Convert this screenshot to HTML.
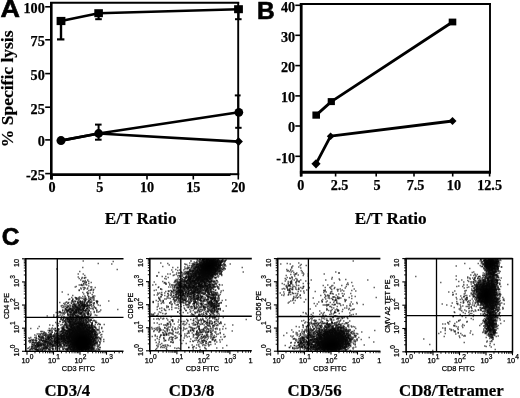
<!DOCTYPE html>
<html><head><meta charset="utf-8"><style>
html,body{margin:0;padding:0;background:#fff;}
body{width:520px;height:398px;overflow:hidden;}
svg{display:block;will-change:transform;}
</style></head><body>
<svg width="520" height="398" viewBox="0 0 520 398">
<defs><filter id="bb" x="-50%" y="-50%" width="200%" height="200%"><feGaussianBlur stdDeviation="2.5"/></filter></defs>
<rect width="520" height="398" fill="#fff"/>
<line x1="51.3" y1="2" x2="51.3" y2="179.5" stroke="#000" stroke-width="2.6"/>
<line x1="50.1" y1="2.8" x2="239.2" y2="2.8" stroke="#000" stroke-width="1.9"/>
<line x1="238.2" y1="2" x2="238.2" y2="174.6" stroke="#000" stroke-width="1.9"/>
<line x1="50" y1="174.6" x2="230.5" y2="174.6" stroke="#000" stroke-width="2.8"/>
<line x1="230" y1="174.2" x2="239.2" y2="174.2" stroke="#000" stroke-width="2.0"/>
<line x1="45.2" y1="6.8" x2="51.3" y2="6.8" stroke="#000" stroke-width="1.6"/>
<text x="44.8" y="13.2" font-size="14.2" text-anchor="end" style="font-family:'Liberation Serif',serif;font-weight:bold;stroke:#000;stroke-width:0.25" >100</text>
<line x1="45.2" y1="39.8" x2="51.3" y2="39.8" stroke="#000" stroke-width="1.6"/>
<text x="44.8" y="46.199999999999996" font-size="14.2" text-anchor="end" style="font-family:'Liberation Serif',serif;font-weight:bold;stroke:#000;stroke-width:0.25" >75</text>
<line x1="45.2" y1="73.6" x2="51.3" y2="73.6" stroke="#000" stroke-width="1.6"/>
<text x="44.8" y="80.0" font-size="14.2" text-anchor="end" style="font-family:'Liberation Serif',serif;font-weight:bold;stroke:#000;stroke-width:0.25" >50</text>
<line x1="45.2" y1="107.2" x2="51.3" y2="107.2" stroke="#000" stroke-width="1.6"/>
<text x="44.8" y="113.60000000000001" font-size="14.2" text-anchor="end" style="font-family:'Liberation Serif',serif;font-weight:bold;stroke:#000;stroke-width:0.25" >25</text>
<line x1="45.2" y1="139.9" x2="51.3" y2="139.9" stroke="#000" stroke-width="1.6"/>
<text x="44.8" y="146.3" font-size="14.2" text-anchor="end" style="font-family:'Liberation Serif',serif;font-weight:bold;stroke:#000;stroke-width:0.25" >0</text>
<line x1="45.2" y1="173.6" x2="51.3" y2="173.6" stroke="#000" stroke-width="1.6"/>
<text x="44.8" y="180.0" font-size="14.2" text-anchor="end" style="font-family:'Liberation Serif',serif;font-weight:bold;stroke:#000;stroke-width:0.25" >-25</text>
<line x1="52" y1="174.6" x2="52" y2="179.5" stroke="#000" stroke-width="1.6"/>
<text x="52.0" y="191.7" font-size="14.2" text-anchor="middle" style="font-family:'Liberation Serif',serif;font-weight:bold;stroke:#000;stroke-width:0.25" >0</text>
<line x1="99.7" y1="174.6" x2="99.7" y2="179.5" stroke="#000" stroke-width="1.6"/>
<text x="99.7" y="191.7" font-size="14.2" text-anchor="middle" style="font-family:'Liberation Serif',serif;font-weight:bold;stroke:#000;stroke-width:0.25" >5</text>
<line x1="147" y1="174.6" x2="147" y2="179.5" stroke="#000" stroke-width="1.6"/>
<text x="147.0" y="191.7" font-size="14.2" text-anchor="middle" style="font-family:'Liberation Serif',serif;font-weight:bold;stroke:#000;stroke-width:0.25" >10</text>
<line x1="193.3" y1="174.6" x2="193.3" y2="179.5" stroke="#000" stroke-width="1.6"/>
<text x="193.3" y="191.7" font-size="14.2" text-anchor="middle" style="font-family:'Liberation Serif',serif;font-weight:bold;stroke:#000;stroke-width:0.25" >15</text>
<line x1="238.3" y1="174.6" x2="238.3" y2="179.5" stroke="#000" stroke-width="1.6"/>
<text x="238.3" y="191.7" font-size="14.2" text-anchor="middle" style="font-family:'Liberation Serif',serif;font-weight:bold;stroke:#000;stroke-width:0.25" >20</text>
<text x="140.6" y="224.3" font-size="17.2" text-anchor="middle" style="font-family:'Liberation Serif',serif;font-weight:bold;stroke:#000;stroke-width:0.2" >E/T Ratio</text>
<text x="0" y="0" font-size="17.5" text-anchor="middle" style="font-family:'Liberation Serif',serif;font-weight:bold;stroke:#000;stroke-width:0.2" transform="translate(13.3,88.8) rotate(-90)">% Specific lysis</text>
<text x="0" y="0" font-size="24.5" transform="translate(0.6,17.4) scale(1.1,1)" style="font-family:'Liberation Sans',sans-serif;font-weight:bold;stroke:#000;stroke-width:0.6">A</text>
<path d="M61,21 L98.6,13.2 L238.5,9.2" fill="none" stroke="#000" stroke-width="2.6" stroke-linejoin="round"/>
<path d="M61,140.6 L98.6,133.5 L238.8,112.3" fill="none" stroke="#000" stroke-width="2.6" stroke-linejoin="round"/>
<path d="M61,140.6 L98.6,133.5 L238.6,141.6" fill="none" stroke="#000" stroke-width="2.6" stroke-linejoin="round"/>
<line x1="61" y1="21" x2="61" y2="39.4" stroke="#000" stroke-width="2.4"/>
<line x1="57" y1="39.4" x2="64.4" y2="39.4" stroke="#000" stroke-width="2.2"/>
<line x1="98.6" y1="13" x2="98.6" y2="19.2" stroke="#000" stroke-width="2.2"/>
<line x1="95.2" y1="19.2" x2="101.8" y2="19.2" stroke="#000" stroke-width="2.0"/>
<line x1="238.5" y1="9" x2="238.5" y2="19.2" stroke="#000" stroke-width="2.2"/>
<line x1="235" y1="19.2" x2="241.6" y2="19.2" stroke="#000" stroke-width="2.0"/>
<line x1="98.6" y1="124.6" x2="98.6" y2="139.7" stroke="#000" stroke-width="2.0"/>
<line x1="95" y1="124.6" x2="101.6" y2="124.6" stroke="#000" stroke-width="2.0"/>
<line x1="95" y1="139.7" x2="101.6" y2="139.7" stroke="#000" stroke-width="2.0"/>
<line x1="238.3" y1="95.4" x2="238.3" y2="127.8" stroke="#000" stroke-width="2.0"/>
<line x1="234.8" y1="95.4" x2="240.6" y2="95.4" stroke="#000" stroke-width="2.0"/>
<line x1="235.2" y1="127.8" x2="241.6" y2="127.8" stroke="#000" stroke-width="2.0"/>
<rect x="56.6" y="16.9" width="8.8" height="8.2" fill="#000"/>
<rect x="94.3" y="9.2" width="8.6" height="8.0" fill="#000"/>
<rect x="234.1" y="5.199999999999999" width="8.8" height="8.0" fill="#000"/>
<circle cx="61" cy="140.6" r="4.5" fill="#000"/>
<circle cx="98.6" cy="133.5" r="4.4" fill="#000"/>
<circle cx="238.8" cy="112.3" r="4.4" fill="#000"/>
<path d="M234.29999999999998,141.6 L238.6,137.29999999999998 L242.9,141.6 L238.6,145.9 Z" fill="#000"/>
<line x1="301.2" y1="3" x2="301.2" y2="176.5" stroke="#000" stroke-width="2.8"/>
<line x1="299.9" y1="4" x2="491" y2="4" stroke="#000" stroke-width="1.9"/>
<line x1="490" y1="3" x2="490" y2="172.2" stroke="#000" stroke-width="1.9"/>
<line x1="299.9" y1="172.2" x2="491" y2="172.2" stroke="#000" stroke-width="3.0"/>
<line x1="295.3" y1="5.3" x2="301.2" y2="5.3" stroke="#000" stroke-width="1.6"/>
<text x="295.2" y="11.5" font-size="14.2" text-anchor="end" style="font-family:'Liberation Serif',serif;font-weight:bold;stroke:#000;stroke-width:0.25" >40</text>
<line x1="295.3" y1="35.3" x2="301.2" y2="35.3" stroke="#000" stroke-width="1.6"/>
<text x="295.2" y="41.5" font-size="14.2" text-anchor="end" style="font-family:'Liberation Serif',serif;font-weight:bold;stroke:#000;stroke-width:0.25" >30</text>
<line x1="295.3" y1="65.6" x2="301.2" y2="65.6" stroke="#000" stroke-width="1.6"/>
<text x="295.2" y="71.8" font-size="14.2" text-anchor="end" style="font-family:'Liberation Serif',serif;font-weight:bold;stroke:#000;stroke-width:0.25" >20</text>
<line x1="295.3" y1="95.9" x2="301.2" y2="95.9" stroke="#000" stroke-width="1.6"/>
<text x="295.2" y="102.10000000000001" font-size="14.2" text-anchor="end" style="font-family:'Liberation Serif',serif;font-weight:bold;stroke:#000;stroke-width:0.25" >10</text>
<line x1="295.3" y1="126" x2="301.2" y2="126" stroke="#000" stroke-width="1.6"/>
<text x="295.2" y="132.2" font-size="14.2" text-anchor="end" style="font-family:'Liberation Serif',serif;font-weight:bold;stroke:#000;stroke-width:0.25" >0</text>
<line x1="295.3" y1="156.3" x2="301.2" y2="156.3" stroke="#000" stroke-width="1.6"/>
<text x="295.2" y="162.5" font-size="14.2" text-anchor="end" style="font-family:'Liberation Serif',serif;font-weight:bold;stroke:#000;stroke-width:0.25" >-10</text>
<line x1="300.8" y1="172.2" x2="300.8" y2="176.5" stroke="#000" stroke-width="1.6"/>
<text x="300.8" y="190.3" font-size="14.2" text-anchor="middle" style="font-family:'Liberation Serif',serif;font-weight:bold;stroke:#000;stroke-width:0.25" >0</text>
<line x1="335.6" y1="172.2" x2="335.6" y2="176.5" stroke="#000" stroke-width="1.6"/>
<text x="339.6" y="190.3" font-size="14.2" text-anchor="middle" style="font-family:'Liberation Serif',serif;font-weight:bold;stroke:#000;stroke-width:0.25" >2.5</text>
<line x1="376.2" y1="172.2" x2="376.2" y2="176.5" stroke="#000" stroke-width="1.6"/>
<text x="377.0" y="190.3" font-size="14.2" text-anchor="middle" style="font-family:'Liberation Serif',serif;font-weight:bold;stroke:#000;stroke-width:0.25" >5</text>
<line x1="414" y1="172.2" x2="414" y2="176.5" stroke="#000" stroke-width="1.6"/>
<text x="415.5" y="190.3" font-size="14.2" text-anchor="middle" style="font-family:'Liberation Serif',serif;font-weight:bold;stroke:#000;stroke-width:0.25" >7.5</text>
<line x1="452.7" y1="172.2" x2="452.7" y2="176.5" stroke="#000" stroke-width="1.6"/>
<text x="453.9" y="190.3" font-size="14.2" text-anchor="middle" style="font-family:'Liberation Serif',serif;font-weight:bold;stroke:#000;stroke-width:0.25" >10</text>
<line x1="489.6" y1="172.2" x2="489.6" y2="176.5" stroke="#000" stroke-width="1.6"/>
<text x="489.6" y="190.3" font-size="14.2" text-anchor="middle" style="font-family:'Liberation Serif',serif;font-weight:bold;stroke:#000;stroke-width:0.25" >12.5</text>
<text x="390.7" y="224.2" font-size="17.2" text-anchor="middle" style="font-family:'Liberation Serif',serif;font-weight:bold;stroke:#000;stroke-width:0.2" >E/T Ratio</text>
<text x="257.0" y="18.6" font-size="24.5" text-anchor="start" style="font-family:'Liberation Sans',sans-serif;font-weight:bold;stroke:#000;stroke-width:0.6" >B</text>
<path d="M316.2,115.1 L331.3,101.6 L452.5,22.0" fill="none" stroke="#000" stroke-width="2.8" stroke-linejoin="round"/>
<path d="M316.0,163.8 L330.6,136.2 L452.5,121.0" fill="none" stroke="#000" stroke-width="2.8" stroke-linejoin="round"/>
<rect x="312.4" y="111.5" width="7.6" height="7.2" fill="#000"/>
<rect x="327.7" y="98.1" width="7.2" height="7.0" fill="#000"/>
<rect x="448.7" y="18.6" width="7.6" height="6.8" fill="#000"/>
<path d="M311.4,163.8 L316.0,159.20000000000002 L320.6,163.8 L316.0,168.4 Z" fill="#000"/>
<path d="M326.8,136.2 L330.6,132.39999999999998 L334.40000000000003,136.2 L330.6,140.0 Z" fill="#000"/>
<path d="M448.5,121.0 L452.5,117.0 L456.5,121.0 L452.5,125.0 Z" fill="#000"/>
<text x="1.8" y="245.4" font-size="24.5" text-anchor="start" style="font-family:'Liberation Sans',sans-serif;font-weight:bold;stroke:#000;stroke-width:0.6" >C</text>
<line x1="25.8" y1="258.2" x2="25.8" y2="352" stroke="#000" stroke-width="1.6"/>
<line x1="25.1" y1="258.8" x2="123.5" y2="258.8" stroke="#000" stroke-width="1.6"/>
<line x1="25.1" y1="351.3" x2="123.5" y2="351.3" stroke="#000" stroke-width="1.6"/>
<line x1="57.3" y1="258.8" x2="57.3" y2="351.3" stroke="#000" stroke-width="1.3"/>
<line x1="25.8" y1="317.4" x2="123.5" y2="317.4" stroke="#000" stroke-width="1.4"/>
<line x1="22" y1="351.3" x2="25.8" y2="351.3" stroke="#000" stroke-width="1.1"/>
<line x1="23.8" y1="344.34" x2="25.8" y2="344.34" stroke="#000" stroke-width="0.9"/>
<line x1="23.8" y1="340.27" x2="25.8" y2="340.27" stroke="#000" stroke-width="0.9"/>
<line x1="23.8" y1="337.38" x2="25.8" y2="337.38" stroke="#000" stroke-width="0.9"/>
<line x1="23.8" y1="335.14" x2="25.8" y2="335.14" stroke="#000" stroke-width="0.9"/>
<line x1="23.8" y1="333.31" x2="25.8" y2="333.31" stroke="#000" stroke-width="0.9"/>
<line x1="23.8" y1="331.76" x2="25.8" y2="331.76" stroke="#000" stroke-width="0.9"/>
<line x1="23.8" y1="330.42" x2="25.8" y2="330.42" stroke="#000" stroke-width="0.9"/>
<line x1="23.8" y1="329.23" x2="25.8" y2="329.23" stroke="#000" stroke-width="0.9"/>
<line x1="22" y1="328.18" x2="25.8" y2="328.18" stroke="#000" stroke-width="1.1"/>
<line x1="23.8" y1="321.21" x2="25.8" y2="321.21" stroke="#000" stroke-width="0.9"/>
<line x1="23.8" y1="317.14" x2="25.8" y2="317.14" stroke="#000" stroke-width="0.9"/>
<line x1="23.8" y1="314.25" x2="25.8" y2="314.25" stroke="#000" stroke-width="0.9"/>
<line x1="23.8" y1="312.01" x2="25.8" y2="312.01" stroke="#000" stroke-width="0.9"/>
<line x1="23.8" y1="310.18" x2="25.8" y2="310.18" stroke="#000" stroke-width="0.9"/>
<line x1="23.8" y1="308.63" x2="25.8" y2="308.63" stroke="#000" stroke-width="0.9"/>
<line x1="23.8" y1="307.29" x2="25.8" y2="307.29" stroke="#000" stroke-width="0.9"/>
<line x1="23.8" y1="306.11" x2="25.8" y2="306.11" stroke="#000" stroke-width="0.9"/>
<line x1="22" y1="305.05" x2="25.8" y2="305.05" stroke="#000" stroke-width="1.1"/>
<line x1="23.8" y1="298.09" x2="25.8" y2="298.09" stroke="#000" stroke-width="0.9"/>
<line x1="23.8" y1="294.02" x2="25.8" y2="294.02" stroke="#000" stroke-width="0.9"/>
<line x1="23.8" y1="291.13" x2="25.8" y2="291.13" stroke="#000" stroke-width="0.9"/>
<line x1="23.8" y1="288.89" x2="25.8" y2="288.89" stroke="#000" stroke-width="0.9"/>
<line x1="23.8" y1="287.06" x2="25.8" y2="287.06" stroke="#000" stroke-width="0.9"/>
<line x1="23.8" y1="285.51" x2="25.8" y2="285.51" stroke="#000" stroke-width="0.9"/>
<line x1="23.8" y1="284.17" x2="25.8" y2="284.17" stroke="#000" stroke-width="0.9"/>
<line x1="23.8" y1="282.98" x2="25.8" y2="282.98" stroke="#000" stroke-width="0.9"/>
<line x1="22" y1="281.93" x2="25.8" y2="281.93" stroke="#000" stroke-width="1.1"/>
<line x1="23.8" y1="274.96" x2="25.8" y2="274.96" stroke="#000" stroke-width="0.9"/>
<line x1="23.8" y1="270.89" x2="25.8" y2="270.89" stroke="#000" stroke-width="0.9"/>
<line x1="23.8" y1="268" x2="25.8" y2="268" stroke="#000" stroke-width="0.9"/>
<line x1="23.8" y1="265.76" x2="25.8" y2="265.76" stroke="#000" stroke-width="0.9"/>
<line x1="23.8" y1="263.93" x2="25.8" y2="263.93" stroke="#000" stroke-width="0.9"/>
<line x1="23.8" y1="262.38" x2="25.8" y2="262.38" stroke="#000" stroke-width="0.9"/>
<line x1="23.8" y1="261.04" x2="25.8" y2="261.04" stroke="#000" stroke-width="0.9"/>
<line x1="23.8" y1="259.86" x2="25.8" y2="259.86" stroke="#000" stroke-width="0.9"/>
<line x1="22" y1="258.8" x2="25.8" y2="258.8" stroke="#000" stroke-width="1.1"/>
<line x1="27" y1="351.3" x2="27" y2="354.7" stroke="#000" stroke-width="1.1"/>
<line x1="34.98" y1="351.3" x2="34.98" y2="353.3" stroke="#000" stroke-width="0.9"/>
<line x1="39.64" y1="351.3" x2="39.64" y2="353.3" stroke="#000" stroke-width="0.9"/>
<line x1="42.95" y1="351.3" x2="42.95" y2="353.3" stroke="#000" stroke-width="0.9"/>
<line x1="45.52" y1="351.3" x2="45.52" y2="353.3" stroke="#000" stroke-width="0.9"/>
<line x1="47.62" y1="351.3" x2="47.62" y2="353.3" stroke="#000" stroke-width="0.9"/>
<line x1="49.4" y1="351.3" x2="49.4" y2="353.3" stroke="#000" stroke-width="0.9"/>
<line x1="50.93" y1="351.3" x2="50.93" y2="353.3" stroke="#000" stroke-width="0.9"/>
<line x1="52.29" y1="351.3" x2="52.29" y2="353.3" stroke="#000" stroke-width="0.9"/>
<line x1="53.5" y1="351.3" x2="53.5" y2="354.7" stroke="#000" stroke-width="1.1"/>
<line x1="61.48" y1="351.3" x2="61.48" y2="353.3" stroke="#000" stroke-width="0.9"/>
<line x1="66.14" y1="351.3" x2="66.14" y2="353.3" stroke="#000" stroke-width="0.9"/>
<line x1="69.45" y1="351.3" x2="69.45" y2="353.3" stroke="#000" stroke-width="0.9"/>
<line x1="72.02" y1="351.3" x2="72.02" y2="353.3" stroke="#000" stroke-width="0.9"/>
<line x1="74.12" y1="351.3" x2="74.12" y2="353.3" stroke="#000" stroke-width="0.9"/>
<line x1="75.9" y1="351.3" x2="75.9" y2="353.3" stroke="#000" stroke-width="0.9"/>
<line x1="77.43" y1="351.3" x2="77.43" y2="353.3" stroke="#000" stroke-width="0.9"/>
<line x1="78.79" y1="351.3" x2="78.79" y2="353.3" stroke="#000" stroke-width="0.9"/>
<line x1="80" y1="351.3" x2="80" y2="354.7" stroke="#000" stroke-width="1.1"/>
<line x1="87.98" y1="351.3" x2="87.98" y2="353.3" stroke="#000" stroke-width="0.9"/>
<line x1="92.64" y1="351.3" x2="92.64" y2="353.3" stroke="#000" stroke-width="0.9"/>
<line x1="95.95" y1="351.3" x2="95.95" y2="353.3" stroke="#000" stroke-width="0.9"/>
<line x1="98.52" y1="351.3" x2="98.52" y2="353.3" stroke="#000" stroke-width="0.9"/>
<line x1="100.62" y1="351.3" x2="100.62" y2="353.3" stroke="#000" stroke-width="0.9"/>
<line x1="102.4" y1="351.3" x2="102.4" y2="353.3" stroke="#000" stroke-width="0.9"/>
<line x1="103.93" y1="351.3" x2="103.93" y2="353.3" stroke="#000" stroke-width="0.9"/>
<line x1="105.29" y1="351.3" x2="105.29" y2="353.3" stroke="#000" stroke-width="0.9"/>
<line x1="106.5" y1="351.3" x2="106.5" y2="354.7" stroke="#000" stroke-width="1.1"/>
<line x1="114.48" y1="351.3" x2="114.48" y2="353.3" stroke="#000" stroke-width="0.9"/>
<line x1="119.14" y1="351.3" x2="119.14" y2="353.3" stroke="#000" stroke-width="0.9"/>
<line x1="122.45" y1="351.3" x2="122.45" y2="353.3" stroke="#000" stroke-width="0.9"/>
<text x="21.4" y="363.3" font-size="7.4" style="font-family:'Liberation Sans',sans-serif;stroke:#000;stroke-width:0.25">10<tspan dy="-4.3" font-size="6.6">0</tspan></text>
<text x="47.9" y="363.3" font-size="7.4" style="font-family:'Liberation Sans',sans-serif;stroke:#000;stroke-width:0.25">10<tspan dy="-4.3" font-size="6.6">1</tspan></text>
<text x="74.4" y="363.3" font-size="7.4" style="font-family:'Liberation Sans',sans-serif;stroke:#000;stroke-width:0.25">10<tspan dy="-4.3" font-size="6.6">2</tspan></text>
<text x="100.9" y="363.3" font-size="7.4" style="font-family:'Liberation Sans',sans-serif;stroke:#000;stroke-width:0.25">10<tspan dy="-4.3" font-size="6.6">3</tspan></text>
<text x="0" y="0" font-size="7.4" text-anchor="middle" style="font-family:'Liberation Sans',sans-serif;stroke:#000;stroke-width:0.25" transform="translate(18.8,350.5) rotate(-90)">10<tspan dy="-4.3" font-size="6.6">0</tspan></text>
<text x="0" y="0" font-size="7.4" text-anchor="middle" style="font-family:'Liberation Sans',sans-serif;stroke:#000;stroke-width:0.25" transform="translate(18.8,327.375) rotate(-90)">10<tspan dy="-4.3" font-size="6.6">1</tspan></text>
<text x="0" y="0" font-size="7.4" text-anchor="middle" style="font-family:'Liberation Sans',sans-serif;stroke:#000;stroke-width:0.25" transform="translate(18.8,304.25) rotate(-90)">10<tspan dy="-4.3" font-size="6.6">2</tspan></text>
<text x="0" y="0" font-size="7.4" text-anchor="middle" style="font-family:'Liberation Sans',sans-serif;stroke:#000;stroke-width:0.25" transform="translate(18.8,281.125) rotate(-90)">10<tspan dy="-4.3" font-size="6.6">3</tspan></text>
<text x="0" y="0" font-size="7.4" text-anchor="middle" style="font-family:'Liberation Sans',sans-serif;stroke:#000;stroke-width:0.25" transform="translate(18.8,263.0) rotate(-90)">10</text>
<text x="78.5" y="370.9" font-size="7.4" text-anchor="middle" style="font-family:'Liberation Sans',sans-serif;stroke:#000;stroke-width:0.25">CD3 FITC</text>
<text x="0" y="0" font-size="7.2" text-anchor="middle" style="font-family:'Liberation Sans',sans-serif;stroke:#000;stroke-width:0.25" transform="translate(9.2,306.05) rotate(-90)">CD4 PE</text>
<text x="67.3" y="396.0" font-size="16.8" text-anchor="middle" style="font-family:'Liberation Serif',serif;font-weight:bold;stroke:#000;stroke-width:0.2" >CD3/4</text>
<line x1="149.8" y1="258" x2="149.8" y2="351.5" stroke="#000" stroke-width="1.6"/>
<line x1="149.1" y1="258.6" x2="251.8" y2="258.6" stroke="#000" stroke-width="1.6"/>
<line x1="149.1" y1="350.8" x2="251.8" y2="350.8" stroke="#000" stroke-width="1.6"/>
<line x1="180.8" y1="258.6" x2="180.8" y2="350.8" stroke="#000" stroke-width="1.3"/>
<line x1="149.8" y1="316.2" x2="251.8" y2="316.2" stroke="#000" stroke-width="1.4"/>
<line x1="146" y1="350.8" x2="149.8" y2="350.8" stroke="#000" stroke-width="1.1"/>
<line x1="147.8" y1="343.86" x2="149.8" y2="343.86" stroke="#000" stroke-width="0.9"/>
<line x1="147.8" y1="339.8" x2="149.8" y2="339.8" stroke="#000" stroke-width="0.9"/>
<line x1="147.8" y1="336.92" x2="149.8" y2="336.92" stroke="#000" stroke-width="0.9"/>
<line x1="147.8" y1="334.69" x2="149.8" y2="334.69" stroke="#000" stroke-width="0.9"/>
<line x1="147.8" y1="332.86" x2="149.8" y2="332.86" stroke="#000" stroke-width="0.9"/>
<line x1="147.8" y1="331.32" x2="149.8" y2="331.32" stroke="#000" stroke-width="0.9"/>
<line x1="147.8" y1="329.98" x2="149.8" y2="329.98" stroke="#000" stroke-width="0.9"/>
<line x1="147.8" y1="328.8" x2="149.8" y2="328.8" stroke="#000" stroke-width="0.9"/>
<line x1="146" y1="327.75" x2="149.8" y2="327.75" stroke="#000" stroke-width="1.1"/>
<line x1="147.8" y1="320.81" x2="149.8" y2="320.81" stroke="#000" stroke-width="0.9"/>
<line x1="147.8" y1="316.75" x2="149.8" y2="316.75" stroke="#000" stroke-width="0.9"/>
<line x1="147.8" y1="313.87" x2="149.8" y2="313.87" stroke="#000" stroke-width="0.9"/>
<line x1="147.8" y1="311.64" x2="149.8" y2="311.64" stroke="#000" stroke-width="0.9"/>
<line x1="147.8" y1="309.81" x2="149.8" y2="309.81" stroke="#000" stroke-width="0.9"/>
<line x1="147.8" y1="308.27" x2="149.8" y2="308.27" stroke="#000" stroke-width="0.9"/>
<line x1="147.8" y1="306.93" x2="149.8" y2="306.93" stroke="#000" stroke-width="0.9"/>
<line x1="147.8" y1="305.75" x2="149.8" y2="305.75" stroke="#000" stroke-width="0.9"/>
<line x1="146" y1="304.7" x2="149.8" y2="304.7" stroke="#000" stroke-width="1.1"/>
<line x1="147.8" y1="297.76" x2="149.8" y2="297.76" stroke="#000" stroke-width="0.9"/>
<line x1="147.8" y1="293.7" x2="149.8" y2="293.7" stroke="#000" stroke-width="0.9"/>
<line x1="147.8" y1="290.82" x2="149.8" y2="290.82" stroke="#000" stroke-width="0.9"/>
<line x1="147.8" y1="288.59" x2="149.8" y2="288.59" stroke="#000" stroke-width="0.9"/>
<line x1="147.8" y1="286.76" x2="149.8" y2="286.76" stroke="#000" stroke-width="0.9"/>
<line x1="147.8" y1="285.22" x2="149.8" y2="285.22" stroke="#000" stroke-width="0.9"/>
<line x1="147.8" y1="283.88" x2="149.8" y2="283.88" stroke="#000" stroke-width="0.9"/>
<line x1="147.8" y1="282.7" x2="149.8" y2="282.7" stroke="#000" stroke-width="0.9"/>
<line x1="146" y1="281.65" x2="149.8" y2="281.65" stroke="#000" stroke-width="1.1"/>
<line x1="147.8" y1="274.71" x2="149.8" y2="274.71" stroke="#000" stroke-width="0.9"/>
<line x1="147.8" y1="270.65" x2="149.8" y2="270.65" stroke="#000" stroke-width="0.9"/>
<line x1="147.8" y1="267.77" x2="149.8" y2="267.77" stroke="#000" stroke-width="0.9"/>
<line x1="147.8" y1="265.54" x2="149.8" y2="265.54" stroke="#000" stroke-width="0.9"/>
<line x1="147.8" y1="263.71" x2="149.8" y2="263.71" stroke="#000" stroke-width="0.9"/>
<line x1="147.8" y1="262.17" x2="149.8" y2="262.17" stroke="#000" stroke-width="0.9"/>
<line x1="147.8" y1="260.83" x2="149.8" y2="260.83" stroke="#000" stroke-width="0.9"/>
<line x1="147.8" y1="259.65" x2="149.8" y2="259.65" stroke="#000" stroke-width="0.9"/>
<line x1="146" y1="258.6" x2="149.8" y2="258.6" stroke="#000" stroke-width="1.1"/>
<line x1="150.4" y1="350.8" x2="150.4" y2="354.2" stroke="#000" stroke-width="1.1"/>
<line x1="158.38" y1="350.8" x2="158.38" y2="352.8" stroke="#000" stroke-width="0.9"/>
<line x1="163.04" y1="350.8" x2="163.04" y2="352.8" stroke="#000" stroke-width="0.9"/>
<line x1="166.35" y1="350.8" x2="166.35" y2="352.8" stroke="#000" stroke-width="0.9"/>
<line x1="168.92" y1="350.8" x2="168.92" y2="352.8" stroke="#000" stroke-width="0.9"/>
<line x1="171.02" y1="350.8" x2="171.02" y2="352.8" stroke="#000" stroke-width="0.9"/>
<line x1="172.8" y1="350.8" x2="172.8" y2="352.8" stroke="#000" stroke-width="0.9"/>
<line x1="174.33" y1="350.8" x2="174.33" y2="352.8" stroke="#000" stroke-width="0.9"/>
<line x1="175.69" y1="350.8" x2="175.69" y2="352.8" stroke="#000" stroke-width="0.9"/>
<line x1="176.9" y1="350.8" x2="176.9" y2="354.2" stroke="#000" stroke-width="1.1"/>
<line x1="184.88" y1="350.8" x2="184.88" y2="352.8" stroke="#000" stroke-width="0.9"/>
<line x1="189.54" y1="350.8" x2="189.54" y2="352.8" stroke="#000" stroke-width="0.9"/>
<line x1="192.85" y1="350.8" x2="192.85" y2="352.8" stroke="#000" stroke-width="0.9"/>
<line x1="195.42" y1="350.8" x2="195.42" y2="352.8" stroke="#000" stroke-width="0.9"/>
<line x1="197.52" y1="350.8" x2="197.52" y2="352.8" stroke="#000" stroke-width="0.9"/>
<line x1="199.3" y1="350.8" x2="199.3" y2="352.8" stroke="#000" stroke-width="0.9"/>
<line x1="200.83" y1="350.8" x2="200.83" y2="352.8" stroke="#000" stroke-width="0.9"/>
<line x1="202.19" y1="350.8" x2="202.19" y2="352.8" stroke="#000" stroke-width="0.9"/>
<line x1="203.4" y1="350.8" x2="203.4" y2="354.2" stroke="#000" stroke-width="1.1"/>
<line x1="211.38" y1="350.8" x2="211.38" y2="352.8" stroke="#000" stroke-width="0.9"/>
<line x1="216.04" y1="350.8" x2="216.04" y2="352.8" stroke="#000" stroke-width="0.9"/>
<line x1="219.35" y1="350.8" x2="219.35" y2="352.8" stroke="#000" stroke-width="0.9"/>
<line x1="221.92" y1="350.8" x2="221.92" y2="352.8" stroke="#000" stroke-width="0.9"/>
<line x1="224.02" y1="350.8" x2="224.02" y2="352.8" stroke="#000" stroke-width="0.9"/>
<line x1="225.8" y1="350.8" x2="225.8" y2="352.8" stroke="#000" stroke-width="0.9"/>
<line x1="227.33" y1="350.8" x2="227.33" y2="352.8" stroke="#000" stroke-width="0.9"/>
<line x1="228.69" y1="350.8" x2="228.69" y2="352.8" stroke="#000" stroke-width="0.9"/>
<line x1="229.9" y1="350.8" x2="229.9" y2="354.2" stroke="#000" stroke-width="1.1"/>
<line x1="237.88" y1="350.8" x2="237.88" y2="352.8" stroke="#000" stroke-width="0.9"/>
<line x1="242.54" y1="350.8" x2="242.54" y2="352.8" stroke="#000" stroke-width="0.9"/>
<line x1="245.85" y1="350.8" x2="245.85" y2="352.8" stroke="#000" stroke-width="0.9"/>
<line x1="248.42" y1="350.8" x2="248.42" y2="352.8" stroke="#000" stroke-width="0.9"/>
<line x1="250.52" y1="350.8" x2="250.52" y2="352.8" stroke="#000" stroke-width="0.9"/>
<text x="144.8" y="363.3" font-size="7.4" style="font-family:'Liberation Sans',sans-serif;stroke:#000;stroke-width:0.25">10<tspan dy="-4.3" font-size="6.6">0</tspan></text>
<text x="171.3" y="363.3" font-size="7.4" style="font-family:'Liberation Sans',sans-serif;stroke:#000;stroke-width:0.25">10<tspan dy="-4.3" font-size="6.6">1</tspan></text>
<text x="197.8" y="363.3" font-size="7.4" style="font-family:'Liberation Sans',sans-serif;stroke:#000;stroke-width:0.25">10<tspan dy="-4.3" font-size="6.6">2</tspan></text>
<text x="224.3" y="363.3" font-size="7.4" style="font-family:'Liberation Sans',sans-serif;stroke:#000;stroke-width:0.25">10<tspan dy="-4.3" font-size="6.6">3</tspan></text>
<text x="248.60000000000002" y="363.3" font-size="7.4" style="font-family:'Liberation Sans',sans-serif;stroke:#000;stroke-width:0.25">1</text>
<text x="0" y="0" font-size="7.4" text-anchor="middle" style="font-family:'Liberation Sans',sans-serif;stroke:#000;stroke-width:0.25" transform="translate(142.8,350.0) rotate(-90)">10<tspan dy="-4.3" font-size="6.6">0</tspan></text>
<text x="0" y="0" font-size="7.4" text-anchor="middle" style="font-family:'Liberation Sans',sans-serif;stroke:#000;stroke-width:0.25" transform="translate(142.8,326.95) rotate(-90)">10<tspan dy="-4.3" font-size="6.6">1</tspan></text>
<text x="0" y="0" font-size="7.4" text-anchor="middle" style="font-family:'Liberation Sans',sans-serif;stroke:#000;stroke-width:0.25" transform="translate(142.8,303.90000000000003) rotate(-90)">10<tspan dy="-4.3" font-size="6.6">2</tspan></text>
<text x="0" y="0" font-size="7.4" text-anchor="middle" style="font-family:'Liberation Sans',sans-serif;stroke:#000;stroke-width:0.25" transform="translate(142.8,280.85) rotate(-90)">10<tspan dy="-4.3" font-size="6.6">3</tspan></text>
<text x="0" y="0" font-size="7.4" text-anchor="middle" style="font-family:'Liberation Sans',sans-serif;stroke:#000;stroke-width:0.25" transform="translate(142.8,262.8) rotate(-90)">10</text>
<text x="202.4" y="370.9" font-size="7.4" text-anchor="middle" style="font-family:'Liberation Sans',sans-serif;stroke:#000;stroke-width:0.25">CD3 FITC</text>
<text x="0" y="0" font-size="7.2" text-anchor="middle" style="font-family:'Liberation Sans',sans-serif;stroke:#000;stroke-width:0.25" transform="translate(133.20000000000002,305.70000000000005) rotate(-90)">CD8 PE</text>
<text x="191.6" y="396.0" font-size="16.8" text-anchor="middle" style="font-family:'Liberation Serif',serif;font-weight:bold;stroke:#000;stroke-width:0.2" >CD3/8</text>
<line x1="277.7" y1="258" x2="277.7" y2="351.9" stroke="#000" stroke-width="1.6"/>
<line x1="277" y1="258.6" x2="380.4" y2="258.6" stroke="#000" stroke-width="1.6"/>
<line x1="277" y1="351.2" x2="380.4" y2="351.2" stroke="#000" stroke-width="1.6"/>
<line x1="308.4" y1="258.6" x2="308.4" y2="351.2" stroke="#000" stroke-width="1.3"/>
<line x1="277.7" y1="316.5" x2="380.4" y2="316.5" stroke="#000" stroke-width="1.4"/>
<line x1="273.9" y1="351.2" x2="277.7" y2="351.2" stroke="#000" stroke-width="1.1"/>
<line x1="275.7" y1="344.23" x2="277.7" y2="344.23" stroke="#000" stroke-width="0.9"/>
<line x1="275.7" y1="340.15" x2="277.7" y2="340.15" stroke="#000" stroke-width="0.9"/>
<line x1="275.7" y1="337.26" x2="277.7" y2="337.26" stroke="#000" stroke-width="0.9"/>
<line x1="275.7" y1="335.02" x2="277.7" y2="335.02" stroke="#000" stroke-width="0.9"/>
<line x1="275.7" y1="333.19" x2="277.7" y2="333.19" stroke="#000" stroke-width="0.9"/>
<line x1="275.7" y1="331.64" x2="277.7" y2="331.64" stroke="#000" stroke-width="0.9"/>
<line x1="275.7" y1="330.29" x2="277.7" y2="330.29" stroke="#000" stroke-width="0.9"/>
<line x1="275.7" y1="329.11" x2="277.7" y2="329.11" stroke="#000" stroke-width="0.9"/>
<line x1="273.9" y1="328.05" x2="277.7" y2="328.05" stroke="#000" stroke-width="1.1"/>
<line x1="275.7" y1="321.08" x2="277.7" y2="321.08" stroke="#000" stroke-width="0.9"/>
<line x1="275.7" y1="317" x2="277.7" y2="317" stroke="#000" stroke-width="0.9"/>
<line x1="275.7" y1="314.11" x2="277.7" y2="314.11" stroke="#000" stroke-width="0.9"/>
<line x1="275.7" y1="311.87" x2="277.7" y2="311.87" stroke="#000" stroke-width="0.9"/>
<line x1="275.7" y1="310.04" x2="277.7" y2="310.04" stroke="#000" stroke-width="0.9"/>
<line x1="275.7" y1="308.49" x2="277.7" y2="308.49" stroke="#000" stroke-width="0.9"/>
<line x1="275.7" y1="307.14" x2="277.7" y2="307.14" stroke="#000" stroke-width="0.9"/>
<line x1="275.7" y1="305.96" x2="277.7" y2="305.96" stroke="#000" stroke-width="0.9"/>
<line x1="273.9" y1="304.9" x2="277.7" y2="304.9" stroke="#000" stroke-width="1.1"/>
<line x1="275.7" y1="297.93" x2="277.7" y2="297.93" stroke="#000" stroke-width="0.9"/>
<line x1="275.7" y1="293.85" x2="277.7" y2="293.85" stroke="#000" stroke-width="0.9"/>
<line x1="275.7" y1="290.96" x2="277.7" y2="290.96" stroke="#000" stroke-width="0.9"/>
<line x1="275.7" y1="288.72" x2="277.7" y2="288.72" stroke="#000" stroke-width="0.9"/>
<line x1="275.7" y1="286.89" x2="277.7" y2="286.89" stroke="#000" stroke-width="0.9"/>
<line x1="275.7" y1="285.34" x2="277.7" y2="285.34" stroke="#000" stroke-width="0.9"/>
<line x1="275.7" y1="283.99" x2="277.7" y2="283.99" stroke="#000" stroke-width="0.9"/>
<line x1="275.7" y1="282.81" x2="277.7" y2="282.81" stroke="#000" stroke-width="0.9"/>
<line x1="273.9" y1="281.75" x2="277.7" y2="281.75" stroke="#000" stroke-width="1.1"/>
<line x1="275.7" y1="274.78" x2="277.7" y2="274.78" stroke="#000" stroke-width="0.9"/>
<line x1="275.7" y1="270.7" x2="277.7" y2="270.7" stroke="#000" stroke-width="0.9"/>
<line x1="275.7" y1="267.81" x2="277.7" y2="267.81" stroke="#000" stroke-width="0.9"/>
<line x1="275.7" y1="265.57" x2="277.7" y2="265.57" stroke="#000" stroke-width="0.9"/>
<line x1="275.7" y1="263.74" x2="277.7" y2="263.74" stroke="#000" stroke-width="0.9"/>
<line x1="275.7" y1="262.19" x2="277.7" y2="262.19" stroke="#000" stroke-width="0.9"/>
<line x1="275.7" y1="260.84" x2="277.7" y2="260.84" stroke="#000" stroke-width="0.9"/>
<line x1="275.7" y1="259.66" x2="277.7" y2="259.66" stroke="#000" stroke-width="0.9"/>
<line x1="273.9" y1="258.6" x2="277.7" y2="258.6" stroke="#000" stroke-width="1.1"/>
<line x1="278" y1="351.2" x2="278" y2="354.6" stroke="#000" stroke-width="1.1"/>
<line x1="285.98" y1="351.2" x2="285.98" y2="353.2" stroke="#000" stroke-width="0.9"/>
<line x1="290.64" y1="351.2" x2="290.64" y2="353.2" stroke="#000" stroke-width="0.9"/>
<line x1="293.95" y1="351.2" x2="293.95" y2="353.2" stroke="#000" stroke-width="0.9"/>
<line x1="296.52" y1="351.2" x2="296.52" y2="353.2" stroke="#000" stroke-width="0.9"/>
<line x1="298.62" y1="351.2" x2="298.62" y2="353.2" stroke="#000" stroke-width="0.9"/>
<line x1="300.4" y1="351.2" x2="300.4" y2="353.2" stroke="#000" stroke-width="0.9"/>
<line x1="301.93" y1="351.2" x2="301.93" y2="353.2" stroke="#000" stroke-width="0.9"/>
<line x1="303.29" y1="351.2" x2="303.29" y2="353.2" stroke="#000" stroke-width="0.9"/>
<line x1="304.5" y1="351.2" x2="304.5" y2="354.6" stroke="#000" stroke-width="1.1"/>
<line x1="312.48" y1="351.2" x2="312.48" y2="353.2" stroke="#000" stroke-width="0.9"/>
<line x1="317.14" y1="351.2" x2="317.14" y2="353.2" stroke="#000" stroke-width="0.9"/>
<line x1="320.45" y1="351.2" x2="320.45" y2="353.2" stroke="#000" stroke-width="0.9"/>
<line x1="323.02" y1="351.2" x2="323.02" y2="353.2" stroke="#000" stroke-width="0.9"/>
<line x1="325.12" y1="351.2" x2="325.12" y2="353.2" stroke="#000" stroke-width="0.9"/>
<line x1="326.9" y1="351.2" x2="326.9" y2="353.2" stroke="#000" stroke-width="0.9"/>
<line x1="328.43" y1="351.2" x2="328.43" y2="353.2" stroke="#000" stroke-width="0.9"/>
<line x1="329.79" y1="351.2" x2="329.79" y2="353.2" stroke="#000" stroke-width="0.9"/>
<line x1="331" y1="351.2" x2="331" y2="354.6" stroke="#000" stroke-width="1.1"/>
<line x1="338.98" y1="351.2" x2="338.98" y2="353.2" stroke="#000" stroke-width="0.9"/>
<line x1="343.64" y1="351.2" x2="343.64" y2="353.2" stroke="#000" stroke-width="0.9"/>
<line x1="346.95" y1="351.2" x2="346.95" y2="353.2" stroke="#000" stroke-width="0.9"/>
<line x1="349.52" y1="351.2" x2="349.52" y2="353.2" stroke="#000" stroke-width="0.9"/>
<line x1="351.62" y1="351.2" x2="351.62" y2="353.2" stroke="#000" stroke-width="0.9"/>
<line x1="353.4" y1="351.2" x2="353.4" y2="353.2" stroke="#000" stroke-width="0.9"/>
<line x1="354.93" y1="351.2" x2="354.93" y2="353.2" stroke="#000" stroke-width="0.9"/>
<line x1="356.29" y1="351.2" x2="356.29" y2="353.2" stroke="#000" stroke-width="0.9"/>
<line x1="357.5" y1="351.2" x2="357.5" y2="354.6" stroke="#000" stroke-width="1.1"/>
<line x1="365.48" y1="351.2" x2="365.48" y2="353.2" stroke="#000" stroke-width="0.9"/>
<line x1="370.14" y1="351.2" x2="370.14" y2="353.2" stroke="#000" stroke-width="0.9"/>
<line x1="373.45" y1="351.2" x2="373.45" y2="353.2" stroke="#000" stroke-width="0.9"/>
<line x1="376.02" y1="351.2" x2="376.02" y2="353.2" stroke="#000" stroke-width="0.9"/>
<line x1="378.12" y1="351.2" x2="378.12" y2="353.2" stroke="#000" stroke-width="0.9"/>
<line x1="379.9" y1="351.2" x2="379.9" y2="353.2" stroke="#000" stroke-width="0.9"/>
<text x="272.4" y="363.3" font-size="7.4" style="font-family:'Liberation Sans',sans-serif;stroke:#000;stroke-width:0.25">10<tspan dy="-4.3" font-size="6.6">0</tspan></text>
<text x="298.9" y="363.3" font-size="7.4" style="font-family:'Liberation Sans',sans-serif;stroke:#000;stroke-width:0.25">10<tspan dy="-4.3" font-size="6.6">1</tspan></text>
<text x="325.4" y="363.3" font-size="7.4" style="font-family:'Liberation Sans',sans-serif;stroke:#000;stroke-width:0.25">10<tspan dy="-4.3" font-size="6.6">2</tspan></text>
<text x="351.9" y="363.3" font-size="7.4" style="font-family:'Liberation Sans',sans-serif;stroke:#000;stroke-width:0.25">10<tspan dy="-4.3" font-size="6.6">3</tspan></text>
<text x="377.2" y="363.3" font-size="7.4" style="font-family:'Liberation Sans',sans-serif;stroke:#000;stroke-width:0.25">1</text>
<text x="0" y="0" font-size="7.4" text-anchor="middle" style="font-family:'Liberation Sans',sans-serif;stroke:#000;stroke-width:0.25" transform="translate(270.7,350.4) rotate(-90)">10<tspan dy="-4.3" font-size="6.6">0</tspan></text>
<text x="0" y="0" font-size="7.4" text-anchor="middle" style="font-family:'Liberation Sans',sans-serif;stroke:#000;stroke-width:0.25" transform="translate(270.7,327.25) rotate(-90)">10<tspan dy="-4.3" font-size="6.6">1</tspan></text>
<text x="0" y="0" font-size="7.4" text-anchor="middle" style="font-family:'Liberation Sans',sans-serif;stroke:#000;stroke-width:0.25" transform="translate(270.7,304.09999999999997) rotate(-90)">10<tspan dy="-4.3" font-size="6.6">2</tspan></text>
<text x="0" y="0" font-size="7.4" text-anchor="middle" style="font-family:'Liberation Sans',sans-serif;stroke:#000;stroke-width:0.25" transform="translate(270.7,280.95) rotate(-90)">10<tspan dy="-4.3" font-size="6.6">3</tspan></text>
<text x="0" y="0" font-size="7.4" text-anchor="middle" style="font-family:'Liberation Sans',sans-serif;stroke:#000;stroke-width:0.25" transform="translate(270.7,262.8) rotate(-90)">10</text>
<text x="330.0" y="370.9" font-size="7.4" text-anchor="middle" style="font-family:'Liberation Sans',sans-serif;stroke:#000;stroke-width:0.25">CD3 FITC</text>
<text x="0" y="0" font-size="7.2" text-anchor="middle" style="font-family:'Liberation Sans',sans-serif;stroke:#000;stroke-width:0.25" transform="translate(261.09999999999997,305.9) rotate(-90)">CD56 PE</text>
<text x="314.6" y="396.0" font-size="16.8" text-anchor="middle" style="font-family:'Liberation Serif',serif;font-weight:bold;stroke:#000;stroke-width:0.2" >CD3/56</text>
<line x1="406.1" y1="258" x2="406.1" y2="352.5" stroke="#000" stroke-width="1.6"/>
<line x1="405.4" y1="258.6" x2="512.5" y2="258.6" stroke="#000" stroke-width="1.6"/>
<line x1="405.4" y1="351.8" x2="512.5" y2="351.8" stroke="#000" stroke-width="1.6"/>
<line x1="512.5" y1="258" x2="512.5" y2="352.5" stroke="#000" stroke-width="1.5"/>
<line x1="436.5" y1="258.6" x2="436.5" y2="351.8" stroke="#000" stroke-width="1.3"/>
<line x1="406.1" y1="315.6" x2="512.5" y2="315.6" stroke="#000" stroke-width="1.4"/>
<line x1="402.3" y1="351.8" x2="406.1" y2="351.8" stroke="#000" stroke-width="1.1"/>
<line x1="404.1" y1="344.79" x2="406.1" y2="344.79" stroke="#000" stroke-width="0.9"/>
<line x1="404.1" y1="340.68" x2="406.1" y2="340.68" stroke="#000" stroke-width="0.9"/>
<line x1="404.1" y1="337.77" x2="406.1" y2="337.77" stroke="#000" stroke-width="0.9"/>
<line x1="404.1" y1="335.51" x2="406.1" y2="335.51" stroke="#000" stroke-width="0.9"/>
<line x1="404.1" y1="333.67" x2="406.1" y2="333.67" stroke="#000" stroke-width="0.9"/>
<line x1="404.1" y1="332.11" x2="406.1" y2="332.11" stroke="#000" stroke-width="0.9"/>
<line x1="404.1" y1="330.76" x2="406.1" y2="330.76" stroke="#000" stroke-width="0.9"/>
<line x1="404.1" y1="329.57" x2="406.1" y2="329.57" stroke="#000" stroke-width="0.9"/>
<line x1="402.3" y1="328.5" x2="406.1" y2="328.5" stroke="#000" stroke-width="1.1"/>
<line x1="404.1" y1="321.49" x2="406.1" y2="321.49" stroke="#000" stroke-width="0.9"/>
<line x1="404.1" y1="317.38" x2="406.1" y2="317.38" stroke="#000" stroke-width="0.9"/>
<line x1="404.1" y1="314.47" x2="406.1" y2="314.47" stroke="#000" stroke-width="0.9"/>
<line x1="404.1" y1="312.21" x2="406.1" y2="312.21" stroke="#000" stroke-width="0.9"/>
<line x1="404.1" y1="310.37" x2="406.1" y2="310.37" stroke="#000" stroke-width="0.9"/>
<line x1="404.1" y1="308.81" x2="406.1" y2="308.81" stroke="#000" stroke-width="0.9"/>
<line x1="404.1" y1="307.46" x2="406.1" y2="307.46" stroke="#000" stroke-width="0.9"/>
<line x1="404.1" y1="306.27" x2="406.1" y2="306.27" stroke="#000" stroke-width="0.9"/>
<line x1="402.3" y1="305.2" x2="406.1" y2="305.2" stroke="#000" stroke-width="1.1"/>
<line x1="404.1" y1="298.19" x2="406.1" y2="298.19" stroke="#000" stroke-width="0.9"/>
<line x1="404.1" y1="294.08" x2="406.1" y2="294.08" stroke="#000" stroke-width="0.9"/>
<line x1="404.1" y1="291.17" x2="406.1" y2="291.17" stroke="#000" stroke-width="0.9"/>
<line x1="404.1" y1="288.91" x2="406.1" y2="288.91" stroke="#000" stroke-width="0.9"/>
<line x1="404.1" y1="287.07" x2="406.1" y2="287.07" stroke="#000" stroke-width="0.9"/>
<line x1="404.1" y1="285.51" x2="406.1" y2="285.51" stroke="#000" stroke-width="0.9"/>
<line x1="404.1" y1="284.16" x2="406.1" y2="284.16" stroke="#000" stroke-width="0.9"/>
<line x1="404.1" y1="282.97" x2="406.1" y2="282.97" stroke="#000" stroke-width="0.9"/>
<line x1="402.3" y1="281.9" x2="406.1" y2="281.9" stroke="#000" stroke-width="1.1"/>
<line x1="404.1" y1="274.89" x2="406.1" y2="274.89" stroke="#000" stroke-width="0.9"/>
<line x1="404.1" y1="270.78" x2="406.1" y2="270.78" stroke="#000" stroke-width="0.9"/>
<line x1="404.1" y1="267.87" x2="406.1" y2="267.87" stroke="#000" stroke-width="0.9"/>
<line x1="404.1" y1="265.61" x2="406.1" y2="265.61" stroke="#000" stroke-width="0.9"/>
<line x1="404.1" y1="263.77" x2="406.1" y2="263.77" stroke="#000" stroke-width="0.9"/>
<line x1="404.1" y1="262.21" x2="406.1" y2="262.21" stroke="#000" stroke-width="0.9"/>
<line x1="404.1" y1="260.86" x2="406.1" y2="260.86" stroke="#000" stroke-width="0.9"/>
<line x1="404.1" y1="259.67" x2="406.1" y2="259.67" stroke="#000" stroke-width="0.9"/>
<line x1="402.3" y1="258.6" x2="406.1" y2="258.6" stroke="#000" stroke-width="1.1"/>
<line x1="406.5" y1="351.8" x2="406.5" y2="355.2" stroke="#000" stroke-width="1.1"/>
<line x1="414.48" y1="351.8" x2="414.48" y2="353.8" stroke="#000" stroke-width="0.9"/>
<line x1="419.14" y1="351.8" x2="419.14" y2="353.8" stroke="#000" stroke-width="0.9"/>
<line x1="422.45" y1="351.8" x2="422.45" y2="353.8" stroke="#000" stroke-width="0.9"/>
<line x1="425.02" y1="351.8" x2="425.02" y2="353.8" stroke="#000" stroke-width="0.9"/>
<line x1="427.12" y1="351.8" x2="427.12" y2="353.8" stroke="#000" stroke-width="0.9"/>
<line x1="428.9" y1="351.8" x2="428.9" y2="353.8" stroke="#000" stroke-width="0.9"/>
<line x1="430.43" y1="351.8" x2="430.43" y2="353.8" stroke="#000" stroke-width="0.9"/>
<line x1="431.79" y1="351.8" x2="431.79" y2="353.8" stroke="#000" stroke-width="0.9"/>
<line x1="433" y1="351.8" x2="433" y2="355.2" stroke="#000" stroke-width="1.1"/>
<line x1="440.98" y1="351.8" x2="440.98" y2="353.8" stroke="#000" stroke-width="0.9"/>
<line x1="445.64" y1="351.8" x2="445.64" y2="353.8" stroke="#000" stroke-width="0.9"/>
<line x1="448.95" y1="351.8" x2="448.95" y2="353.8" stroke="#000" stroke-width="0.9"/>
<line x1="451.52" y1="351.8" x2="451.52" y2="353.8" stroke="#000" stroke-width="0.9"/>
<line x1="453.62" y1="351.8" x2="453.62" y2="353.8" stroke="#000" stroke-width="0.9"/>
<line x1="455.4" y1="351.8" x2="455.4" y2="353.8" stroke="#000" stroke-width="0.9"/>
<line x1="456.93" y1="351.8" x2="456.93" y2="353.8" stroke="#000" stroke-width="0.9"/>
<line x1="458.29" y1="351.8" x2="458.29" y2="353.8" stroke="#000" stroke-width="0.9"/>
<line x1="459.5" y1="351.8" x2="459.5" y2="355.2" stroke="#000" stroke-width="1.1"/>
<line x1="467.48" y1="351.8" x2="467.48" y2="353.8" stroke="#000" stroke-width="0.9"/>
<line x1="472.14" y1="351.8" x2="472.14" y2="353.8" stroke="#000" stroke-width="0.9"/>
<line x1="475.45" y1="351.8" x2="475.45" y2="353.8" stroke="#000" stroke-width="0.9"/>
<line x1="478.02" y1="351.8" x2="478.02" y2="353.8" stroke="#000" stroke-width="0.9"/>
<line x1="480.12" y1="351.8" x2="480.12" y2="353.8" stroke="#000" stroke-width="0.9"/>
<line x1="481.9" y1="351.8" x2="481.9" y2="353.8" stroke="#000" stroke-width="0.9"/>
<line x1="483.43" y1="351.8" x2="483.43" y2="353.8" stroke="#000" stroke-width="0.9"/>
<line x1="484.79" y1="351.8" x2="484.79" y2="353.8" stroke="#000" stroke-width="0.9"/>
<line x1="486" y1="351.8" x2="486" y2="355.2" stroke="#000" stroke-width="1.1"/>
<line x1="493.98" y1="351.8" x2="493.98" y2="353.8" stroke="#000" stroke-width="0.9"/>
<line x1="498.64" y1="351.8" x2="498.64" y2="353.8" stroke="#000" stroke-width="0.9"/>
<line x1="501.95" y1="351.8" x2="501.95" y2="353.8" stroke="#000" stroke-width="0.9"/>
<line x1="504.52" y1="351.8" x2="504.52" y2="353.8" stroke="#000" stroke-width="0.9"/>
<line x1="506.62" y1="351.8" x2="506.62" y2="353.8" stroke="#000" stroke-width="0.9"/>
<line x1="508.4" y1="351.8" x2="508.4" y2="353.8" stroke="#000" stroke-width="0.9"/>
<line x1="509.93" y1="351.8" x2="509.93" y2="353.8" stroke="#000" stroke-width="0.9"/>
<line x1="511.29" y1="351.8" x2="511.29" y2="353.8" stroke="#000" stroke-width="0.9"/>
<line x1="512.5" y1="351.8" x2="512.5" y2="355.2" stroke="#000" stroke-width="1.1"/>
<text x="400.9" y="363.3" font-size="7.4" style="font-family:'Liberation Sans',sans-serif;stroke:#000;stroke-width:0.25">10<tspan dy="-4.3" font-size="6.6">0</tspan></text>
<text x="427.4" y="363.3" font-size="7.4" style="font-family:'Liberation Sans',sans-serif;stroke:#000;stroke-width:0.25">10<tspan dy="-4.3" font-size="6.6">1</tspan></text>
<text x="453.9" y="363.3" font-size="7.4" style="font-family:'Liberation Sans',sans-serif;stroke:#000;stroke-width:0.25">10<tspan dy="-4.3" font-size="6.6">2</tspan></text>
<text x="480.4" y="363.3" font-size="7.4" style="font-family:'Liberation Sans',sans-serif;stroke:#000;stroke-width:0.25">10<tspan dy="-4.3" font-size="6.6">3</tspan></text>
<text x="506.9" y="363.3" font-size="7.4" style="font-family:'Liberation Sans',sans-serif;stroke:#000;stroke-width:0.25">10<tspan dy="-4.3" font-size="6.6">4</tspan></text>
<text x="0" y="0" font-size="7.4" text-anchor="middle" style="font-family:'Liberation Sans',sans-serif;stroke:#000;stroke-width:0.25" transform="translate(399.1,351.0) rotate(-90)">10<tspan dy="-4.3" font-size="6.6">0</tspan></text>
<text x="0" y="0" font-size="7.4" text-anchor="middle" style="font-family:'Liberation Sans',sans-serif;stroke:#000;stroke-width:0.25" transform="translate(399.1,327.7) rotate(-90)">10<tspan dy="-4.3" font-size="6.6">1</tspan></text>
<text x="0" y="0" font-size="7.4" text-anchor="middle" style="font-family:'Liberation Sans',sans-serif;stroke:#000;stroke-width:0.25" transform="translate(399.1,304.40000000000003) rotate(-90)">10<tspan dy="-4.3" font-size="6.6">2</tspan></text>
<text x="0" y="0" font-size="7.4" text-anchor="middle" style="font-family:'Liberation Sans',sans-serif;stroke:#000;stroke-width:0.25" transform="translate(399.1,281.1) rotate(-90)">10<tspan dy="-4.3" font-size="6.6">3</tspan></text>
<text x="0" y="0" font-size="7.4" text-anchor="middle" style="font-family:'Liberation Sans',sans-serif;stroke:#000;stroke-width:0.25" transform="translate(399.1,262.8) rotate(-90)">10</text>
<text x="458.3" y="370.9" font-size="7.4" text-anchor="middle" style="font-family:'Liberation Sans',sans-serif;stroke:#000;stroke-width:0.25">CD8 FITC</text>
<text x="0" y="0" font-size="7.2" text-anchor="middle" style="font-family:'Liberation Sans',sans-serif;stroke:#000;stroke-width:0.25" transform="translate(389.5,306.20000000000005) rotate(-90)">CMV A2 TET PE</text>
<text x="451.4" y="396.0" font-size="16.8" text-anchor="middle" style="font-family:'Liberation Serif',serif;font-weight:bold;stroke:#000;stroke-width:0.2" >CD8/Tetramer</text>
<clipPath id="cp0"><rect x="26.6" y="259.6" width="96.4" height="90.9"/></clipPath>
<g clip-path="url(#cp0)">
<ellipse cx="82" cy="343" rx="8.5" ry="9" transform="rotate(0 82 343)" fill="#000" opacity="1.0" filter="url(#bb)"/>
</g>
<path transform="scale(0.5)" d="M162 660h3M156 689h3M155 695h3M163 650h3M143 688h3M136 673h3M164 671h3M161 668h3M148 661h3M162 647h3M164 692h3M181 650h3M153 693h3M163 681h3M161 656h3M165 683h3M154 701h3M143 685h3M156 699h3M157 679h3M156 670h3M159 685h3M178 659h3M157 658h3M144 669h3M158 692h3M150 676h3M160 684h3M148 655h3M166 671h3M163 675h3M146 682h3M138 681h3M164 683h3M161 661h3M177 684h3M153 653h3M176 654h3M154 676h3M143 677h3M147 683h3M159 684h3M162 661h3M154 664h3M181 683h3M156 687h3M160 667h3M167 690h3M176 657h3M174 686h3M145 678h3M188 671h3M173 655h3M139 684h3M159 657h3M160 650h3M161 695h3M148 685h3M156 661h3M158 682h3M152 696h3M181 663h3M178 641h3M163 671h3M144 677h3M186 678h3M167 687h3M163 665h3M179 680h3M154 683h3M176 670h3M165 676h3M183 679h3M153 693h3M157 647h3M157 675h3M140 639h3M151 683h3M154 671h3M168 694h3M147 693h3M180 667h3M166 694h3M154 643h3M175 664h3M166 690h3M158 678h3M169 691h3M138 699h3M157 667h3M165 664h3M160 681h3M178 672h3M169 661h3M144 669h3M165 646h3M164 658h3M165 643h3M168 698h3M181 684h3M198 689h3M164 651h3M144 650h3M155 690h3M150 669h3M161 678h3M153 654h3M183 692h3M151 694h3M161 672h3M175 696h3M171 660h3M177 683h3M146 668h3M170 685h3M145 668h3M189 701h3M143 681h3M143 672h3M169 672h3M158 681h3M173 655h3M156 691h3M146 643h3M188 694h3M153 687h3M170 657h3M152 659h3M165 674h3M143 693h3M163 671h3M157 696h3M163 676h3M160 650h3M168 686h3M153 673h3M165 662h3M176 681h3M160 685h3M144 678h3M166 671h3M159 687h3M168 689h3M161 674h3M139 698h3M138 663h3M154 682h3M178 657h3M154 685h3M160 670h3M162 659h3M159 678h3M149 672h3M177 666h3M176 698h3M150 698h3M166 677h3M175 689h3M193 671h3M183 661h3M168 680h3M171 699h3M171 693h3M157 668h3M152 674h3M140 673h3M175 626h3M159 681h3M171 678h3M159 671h3M138 674h3M154 683h3M166 678h3M137 674h3M163 678h3M166 666h3M154 695h3M188 660h3M153 667h3M159 659h3M159 675h3M184 674h3M183 678h3M171 699h3M173 688h3M149 688h3M153 665h3M159 666h3M145 651h3M172 697h3M171 669h3M167 685h3M158 651h3M163 674h3M161 683h3M198 675h3M173 692h3M148 690h3M142 685h3M137 674h3M161 688h3M146 670h3M178 689h3M160 669h3M161 692h3M138 665h3M180 681h3M174 667h3M168 664h3M158 671h3M171 655h3M178 682h3M172 682h3M144 689h3M165 654h3M163 663h3M175 680h3M177 641h3M179 663h3M147 688h3M157 662h3M168 659h3M162 662h3M162 656h3M165 666h3M194 675h3M188 676h3M171 679h3M168 669h3M130 699h3M159 695h3M149 669h3M176 696h3M161 672h3M159 672h3M176 680h3M167 686h3M167 674h3M157 685h3M167 693h3M133 679h3M171 673h3M161 688h3M164 647h3M158 646h3M158 666h3M178 662h3M176 660h3M174 664h3M152 672h3M169 668h3M174 681h3M160 695h3M166 681h3M162 700h3M149 671h3M159 660h3M172 663h3M161 699h3M167 658h3M160 650h3M181 662h3M153 655h3M151 670h3M161 657h3M151 686h3M177 685h3M167 677h3M163 673h3M195 693h3M168 664h3M139 666h3M154 678h3M185 672h3M157 693h3M154 652h3M181 695h3M143 688h3M138 671h3M168 657h3M162 696h3M145 671h3M171 670h3M157 687h3M179 655h3M141 683h3M175 693h3M171 672h3M167 690h3M148 668h3M146 691h3M165 669h3M155 671h3M153 686h3M152 680h3M172 676h3M154 662h3M164 678h3M186 688h3M163 693h3M185 700h3M165 685h3M140 674h3M165 673h3M184 658h3M182 698h3M180 667h3M145 687h3M168 686h3M163 648h3M155 682h3M165 691h3M152 685h3M167 698h3M169 683h3M170 677h3M154 659h3M175 678h3M146 671h3M202 669h3M183 682h3M145 672h3M163 673h3M189 643h3M151 649h3M158 671h3M151 677h3M145 671h3M152 696h3M166 685h3M156 678h3M160 682h3M142 651h3M141 665h3M199 678h3M159 665h3M144 662h3M161 686h3M155 671h3M149 667h3M199 649h3M150 669h3M156 679h3M145 675h3M173 672h3M200 682h3M168 661h3M168 679h3M160 689h3M190 684h3M173 692h3M167 685h3M164 666h3M164 671h3M175 695h3M125 697h3M184 683h3M164 673h3M161 680h3M163 676h3M171 670h3M167 671h3M193 669h3M168 674h3M134 666h3M146 678h3M181 684h3M156 670h3M130 666h3M150 657h3M164 658h3M185 661h3M149 660h3M159 683h3M147 679h3M156 674h3M171 676h3M182 691h3M160 650h3M174 673h3M166 667h3M183 675h3M141 626h3M157 679h3M169 648h3M146 691h3M170 677h3M149 694h3M155 647h3M167 678h3M179 679h3M163 680h3M144 686h3M131 678h3M163 657h3M174 679h3M173 681h3M150 683h3M178 677h3M150 695h3M176 683h3M153 686h3M145 667h3M151 675h3M157 695h3M178 662h3M149 673h3M176 655h3M143 700h3M130 663h3M171 659h3M150 689h3M156 674h3M164 700h3M172 696h3M154 700h3M148 687h3M156 653h3M170 681h3M145 677h3M177 685h3M147 694h3M162 681h3M169 671h3M176 672h3M176 696h3M158 681h3M192 676h3M167 685h3M170 673h3M156 661h3M176 695h3M159 655h3M178 655h3M167 676h3M154 674h3M181 674h3M167 646h3M182 693h3M161 664h3M157 682h3M157 684h3M169 649h3M156 671h3M166 675h3M147 679h3M140 683h3M175 666h3M173 659h3M186 682h3M172 655h3M154 663h3M164 683h3M153 686h3M157 683h3M173 672h3M151 683h3M172 675h3M180 671h3M147 686h3M179 682h3M168 681h3M146 679h3M129 667h3M192 664h3M147 672h3M156 652h3M188 687h3M157 669h3M162 672h3M163 668h3M143 667h3M146 665h3M158 648h3M154 670h3M152 636h3M189 655h3M184 687h3M158 682h3M179 688h3M161 648h3M172 676h3M165 686h3M156 690h3M163 690h3M155 698h3M171 647h3M149 668h3M178 677h3M170 690h3M174 678h3M136 639h3M141 654h3M152 667h3M162 691h3M149 681h3M158 695h3M172 658h3M163 660h3M151 678h3M148 696h3M158 693h3M135 683h3M164 670h3M172 669h3M176 667h3M151 691h3M160 689h3M152 679h3M147 689h3M167 689h3M149 701h3M171 697h3M179 674h3M159 688h3M182 664h3M155 673h3M148 666h3M167 663h3M158 686h3M156 688h3M138 691h3M156 654h3M146 683h3M151 696h3M164 675h3M163 680h3M166 660h3M162 671h3M160 665h3M153 669h3M158 666h3M156 685h3M160 698h3M167 646h3M157 671h3M202 674h3M114 664h3M171 696h3M182 693h3M185 686h3M164 673h3M169 674h3M158 674h3M175 685h3M145 675h3M156 693h3M170 680h3M164 656h3M170 654h3M167 674h3M181 688h3M164 681h3M159 686h3M166 682h3M177 655h3M166 689h3M153 684h3M139 682h3M185 669h3M168 680h3M154 691h3M142 676h3M167 662h3M162 658h3M162 675h3M178 668h3M174 673h3M140 652h3M147 662h3M156 689h3M135 660h3M168 667h3M154 663h3M190 642h3M140 671h3M163 677h3M170 692h3M177 671h3M164 667h3M151 664h3M178 681h3M151 674h3M183 686h3M167 654h3M165 673h3M158 694h3M173 688h3M175 669h3M167 655h3M151 676h3M146 700h3M171 677h3M164 687h3M176 687h3M168 671h3M164 654h3M162 686h3M161 669h3M145 660h3M192 678h3M150 655h3M172 684h3M179 696h3M183 654h3M152 678h3M167 692h3M146 696h3M160 681h3M139 684h3M170 682h3M173 681h3M147 677h3M159 671h3M168 674h3M157 692h3M179 658h3M136 666h3M155 671h3M155 669h3M189 672h3M164 666h3M185 663h3M138 642h3M146 681h3M154 657h3M153 656h3M159 656h3M165 683h3M149 675h3M146 660h3M169 675h3M188 666h3M183 677h3M158 677h3M160 677h3M173 697h3M177 651h3M165 674h3M178 695h3M176 668h3M176 684h3M184 672h3M148 685h3M152 689h3M152 695h3M143 665h3M178 669h3M182 656h3M157 660h3M159 672h3M150 693h3M183 695h3M147 658h3M135 659h3M159 687h3M167 646h3M164 667h3M172 683h3M124 681h3M198 683h3M175 676h3M173 672h3M146 645h3M151 691h3M176 686h3M174 654h3M170 682h3M165 675h3M182 649h3M181 679h3M157 679h3M174 675h3M172 652h3M161 663h3M162 681h3M164 678h3M144 694h3M169 664h3M166 668h3M136 657h3M161 696h3M133 662h3M154 694h3M155 647h3M166 660h3M176 666h3M160 672h3M175 661h3M140 694h3M161 662h3M127 662h3M162 667h3M163 658h3M171 676h3M153 694h3M184 642h3M152 664h3M164 685h3M131 676h3M143 655h3M170 653h3M179 687h3M181 683h3M167 693h3M158 683h3M191 669h3M169 686h3M164 700h3M158 698h3M157 678h3M175 687h3M177 671h3M181 675h3M162 675h3M192 687h3M152 660h3M167 683h3M174 650h3M163 662h3M176 679h3M170 644h3M157 650h3M168 650h3M181 669h3M164 683h3M155 676h3M159 667h3M185 675h3M142 684h3M162 694h3M165 676h3M152 661h3M158 637h3M163 688h3M150 673h3M169 688h3M167 676h3M150 677h3M166 668h3M164 690h3M145 656h3M178 685h3M149 682h3M171 660h3M142 684h3M156 673h3M169 669h3M149 671h3M161 684h3M152 647h3M138 681h3M184 690h3M181 662h3M142 682h3M179 671h3M160 685h3M169 690h3M146 678h3M159 695h3M186 688h3M161 663h3M155 686h3M160 687h3M161 651h3M165 694h3M169 672h3M161 674h3M193 677h3M147 692h3M150 681h3M145 676h3M178 693h3M147 696h3M163 684h3M157 686h3M168 670h3M148 664h3M164 684h3M149 674h3M141 688h3M139 682h3M154 638h3M159 643h3M157 681h3M165 687h3M146 657h3M189 649h3M149 674h3M178 664h3M183 669h3M160 666h3M156 673h3M160 689h3M170 688h3M187 663h3M174 654h3M136 700h3M144 671h3M168 699h3M149 676h3M175 686h3M157 667h3M162 668h3M186 660h3M160 693h3M170 670h3M173 666h3M163 658h3M162 681h3M179 667h3M139 682h3M150 668h3M147 677h3M158 656h3M161 664h3M164 668h3M179 682h3M158 692h3M167 693h3M159 663h3M169 676h3M195 660h3M180 659h3M157 694h3M155 661h3M164 686h3M158 687h3M161 646h3M146 673h3M127 676h3M189 681h3M169 695h3M175 654h3M171 657h3M163 636h3M171 649h3M182 686h3M150 673h3M184 694h3M140 659h3M186 641h3M158 640h3M165 701h3M155 653h3M136 695h3M161 626h3M150 661h3M150 666h3M177 688h3M172 694h3M171 668h3M166 667h3M161 672h3M169 674h3M174 674h3M151 687h3M166 689h3M151 692h3M194 696h3M134 682h3M167 696h3M124 679h3M165 693h3M174 686h3M156 681h3M167 683h3M124 695h3M158 692h3M156 686h3M155 670h3M154 683h3M168 665h3M183 667h3M155 643h3M157 669h3M165 668h3M192 645h3M163 670h3M191 677h3M154 670h3M165 677h3M181 640h3M142 678h3M173 675h3M166 676h3M159 667h3M163 685h3M152 671h3M185 664h3M171 694h3M146 688h3M158 699h3M180 687h3M146 680h3M174 666h3M155 676h3M178 670h3M150 659h3M165 679h3M171 685h3M163 695h3M128 689h3M134 639h3M161 690h3M161 674h3M152 660h3M171 668h3M195 680h3M160 668h3M176 689h3M148 670h3M173 691h3M155 673h3M158 663h3M150 694h3M139 678h3M167 694h3M162 680h3M166 689h3M171 686h3M154 667h3M159 644h3M159 686h3M187 668h3M164 679h3M163 666h3M134 699h3M158 664h3M172 655h3M134 662h3M153 678h3M177 681h3M162 671h3M172 676h3M184 659h3M153 660h3M183 657h3M173 636h3M165 660h3M164 675h3M175 674h3M142 668h3M168 682h3M182 651h3M160 690h3M136 639h3M156 657h3M176 677h3M166 698h3M133 682h3M162 665h3M155 644h3M129 686h3M150 671h3M149 680h3M181 660h3M187 697h3M147 669h3M163 679h3M140 665h3M139 679h3M149 672h3M142 655h3M145 688h3M142 668h3M148 683h3M131 674h3M129 650h3M158 667h3M132 646h3M131 647h3M137 680h3M137 675h3M143 672h3M142 657h3M150 673h3M127 685h3M147 653h3M147 665h3M150 663h3M147 688h3M136 672h3M139 660h3M151 675h3M139 667h3M116 673h3M145 691h3M138 658h3M138 681h3M142 660h3M135 688h3M135 669h3M133 668h3M125 683h3M145 675h3M146 676h3M139 662h3M149 688h3M152 666h3M125 656h3M116 668h3M143 673h3M147 653h3M162 669h3M136 662h3M161 666h3M133 685h3M132 648h3M126 698h3M136 686h3M121 676h3M136 685h3M160 672h3M134 675h3M141 655h3M130 681h3M156 656h3M153 672h3M151 690h3M148 677h3M140 648h3M128 691h3M125 682h3M153 665h3M143 663h3M150 679h3M134 666h3M143 687h3M148 678h3M144 678h3M134 682h3M129 661h3M111 674h3M149 682h3M151 674h3M137 659h3M145 640h3M140 667h3M151 660h3M142 672h3M143 675h3M132 670h3M138 652h3M139 689h3M137 665h3M131 672h3M142 674h3M175 661h3M132 622h3M149 694h3M146 673h3M128 643h3M129 660h3M133 655h3M139 659h3M125 644h3M127 672h3M140 654h3M146 690h3M135 658h3M135 693h3M138 650h3M136 677h3M143 672h3M122 674h3M150 694h3M151 666h3M143 655h3M146 688h3M139 645h3M154 662h3M143 677h3M136 685h3M142 681h3M121 677h3M140 634h3M141 679h3M112 667h3M154 695h3M155 674h3M136 661h3M146 690h3M145 648h3M154 682h3M141 679h3M145 660h3M136 662h3M153 671h3M123 676h3M142 681h3M133 674h3M143 645h3M121 688h3M135 667h3M139 677h3M105 671h3M141 650h3M158 668h3M138 695h3M145 666h3M142 658h3M153 667h3M137 658h3M149 696h3M156 667h3M142 668h3M133 676h3M141 668h3M157 673h3M137 622h3M144 640h3M129 606h3M129 617h3M173 620h3M146 620h3M148 628h3M134 611h3M136 621h3M134 616h3M135 606h3M145 621h3M174 612h3M173 634h3M142 619h3M164 605h3M169 610h3M168 604h3M151 624h3M138 610h3M155 601h3M123 640h3M180 624h3M177 601h3M165 619h3M148 628h3M147 617h3M137 636h3M160 621h3M162 628h3M186 579h3M167 637h3M152 615h3M181 628h3M134 626h3M145 610h3M149 623h3M174 617h3M171 621h3M156 598h3M164 612h3M157 617h3M140 626h3M142 602h3M171 618h3M171 612h3M155 599h3M132 635h3M178 608h3M143 618h3M157 624h3M169 593h3M118 643h3M179 586h3M138 623h3M135 632h3M163 604h3M179 605h3M113 648h3M147 609h3M134 629h3M187 623h3M173 643h3M164 624h3M177 615h3M159 624h3M166 604h3M140 618h3M149 627h3M110 645h3M163 628h3M142 639h3M156 616h3M138 620h3M145 613h3M118 605h3M161 633h3M146 633h3M132 642h3M181 600h3M174 616h3M155 632h3M145 631h3M106 630h3M151 622h3M163 631h3M144 635h3M162 619h3M145 638h3M112 633h3M149 620h3M159 606h3M117 624h3M143 613h3M164 609h3M114 627h3M152 598h3M128 609h3M131 652h3M144 599h3M142 628h3M170 600h3M166 614h3M153 633h3M169 600h3M163 604h3M167 611h3M185 592h3M133 637h3M156 606h3M140 621h3M144 591h3M150 610h3M140 619h3M163 634h3M172 626h3M170 620h3M141 623h3M159 634h3M136 612h3M159 627h3M137 621h3M153 614h3M169 621h3M150 624h3M144 632h3M124 621h3M164 616h3M148 623h3M148 628h3M167 609h3M142 626h3M190 616h3M176 593h3M142 627h3M167 613h3M129 618h3M151 614h3M142 607h3M155 616h3M134 616h3M130 605h3M146 631h3M199 611h3M159 603h3M151 619h3M128 637h3M140 617h3M133 616h3M176 614h3M120 625h3M176 628h3M173 609h3M161 611h3M124 622h3M164 632h3M144 628h3M148 638h3M156 619h3M148 623h3M142 622h3M136 632h3M151 636h3M166 636h3M143 636h3M145 644h3M170 637h3M140 635h3M152 632h3M158 624h3M143 618h3M154 643h3M151 633h3M161 646h3M140 643h3M175 628h3M160 619h3M153 645h3M139 636h3M159 647h3M146 636h3M144 643h3M175 641h3M170 639h3M149 643h3M150 663h3M180 631h3M161 636h3M136 652h3M148 647h3M126 637h3M142 637h3M178 628h3M139 637h3M137 645h3M165 636h3M142 639h3M168 633h3M156 658h3M130 644h3M158 642h3M139 630h3M158 642h3M142 629h3M150 639h3M127 629h3M178 642h3M133 650h3M162 654h3M183 646h3M159 657h3M145 639h3M151 640h3M158 543h3M180 595h3M172 570h3M172 585h3M157 570h3M193 604h3M171 564h3M168 592h3M179 581h3M174 561h3M181 565h3M168 565h3M166 567h3M157 557h3M174 560h3M160 576h3M164 585h3M155 554h3M163 555h3M175 603h3M58 677h3M62 697h3M100 673h3M88 666h3M86 681h3M102 685h3M78 674h3M86 689h3M104 699h3M86 695h3M92 683h3M68 695h3M96 665h3M111 689h3M86 667h3M74 657h3M96 674h3M112 689h3M144 662h3M98 682h3M97 696h3M104 698h3M113 678h3M132 686h3M98 698h3M88 692h3M60 681h3M100 686h3M89 689h3M83 673h3M81 680h3M101 658h3M76 672h3M73 688h3M64 681h3M60 684h3M91 676h3M103 661h3M104 697h3M141 681h3M76 679h3M110 696h3M114 681h3M117 677h3M94 689h3M101 675h3M127 684h3M132 679h3M101 669h3M90 693h3M108 677h3M98 670h3M87 696h3M82 686h3M119 677h3M62 679h3M73 695h3M95 677h3M107 690h3M101 693h3M73 700h3M112 682h3M87 682h3M86 682h3M111 683h3M68 681h3M117 684h3M112 682h3M85 678h3M80 663h3M89 697h3M115 680h3M74 687h3M98 671h3M72 701h3M86 686h3M85 676h3M82 674h3M64 689h3M98 674h3M79 691h3M137 668h3M99 700h3M97 697h3M98 661h3M97 657h3M78 690h3M100 679h3M94 674h3M66 679h3M100 690h3M80 688h3M81 691h3M111 684h3M65 684h3M109 690h3M67 689h3M88 683h3M114 687h3M79 693h3M81 692h3M111 670h3M60 675h3M115 673h3M137 683h3M91 679h3M106 673h3M85 695h3M127 666h3M88 689h3M95 685h3M115 674h3M109 693h3M93 692h3M85 677h3M128 678h3M103 690h3M137 692h3M90 698h3M74 700h3M81 675h3M88 692h3M98 684h3M108 682h3M111 690h3M91 696h3M84 698h3M84 682h3M93 693h3M127 669h3M138 668h3M133 700h3M78 694h3M89 684h3M102 682h3M93 696h3M67 686h3M104 692h3M93 692h3M104 692h3M76 677h3M75 692h3M81 689h3M83 687h3M76 692h3M72 696h3M77 689h3M79 693h3M69 699h3M73 685h3M77 692h3M124 671h3M121 663h3M123 687h3M111 691h3M121 689h3M107 681h3M126 691h3M126 671h3M117 697h3M120 670h3M106 672h3M115 681h3M109 686h3M131 683h3M117 686h3M119 685h3M106 673h3M121 678h3M116 672h3M119 690h3M103 685h3M116 658h3M116 683h3M122 662h3M111 684h3M112 681h3M110 685h3M106 691h3M129 666h3M119 673h3M129 649h3M120 685h3M121 669h3M132 645h3M112 670h3M125 678h3M126 690h3M114 680h3M113 675h3M116 675h3M118 678h3M120 689h3M121 672h3M117 672h3M186 700h3M123 584h3M234 619h3M225 523h3" stroke="#000" stroke-width="3.2" stroke-opacity="0.6" fill="none"/>
<path transform="scale(0.5)" d="M166 672h3M148 687h3M153 681h3M149 642h3M156 677h3M159 685h3M164 670h3M151 625h3M174 692h3M163 686h3M140 658h3M190 655h3M170 672h3M171 669h3M159 667h3M151 687h3M161 692h3M157 690h3M158 647h3M146 660h3M171 689h3M177 679h3M167 687h3M149 681h3M153 672h3M159 696h3M161 676h3M150 674h3M167 661h3M173 668h3M158 650h3M154 667h3M144 653h3M162 698h3M162 667h3M151 694h3M167 676h3M153 681h3M163 662h3M160 651h3M155 696h3M155 669h3M154 692h3M160 679h3M175 663h3M174 686h3M183 686h3M148 686h3M132 689h3M163 653h3M148 663h3M168 691h3M150 684h3M161 668h3M172 682h3M134 672h3M163 669h3M164 695h3M173 660h3M169 690h3M160 657h3M182 675h3M125 653h3M147 681h3M167 677h3M157 661h3M175 687h3M170 653h3M184 665h3M146 671h3M159 693h3M170 680h3M165 674h3M190 667h3M166 679h3M149 669h3M170 682h3M143 672h3M149 693h3M159 651h3M161 680h3M167 687h3M172 678h3M152 665h3M146 656h3M160 649h3M142 690h3M176 700h3M167 692h3M145 697h3M135 674h3M157 673h3M160 693h3M139 673h3M177 701h3M156 660h3M158 658h3M174 677h3M148 655h3M151 666h3M170 671h3M147 683h3M147 695h3M141 657h3M167 668h3M151 688h3M136 683h3M162 700h3M172 698h3M147 695h3M141 654h3M156 666h3M162 673h3M161 644h3M160 674h3M152 664h3M161 692h3M149 668h3M162 641h3M153 657h3M164 668h3M148 691h3M145 654h3M156 694h3M165 685h3M158 673h3M141 672h3M127 665h3M153 694h3M144 696h3M164 690h3M172 695h3M170 691h3M157 669h3M157 672h3M162 684h3M170 666h3M161 671h3M183 665h3M173 666h3M167 673h3M169 664h3M159 679h3M149 618h3M153 668h3M150 669h3M151 688h3M157 671h3M148 698h3M157 685h3M147 685h3M160 663h3M157 694h3M172 684h3M168 676h3M167 693h3M157 682h3M178 662h3M149 678h3M134 679h3M160 696h3M153 675h3M190 679h3M182 687h3M163 668h3M157 677h3M169 701h3M175 638h3M135 665h3M170 694h3M158 673h3M133 662h3M167 671h3M141 686h3M168 680h3M160 689h3M163 674h3M168 673h3M165 665h3M145 674h3M152 650h3M152 671h3M148 677h3M146 697h3M149 695h3M156 669h3M156 682h3M150 699h3M151 662h3M155 661h3M197 677h3M167 684h3M158 668h3M187 669h3M172 662h3M164 675h3M174 639h3M147 689h3M194 659h3M177 658h3M153 701h3M169 680h3M172 642h3M156 662h3M143 683h3M175 688h3M172 658h3M154 654h3M154 669h3M174 692h3M186 698h3M173 666h3M171 644h3M171 683h3M150 694h3M140 658h3M160 655h3M170 670h3M160 659h3M156 698h3M167 690h3M187 677h3M168 665h3M137 684h3M152 683h3M142 675h3M148 693h3M143 663h3M170 692h3M148 681h3M161 649h3M174 689h3M146 672h3M150 687h3M157 671h3M131 678h3M188 686h3M178 681h3M140 697h3M158 659h3M159 689h3M152 674h3M153 678h3M197 666h3M154 692h3M156 685h3M149 655h3M169 659h3M158 669h3M164 684h3M130 688h3M177 695h3M187 690h3M196 699h3M171 672h3M149 674h3M150 651h3M177 664h3M149 659h3M157 653h3M158 680h3M131 669h3M151 674h3M136 684h3M165 648h3M175 677h3M160 685h3M165 646h3M150 671h3M161 658h3M159 666h3M141 686h3M180 688h3M180 663h3M166 671h3M179 696h3M160 685h3M157 653h3M165 692h3M128 649h3M165 683h3M190 675h3M168 688h3M167 652h3M181 662h3M175 672h3M154 694h3M168 662h3M141 682h3M150 648h3M164 656h3M138 687h3M174 673h3M177 662h3M126 677h3M166 676h3M187 691h3M170 653h3M159 678h3M167 692h3M152 665h3M136 676h3M168 653h3M175 659h3M157 680h3M166 667h3M170 698h3M137 678h3M132 662h3M131 655h3M179 691h3M171 679h3M172 643h3M184 684h3M160 674h3M148 688h3M180 674h3M157 685h3M144 689h3M165 672h3M182 693h3M172 686h3M166 679h3M138 674h3M149 659h3M151 682h3M174 684h3M183 679h3M184 689h3M163 670h3M165 681h3M152 665h3M181 695h3M147 678h3M173 679h3M166 670h3M174 680h3M149 640h3M172 676h3M185 663h3M183 698h3M145 661h3M173 665h3M150 689h3M164 694h3M179 691h3M204 663h3M160 681h3M183 686h3M156 671h3M162 701h3M146 676h3M184 657h3M180 684h3M160 651h3M146 647h3M143 689h3M180 656h3M172 678h3M150 671h3M160 683h3M157 686h3M171 642h3M152 697h3M158 672h3M150 672h3M150 680h3M168 676h3M167 674h3M166 648h3M150 699h3M155 683h3M165 671h3M166 664h3M161 671h3M157 678h3M168 686h3M164 676h3M161 679h3M138 684h3M155 649h3M142 668h3M143 661h3M170 654h3M168 680h3M151 696h3M177 684h3M161 670h3M149 674h3M171 683h3M161 687h3M129 693h3M136 663h3M149 680h3M152 652h3M186 685h3M178 678h3M160 686h3M173 652h3M167 674h3M176 669h3M151 694h3M172 674h3M168 684h3M175 666h3M152 668h3M146 661h3M173 681h3M161 681h3M165 679h3M176 697h3M157 657h3M193 685h3M145 685h3M153 687h3M170 654h3M159 686h3M167 697h3M176 676h3M176 672h3M179 697h3M168 672h3M155 663h3M161 693h3M144 681h3M165 685h3M171 694h3M166 659h3M129 682h3M143 686h3M182 663h3M161 700h3M164 663h3M149 691h3M160 698h3M168 666h3M161 683h3M162 665h3M148 678h3M175 681h3M142 681h3M152 692h3M183 665h3M169 687h3M159 660h3M160 660h3M151 697h3M145 664h3M162 679h3M152 669h3M157 667h3M171 680h3M169 630h3M161 658h3M200 670h3M164 685h3M167 683h3M154 663h3M171 686h3M157 670h3M177 669h3M176 668h3M153 661h3M141 691h3M143 650h3M173 652h3M164 649h3M151 689h3M185 656h3M169 650h3M149 695h3M169 680h3M157 670h3M138 651h3M184 698h3M177 695h3M177 666h3M170 691h3M131 687h3M157 692h3M161 671h3M163 695h3M143 678h3M166 655h3M140 695h3M178 672h3M142 691h3M163 651h3M180 679h3M166 674h3M152 662h3M144 672h3M169 698h3M170 652h3M158 683h3M157 665h3M182 649h3M151 684h3M160 666h3M164 663h3M139 671h3M151 689h3M182 683h3M174 650h3M142 674h3M175 685h3M159 665h3M167 693h3M174 660h3M134 696h3M154 678h3M152 659h3M151 677h3M152 699h3M182 663h3M172 682h3M157 694h3M148 656h3M189 663h3M161 681h3M163 685h3M158 696h3M164 691h3M172 675h3M156 660h3M155 692h3M152 669h3M157 682h3M163 664h3M157 701h3M154 675h3M175 650h3M168 693h3M151 653h3M183 685h3M195 674h3M142 673h3M159 685h3M142 682h3M174 638h3M154 684h3M170 680h3M147 673h3M180 682h3M159 673h3M156 655h3M160 691h3M166 688h3M149 656h3M172 669h3M166 682h3M163 687h3M167 691h3M197 700h3M126 688h3M158 680h3M154 689h3M173 646h3M179 670h3M160 689h3M165 669h3M134 700h3M172 661h3M188 679h3M168 653h3M150 686h3M147 655h3M154 681h3M162 670h3M168 693h3M176 641h3M164 674h3M181 700h3M150 681h3M170 664h3M131 672h3M132 680h3M178 683h3M159 664h3M172 666h3M157 677h3M143 636h3M178 655h3M147 692h3M168 679h3M151 675h3M158 698h3M156 657h3M158 657h3M174 674h3M145 700h3M120 688h3M176 667h3M152 668h3M143 677h3M168 660h3M187 654h3M171 667h3M173 670h3M164 665h3M160 660h3M156 669h3M168 659h3M141 695h3M171 677h3M141 655h3M170 683h3M148 664h3M169 684h3M184 660h3M177 668h3M169 683h3M174 661h3M169 660h3M158 673h3M148 684h3M163 693h3M171 672h3M159 676h3M151 657h3M175 673h3M150 681h3M154 672h3M145 675h3M167 675h3M170 664h3M143 679h3M155 653h3M181 672h3M140 685h3M167 651h3M148 696h3M153 691h3M161 692h3M153 670h3M150 670h3M180 679h3M169 670h3M158 672h3M155 693h3M176 662h3M153 671h3M146 673h3M160 680h3M200 679h3M156 677h3M174 698h3M146 670h3M153 678h3M165 658h3M153 673h3M157 693h3M186 661h3M176 691h3M153 697h3M172 672h3M166 654h3M174 683h3M156 674h3M138 668h3M152 673h3M126 656h3M159 691h3M146 686h3M157 676h3M167 662h3M153 655h3M152 641h3M154 673h3M175 682h3M159 690h3M175 698h3M166 692h3M158 675h3M145 673h3M161 701h3M141 658h3M191 666h3M177 655h3M145 699h3M142 672h3M130 687h3M159 677h3M158 667h3M160 668h3M190 670h3M170 683h3M151 679h3M172 673h3M163 696h3M173 665h3M155 690h3M174 684h3M172 676h3M159 677h3M156 685h3M160 656h3M160 681h3M169 671h3M154 665h3M163 677h3M192 631h3M163 665h3M168 698h3M173 669h3M153 670h3M168 633h3M161 679h3M155 676h3M189 680h3M172 686h3M172 686h3M172 673h3M162 680h3M172 652h3M162 695h3M165 688h3M172 680h3M158 671h3M197 662h3M159 662h3M167 658h3M167 673h3M175 678h3M142 695h3M184 684h3M176 656h3M148 658h3M190 668h3M152 679h3M171 699h3M161 669h3M185 686h3M165 681h3M169 666h3M152 678h3M166 687h3M177 677h3M162 686h3M179 666h3M187 681h3M157 681h3M133 664h3M149 671h3M147 694h3M165 676h3M160 683h3M160 686h3M153 688h3M179 679h3M156 693h3M142 692h3M156 658h3M179 689h3M154 687h3M143 689h3M161 668h3M146 700h3M152 678h3M156 663h3M167 681h3M184 694h3M152 695h3M137 665h3M159 678h3M160 657h3M176 681h3M148 667h3M152 656h3M137 685h3M177 681h3M147 667h3M161 683h3M161 687h3M168 668h3M176 650h3M160 679h3M150 678h3M168 660h3M163 690h3M171 687h3M177 653h3M171 676h3M175 681h3M185 682h3M137 669h3M175 678h3M167 659h3M153 678h3M149 699h3M153 681h3M140 701h3M131 692h3M161 679h3M182 665h3M157 665h3M161 700h3M167 694h3M180 674h3M168 681h3M181 675h3M169 692h3M167 669h3M177 676h3M151 666h3M137 667h3M171 655h3M163 673h3M157 667h3M156 693h3M152 648h3M141 663h3M169 669h3M177 692h3M177 670h3M146 671h3M164 674h3M132 671h3M156 662h3M164 689h3M148 689h3M165 678h3M143 685h3M172 657h3M164 673h3M164 700h3M176 681h3M157 680h3M160 674h3M206 679h3M167 677h3M142 673h3M141 671h3M142 699h3M157 658h3M175 695h3M177 683h3M144 668h3M153 670h3M178 687h3M124 693h3M158 695h3M182 653h3M150 674h3M176 663h3M158 690h3M169 686h3M172 695h3M150 667h3M162 666h3M170 661h3M182 675h3M175 672h3M153 685h3M146 664h3M165 699h3M173 692h3M183 677h3M165 685h3M147 676h3M142 643h3M140 664h3M163 698h3M168 658h3M148 692h3M140 700h3M138 693h3M178 693h3M165 659h3M145 689h3M146 691h3M155 690h3M153 682h3M158 699h3M154 660h3M139 649h3M167 678h3M160 669h3M182 701h3M163 656h3M169 655h3M155 656h3M136 678h3M145 672h3M173 669h3M170 672h3M165 666h3M138 676h3M179 678h3M160 652h3M148 673h3M143 657h3M178 673h3M167 687h3M160 665h3M180 691h3M158 680h3M148 666h3M179 675h3M160 676h3M166 684h3M198 695h3M170 689h3M148 668h3M152 679h3M159 669h3M142 694h3M137 687h3M153 669h3M193 674h3M151 696h3M167 678h3M182 659h3M172 681h3M146 695h3M165 672h3M154 679h3M142 657h3M174 691h3M169 689h3M145 685h3M151 671h3M182 695h3M164 676h3M177 677h3M148 673h3M166 684h3M162 678h3M156 680h3M140 694h3M174 686h3M148 696h3M165 665h3M165 693h3M148 683h3M156 684h3M166 687h3M175 684h3M175 659h3M175 671h3M179 691h3M150 686h3M155 655h3M166 685h3M159 680h3M190 675h3M146 695h3M198 649h3M143 652h3M172 673h3M173 681h3M184 684h3M150 693h3M187 683h3M171 683h3M141 672h3M162 684h3M163 685h3M168 687h3M156 688h3M174 680h3M136 670h3M161 684h3M144 691h3M160 681h3M162 694h3M173 665h3M157 699h3M172 681h3M175 674h3M183 690h3M169 701h3M138 667h3M134 675h3M153 633h3M133 672h3M146 648h3M131 693h3M126 659h3M146 665h3M146 676h3M137 671h3M132 679h3M137 670h3M124 657h3M145 672h3M127 650h3M147 649h3M133 655h3M141 640h3M147 679h3M137 663h3M142 659h3M142 666h3M134 667h3M140 662h3M134 683h3M138 666h3M142 672h3M136 664h3M139 657h3M116 660h3M143 676h3M136 644h3M136 667h3M130 669h3M123 660h3M136 678h3M140 689h3M129 661h3M144 650h3M119 643h3M138 651h3M124 665h3M144 680h3M130 671h3M148 661h3M159 653h3M119 672h3M139 681h3M139 674h3M146 675h3M137 682h3M145 690h3M126 659h3M135 678h3M132 686h3M137 681h3M125 682h3M139 659h3M143 682h3M166 686h3M139 672h3M127 680h3M143 677h3M136 695h3M138 647h3M146 692h3M146 675h3M139 682h3M140 691h3M146 674h3M140 672h3M156 685h3M135 675h3M146 674h3M149 649h3M133 638h3M128 679h3M123 665h3M125 674h3M153 697h3M146 691h3M151 668h3M136 665h3M148 666h3M152 676h3M154 684h3M135 664h3M133 654h3M143 642h3M142 670h3M137 669h3M145 692h3M137 665h3M145 676h3M132 673h3M150 679h3M139 674h3M136 664h3M125 693h3M145 692h3M132 684h3M133 660h3M139 648h3M139 668h3M153 679h3M133 664h3M134 670h3M135 673h3M139 671h3M141 666h3M139 653h3M140 662h3M152 666h3M145 661h3M130 665h3M132 676h3M142 665h3M144 652h3M138 693h3M137 664h3M131 685h3M148 660h3M139 638h3M136 675h3M152 673h3M134 696h3M153 668h3M130 680h3M147 680h3M147 677h3M138 674h3M130 667h3M138 672h3M152 653h3M138 695h3M123 667h3M124 664h3M144 678h3M140 656h3M128 660h3M127 684h3M151 700h3M135 675h3M126 672h3M155 670h3M135 658h3M137 692h3M138 670h3M137 677h3M140 667h3M139 636h3M156 609h3M124 630h3M128 624h3M159 605h3M188 592h3M129 620h3M175 634h3M141 606h3M151 616h3M187 606h3M185 611h3M140 611h3M153 618h3M152 619h3M139 613h3M171 609h3M153 625h3M168 600h3M179 631h3M172 611h3M150 596h3M118 625h3M161 607h3M184 594h3M159 602h3M144 646h3M143 635h3M181 605h3M141 605h3M129 645h3M126 607h3M168 613h3M124 626h3M145 635h3M169 621h3M160 606h3M159 614h3M192 620h3M155 611h3M148 612h3M173 611h3M149 635h3M176 619h3M167 607h3M134 621h3M195 610h3M161 620h3M126 612h3M185 597h3M118 623h3M172 612h3M159 617h3M194 603h3M157 621h3M152 614h3M146 635h3M144 665h3M138 633h3M162 625h3M170 596h3M158 611h3M175 626h3M127 626h3M178 611h3M167 610h3M163 606h3M125 638h3M150 614h3M148 626h3M151 612h3M151 637h3M121 638h3M216 602h3M150 603h3M175 587h3M144 601h3M156 622h3M140 633h3M161 596h3M157 620h3M188 615h3M172 606h3M166 629h3M154 619h3M159 609h3M163 610h3M117 624h3M157 625h3M137 639h3M138 598h3M166 613h3M181 610h3M168 604h3M163 604h3M114 652h3M159 614h3M121 635h3M150 619h3M158 636h3M154 625h3M158 594h3M145 625h3M170 613h3M144 610h3M140 618h3M156 618h3M157 600h3M159 621h3M173 617h3M163 625h3M164 612h3M160 627h3M175 610h3M167 610h3M147 623h3M136 621h3M120 630h3M147 614h3M148 602h3M131 610h3M157 624h3M147 609h3M166 636h3M136 619h3M143 621h3M163 597h3M165 610h3M137 643h3M158 619h3M156 626h3M147 626h3M150 630h3M151 596h3M146 632h3M165 613h3M126 615h3M162 634h3M154 610h3M149 643h3M172 634h3M180 617h3M134 614h3M130 620h3M169 626h3M154 604h3M145 603h3M173 604h3M155 620h3M164 597h3M119 630h3M148 607h3M153 612h3M161 614h3M119 630h3M179 603h3M167 617h3M150 610h3M140 643h3M147 628h3M162 611h3M174 629h3M166 621h3M180 640h3M150 647h3M184 636h3M154 632h3M165 650h3M154 654h3M166 641h3M154 641h3M147 627h3M124 645h3M153 634h3M170 634h3M134 628h3M152 623h3M189 630h3M159 639h3M149 635h3M175 637h3M157 646h3M161 648h3M166 630h3M147 644h3M175 631h3M136 630h3M150 647h3M162 647h3M145 644h3M156 641h3M163 636h3M141 646h3M137 640h3M181 636h3M159 656h3M154 631h3M139 643h3M139 649h3M154 650h3M140 646h3M172 654h3M162 638h3M170 642h3M149 643h3M156 648h3M162 637h3M169 638h3M174 634h3M154 639h3M145 639h3M176 643h3M141 639h3M178 605h3M169 561h3M182 596h3M170 569h3M166 579h3M187 596h3M167 578h3M170 568h3M168 556h3M162 557h3M176 563h3M176 572h3M174 588h3M170 596h3M168 563h3M181 580h3M165 562h3M183 589h3M151 573h3M167 563h3M134 670h3M99 675h3M77 689h3M101 689h3M95 676h3M67 693h3M86 671h3M113 672h3M85 691h3M96 677h3M79 668h3M71 672h3M88 671h3M105 670h3M85 676h3M122 692h3M98 694h3M101 673h3M100 696h3M109 675h3M116 685h3M89 682h3M82 676h3M110 683h3M66 693h3M59 699h3M106 690h3M91 686h3M104 684h3M108 673h3M97 681h3M96 687h3M84 663h3M72 681h3M96 676h3M75 692h3M92 671h3M98 699h3M93 676h3M78 674h3M70 691h3M122 677h3M82 698h3M113 688h3M97 689h3M65 696h3M111 681h3M78 680h3M76 684h3M90 696h3M98 661h3M91 668h3M107 679h3M99 686h3M89 678h3M82 667h3M81 691h3M96 690h3M113 681h3M89 684h3M96 683h3M127 655h3M118 700h3M105 682h3M103 678h3M92 697h3M116 679h3M98 676h3M98 695h3M128 691h3M77 673h3M76 673h3M71 676h3M96 672h3M96 699h3M103 678h3M114 676h3M58 685h3M113 667h3M117 672h3M76 686h3M69 692h3M90 673h3M76 697h3M89 695h3M121 674h3M97 676h3M95 687h3M109 679h3M96 669h3M81 681h3M108 670h3M83 672h3M59 681h3M104 692h3M79 690h3M74 686h3M91 698h3M101 674h3M96 693h3M94 679h3M110 677h3M95 672h3M110 698h3M107 681h3M68 698h3M103 697h3M142 677h3M93 688h3M100 672h3M82 663h3M104 691h3M95 661h3M95 679h3M132 697h3M119 690h3M54 697h3M57 683h3M90 693h3M116 677h3M64 699h3M70 686h3M98 677h3M81 697h3M82 675h3M120 686h3M70 693h3M56 682h3M82 690h3M104 673h3M94 691h3M85 699h3M98 691h3M95 682h3M104 692h3M84 688h3M108 687h3M91 684h3M68 675h3M86 698h3M95 683h3M104 699h3M85 690h3M127 694h3M122 683h3M108 666h3M119 693h3M91 692h3M77 696h3M133 677h3M69 698h3M93 695h3M74 700h3M71 695h3M83 700h3M72 690h3M62 694h3M59 699h3M76 690h3M71 698h3M73 692h3M118 685h3M130 691h3M112 677h3M130 664h3M101 662h3M115 692h3M107 683h3M113 672h3M130 679h3M114 682h3M123 678h3M122 679h3M127 681h3M128 676h3M118 674h3M114 684h3M120 669h3M113 671h3M136 659h3M126 673h3M125 678h3M126 676h3M142 644h3M124 673h3M116 677h3M120 686h3M118 689h3M132 664h3M110 662h3M117 686h3M126 681h3M122 672h3M125 671h3M110 691h3M122 692h3M131 638h3M112 685h3M106 670h3M114 658h3M115 671h3M109 657h3M129 684h3M117 688h3M113 679h3M149 574h3M112 538h3M160 621h3M111 625h3" stroke="#000" stroke-width="3.2" stroke-opacity="0.6" fill="none"/>
<path transform="scale(0.5)" d="M158 696h3M163 672h3M169 695h3M162 663h3M135 680h3M144 680h3M127 671h3M141 697h3M177 668h3M154 690h3M145 665h3M174 654h3M173 658h3M159 693h3M182 679h3M164 668h3M175 663h3M171 675h3M180 654h3M158 674h3M167 677h3M162 670h3M162 670h3M162 649h3M138 680h3M164 686h3M165 683h3M172 692h3M162 675h3M176 690h3M132 687h3M150 677h3M179 683h3M160 664h3M161 682h3M180 663h3M152 700h3M157 677h3M185 697h3M182 683h3M137 662h3M151 682h3M146 661h3M166 691h3M171 696h3M178 690h3M143 654h3M170 666h3M156 677h3M169 682h3M146 682h3M162 666h3M166 667h3M150 686h3M139 677h3M148 647h3M165 684h3M190 675h3M162 697h3M161 671h3M162 687h3M116 671h3M146 678h3M163 664h3M170 659h3M152 690h3M162 690h3M156 667h3M166 657h3M158 694h3M162 692h3M137 656h3M171 696h3M159 692h3M161 658h3M169 672h3M159 668h3M150 671h3M183 646h3M162 640h3M158 679h3M177 634h3M189 663h3M163 686h3M165 644h3M165 667h3M170 673h3M135 689h3M160 686h3M171 677h3M146 659h3M164 687h3M177 679h3M157 666h3M173 637h3M138 668h3M157 670h3M149 684h3M181 674h3M158 678h3M184 677h3M167 686h3M161 654h3M148 671h3M141 690h3M174 673h3M167 693h3M160 690h3M161 659h3M161 689h3M137 649h3M151 655h3M168 683h3M188 652h3M164 669h3M140 652h3M173 663h3M181 685h3M177 689h3M148 664h3M150 661h3M161 658h3M161 690h3M151 656h3M161 665h3M166 685h3M159 687h3M143 656h3M158 664h3M160 686h3M158 667h3M165 661h3M170 682h3M166 698h3M170 665h3M140 646h3M167 675h3M180 651h3M184 684h3M152 678h3M170 656h3M167 662h3M161 684h3M154 690h3M175 637h3M173 679h3M172 690h3M166 635h3M175 690h3M165 674h3M148 689h3M177 689h3M153 663h3M177 694h3M152 674h3M163 654h3M156 697h3M148 675h3M139 696h3M160 664h3M178 691h3M159 692h3M157 692h3M172 665h3M179 689h3M189 668h3M134 643h3M172 696h3M152 685h3M130 672h3M190 657h3M145 676h3M167 664h3M158 645h3M138 667h3M181 640h3M161 693h3M156 643h3M194 667h3M172 677h3M166 692h3M163 674h3M153 687h3M182 679h3M153 693h3M157 680h3M166 669h3M153 696h3M167 685h3M179 679h3M142 679h3M143 665h3M138 663h3M163 678h3M161 672h3M155 662h3M155 664h3M173 694h3M182 680h3M175 673h3M173 684h3M179 688h3M162 683h3M173 701h3M173 673h3M149 674h3M156 672h3M160 670h3M148 667h3M165 700h3M190 687h3M163 686h3M161 683h3M166 679h3M155 683h3M152 664h3M179 662h3M161 661h3M179 690h3M153 653h3M155 680h3M156 678h3M179 693h3M135 665h3M172 674h3M148 695h3M167 663h3M162 659h3M177 677h3M163 684h3M168 683h3M156 680h3M175 699h3M163 666h3M159 677h3M152 677h3M184 676h3M166 687h3M187 625h3M170 663h3M186 681h3M157 679h3M164 671h3M150 671h3M152 670h3M146 692h3M172 682h3M178 690h3M152 670h3M183 675h3M159 682h3M178 681h3M164 681h3M173 659h3M194 700h3M173 677h3M159 683h3M156 670h3M159 669h3M167 680h3M173 687h3M152 700h3M152 658h3M152 635h3M171 675h3M166 674h3M180 681h3M153 662h3M161 694h3M160 687h3M155 699h3M170 678h3M162 647h3M137 691h3M157 648h3M161 698h3M160 660h3M171 683h3M178 674h3M160 668h3M155 691h3M159 667h3M170 647h3M150 682h3M165 666h3M157 700h3M171 640h3M181 652h3M166 680h3M149 670h3M175 667h3M153 658h3M179 645h3M156 654h3M152 677h3M165 639h3M161 691h3M161 670h3M169 692h3M177 696h3M145 627h3M179 669h3M161 648h3M155 677h3M166 634h3M161 677h3M154 682h3M151 691h3M166 686h3M162 661h3M200 677h3M148 687h3M166 684h3M151 677h3M143 656h3M190 688h3M159 687h3M146 658h3M153 639h3M158 660h3M158 670h3M199 665h3M176 692h3M152 692h3M184 669h3M131 667h3M160 670h3M161 676h3M175 664h3M164 672h3M149 689h3M195 698h3M157 691h3M171 680h3M156 672h3M163 644h3M149 680h3M157 669h3M153 643h3M148 672h3M141 648h3M179 684h3M166 692h3M149 678h3M157 672h3M171 667h3M161 678h3M162 640h3M148 646h3M156 664h3M159 681h3M178 695h3M180 694h3M152 680h3M168 693h3M168 691h3M135 697h3M159 690h3M184 668h3M172 698h3M147 672h3M147 670h3M167 687h3M176 690h3M154 640h3M155 686h3M173 666h3M171 656h3M157 667h3M163 658h3M161 677h3M145 673h3M155 672h3M165 699h3M148 676h3M166 685h3M152 649h3M153 671h3M155 677h3M155 687h3M154 698h3M191 673h3M170 675h3M159 647h3M156 679h3M144 658h3M157 668h3M179 673h3M156 687h3M144 697h3M163 689h3M153 697h3M133 677h3M167 694h3M182 653h3M158 680h3M167 690h3M171 649h3M171 679h3M172 697h3M153 696h3M158 672h3M152 677h3M174 682h3M143 674h3M194 668h3M187 641h3M181 670h3M164 671h3M166 691h3M140 682h3M176 668h3M147 688h3M158 677h3M145 699h3M165 677h3M152 689h3M189 690h3M167 697h3M164 682h3M133 656h3M166 675h3M153 675h3M149 699h3M184 651h3M166 693h3M174 685h3M165 688h3M186 679h3M159 682h3M175 699h3M187 672h3M148 690h3M170 666h3M155 685h3M161 699h3M160 696h3M155 681h3M153 666h3M161 690h3M166 656h3M191 685h3M187 659h3M180 679h3M164 685h3M157 692h3M135 684h3M149 669h3M163 675h3M176 680h3M184 683h3M153 695h3M144 681h3M161 686h3M163 667h3M147 668h3M188 678h3M144 689h3M163 658h3M144 692h3M160 676h3M139 681h3M165 660h3M165 690h3M186 685h3M159 665h3M175 696h3M167 640h3M164 648h3M167 665h3M174 675h3M182 665h3M158 683h3M182 692h3M152 667h3M164 684h3M143 696h3M170 680h3M186 664h3M167 686h3M144 676h3M160 686h3M162 659h3M177 685h3M162 683h3M178 662h3M159 666h3M176 679h3M173 662h3M172 661h3M177 663h3M158 680h3M148 674h3M178 694h3M169 675h3M183 671h3M187 666h3M158 659h3M166 692h3M146 667h3M142 660h3M188 688h3M142 666h3M152 685h3M148 672h3M169 673h3M166 664h3M152 654h3M167 679h3M164 661h3M183 656h3M142 682h3M176 669h3M160 697h3M188 689h3M179 666h3M156 672h3M182 672h3M184 669h3M151 672h3M140 678h3M171 682h3M166 681h3M158 696h3M176 690h3M171 674h3M156 673h3M173 676h3M176 678h3M178 669h3M151 685h3M154 664h3M165 665h3M159 657h3M149 690h3M158 680h3M174 684h3M185 674h3M177 668h3M168 648h3M143 688h3M146 683h3M175 668h3M154 675h3M160 669h3M165 652h3M156 664h3M173 688h3M163 677h3M156 670h3M157 663h3M172 677h3M155 677h3M159 677h3M151 678h3M156 678h3M158 672h3M164 684h3M151 645h3M161 661h3M190 645h3M176 639h3M166 676h3M151 692h3M163 667h3M174 676h3M145 696h3M175 680h3M151 669h3M170 657h3M151 654h3M175 660h3M172 686h3M164 679h3M175 666h3M164 670h3M191 681h3M156 683h3M163 676h3M168 681h3M154 651h3M177 689h3M155 679h3M153 674h3M155 700h3M155 659h3M165 668h3M162 680h3M172 681h3M172 670h3M158 641h3M160 680h3M185 670h3M166 673h3M180 666h3M176 648h3M186 681h3M157 666h3M167 652h3M156 692h3M141 699h3M145 677h3M153 666h3M167 660h3M174 684h3M146 698h3M168 671h3M166 677h3M165 689h3M150 688h3M199 695h3M143 690h3M165 673h3M171 661h3M169 653h3M193 660h3M145 662h3M173 673h3M149 674h3M147 668h3M142 682h3M176 696h3M142 671h3M146 646h3M172 687h3M147 665h3M168 656h3M190 668h3M143 675h3M179 687h3M170 681h3M156 686h3M170 699h3M184 691h3M146 681h3M170 672h3M132 653h3M158 685h3M164 693h3M148 657h3M178 663h3M190 688h3M170 683h3M152 687h3M177 697h3M187 680h3M152 655h3M151 647h3M152 682h3M126 652h3M171 662h3M149 663h3M139 646h3M156 697h3M161 677h3M177 692h3M144 658h3M173 687h3M176 691h3M170 685h3M166 681h3M161 660h3M130 681h3M150 677h3M171 677h3M154 656h3M161 693h3M155 696h3M153 688h3M172 651h3M182 679h3M167 690h3M158 693h3M164 689h3M141 671h3M163 697h3M176 666h3M155 676h3M192 670h3M167 674h3M150 675h3M156 681h3M154 664h3M162 685h3M166 682h3M169 672h3M176 688h3M169 679h3M146 668h3M140 651h3M166 669h3M150 680h3M158 665h3M147 672h3M168 649h3M146 654h3M171 671h3M175 680h3M143 688h3M156 652h3M194 700h3M188 671h3M170 686h3M163 679h3M160 687h3M143 682h3M162 653h3M163 661h3M168 675h3M157 687h3M169 681h3M164 675h3M148 696h3M157 694h3M176 660h3M207 649h3M122 683h3M143 652h3M126 669h3M163 650h3M170 682h3M143 667h3M163 641h3M157 678h3M154 656h3M146 687h3M151 661h3M143 687h3M161 679h3M163 676h3M148 676h3M163 675h3M153 678h3M169 674h3M158 663h3M168 672h3M170 681h3M150 654h3M172 683h3M171 677h3M199 686h3M142 639h3M188 665h3M171 664h3M184 659h3M175 684h3M169 695h3M147 690h3M162 677h3M180 700h3M162 670h3M145 688h3M137 674h3M168 657h3M178 668h3M157 665h3M173 662h3M166 672h3M182 662h3M182 671h3M171 668h3M171 676h3M176 688h3M154 672h3M166 644h3M134 685h3M163 670h3M149 681h3M156 675h3M162 690h3M157 654h3M162 693h3M162 671h3M150 666h3M147 691h3M186 690h3M163 662h3M161 665h3M167 664h3M171 696h3M164 664h3M168 685h3M165 675h3M183 674h3M159 678h3M159 657h3M152 671h3M162 685h3M159 691h3M134 670h3M134 683h3M144 679h3M157 695h3M157 649h3M189 691h3M151 659h3M161 679h3M168 674h3M176 680h3M182 661h3M157 684h3M132 691h3M143 691h3M155 680h3M151 659h3M167 700h3M161 675h3M161 679h3M173 677h3M155 690h3M154 681h3M168 700h3M166 678h3M158 652h3M157 687h3M132 673h3M157 700h3M158 687h3M160 650h3M148 676h3M140 652h3M171 663h3M163 687h3M171 658h3M158 666h3M152 688h3M148 687h3M144 684h3M182 696h3M154 662h3M171 690h3M151 685h3M133 636h3M146 680h3M171 675h3M163 678h3M168 695h3M169 665h3M154 642h3M163 681h3M150 698h3M139 649h3M164 679h3M178 654h3M173 686h3M169 693h3M174 689h3M143 693h3M153 695h3M191 685h3M186 682h3M183 664h3M175 696h3M159 699h3M158 676h3M198 699h3M145 670h3M170 693h3M169 686h3M174 696h3M149 686h3M181 669h3M176 659h3M176 680h3M177 697h3M156 695h3M146 700h3M162 679h3M172 660h3M170 683h3M157 655h3M149 690h3M186 670h3M156 655h3M168 678h3M161 687h3M153 677h3M152 684h3M171 682h3M179 678h3M144 663h3M158 659h3M140 680h3M186 700h3M164 663h3M151 681h3M176 684h3M155 668h3M174 681h3M162 690h3M171 686h3M137 692h3M180 672h3M162 680h3M160 685h3M176 676h3M156 688h3M155 672h3M169 679h3M156 663h3M188 680h3M159 694h3M139 674h3M159 696h3M144 686h3M175 670h3M183 672h3M150 674h3M175 690h3M191 657h3M177 665h3M157 675h3M162 658h3M157 674h3M172 683h3M173 670h3M175 654h3M179 688h3M185 670h3M151 673h3M167 691h3M150 651h3M155 678h3M143 683h3M163 698h3M153 668h3M148 680h3M160 693h3M159 691h3M142 635h3M161 675h3M180 683h3M149 652h3M162 677h3M169 688h3M194 649h3M146 693h3M171 698h3M160 697h3M167 664h3M175 686h3M152 666h3M176 689h3M170 668h3M169 689h3M172 692h3M146 681h3M158 666h3M157 672h3M167 663h3M179 654h3M170 660h3M176 654h3M160 689h3M188 669h3M174 666h3M167 686h3M152 678h3M156 697h3M163 693h3M154 680h3M143 691h3M161 669h3M145 678h3M182 667h3M166 695h3M142 693h3M154 664h3M149 679h3M156 697h3M140 668h3M141 676h3M119 681h3M125 686h3M137 659h3M149 663h3M153 646h3M142 668h3M147 657h3M138 675h3M150 660h3M143 670h3M146 672h3M143 668h3M130 685h3M148 672h3M123 656h3M138 673h3M127 662h3M148 650h3M138 681h3M136 674h3M142 668h3M142 665h3M144 651h3M134 672h3M151 650h3M143 678h3M117 664h3M146 683h3M136 657h3M161 677h3M143 664h3M158 657h3M132 673h3M135 656h3M141 685h3M130 673h3M138 683h3M126 658h3M134 677h3M151 674h3M138 665h3M147 665h3M136 678h3M143 658h3M136 672h3M128 676h3M127 683h3M151 689h3M111 661h3M140 654h3M159 679h3M153 665h3M128 697h3M137 663h3M141 672h3M135 673h3M133 661h3M141 696h3M120 667h3M127 653h3M135 643h3M131 668h3M146 677h3M147 684h3M141 660h3M135 662h3M131 661h3M143 672h3M140 670h3M119 682h3M137 694h3M133 662h3M150 674h3M137 677h3M139 659h3M136 662h3M145 675h3M127 681h3M127 669h3M150 682h3M115 651h3M142 672h3M132 653h3M145 684h3M155 683h3M165 679h3M142 678h3M141 653h3M150 657h3M163 684h3M136 641h3M129 680h3M123 667h3M139 688h3M136 696h3M167 685h3M138 661h3M150 670h3M142 678h3M139 682h3M132 675h3M143 671h3M119 673h3M135 643h3M151 685h3M152 670h3M141 696h3M126 685h3M146 659h3M155 693h3M130 643h3M123 654h3M137 675h3M137 671h3M146 690h3M132 651h3M137 640h3M147 653h3M148 682h3M168 686h3M126 668h3M127 671h3M140 654h3M144 680h3M134 668h3M144 667h3M136 688h3M143 658h3M128 674h3M148 673h3M142 675h3M147 674h3M148 700h3M154 677h3M139 683h3M149 691h3M134 672h3M127 660h3M138 679h3M154 686h3M143 675h3M133 698h3M138 675h3M134 691h3M141 629h3M174 629h3M174 611h3M158 620h3M167 632h3M156 620h3M156 604h3M191 602h3M150 614h3M153 633h3M174 623h3M150 625h3M148 624h3M159 614h3M144 619h3M168 628h3M177 621h3M165 617h3M155 628h3M146 630h3M149 613h3M135 622h3M134 607h3M161 617h3M166 643h3M142 595h3M167 630h3M156 618h3M164 602h3M132 604h3M145 615h3M154 606h3M146 622h3M149 615h3M133 624h3M173 635h3M157 609h3M169 598h3M166 599h3M159 658h3M159 603h3M147 637h3M151 596h3M130 640h3M138 625h3M165 620h3M182 604h3M156 633h3M161 617h3M134 621h3M131 637h3M166 599h3M147 625h3M168 612h3M134 630h3M141 622h3M159 627h3M173 624h3M152 621h3M143 602h3M104 651h3M140 625h3M148 641h3M165 613h3M144 604h3M148 624h3M175 605h3M169 602h3M128 622h3M140 632h3M158 609h3M149 612h3M169 611h3M154 618h3M134 643h3M135 589h3M156 614h3M156 622h3M157 611h3M172 636h3M162 641h3M134 621h3M187 606h3M166 608h3M114 635h3M136 605h3M138 615h3M185 616h3M123 615h3M179 599h3M171 624h3M136 599h3M127 641h3M168 615h3M153 629h3M154 604h3M151 626h3M176 623h3M162 606h3M175 626h3M142 644h3M138 618h3M147 615h3M172 617h3M146 650h3M163 610h3M145 620h3M143 630h3M149 603h3M195 624h3M153 622h3M156 622h3M175 627h3M144 622h3M155 607h3M145 624h3M146 608h3M169 611h3M158 620h3M144 614h3M143 616h3M143 631h3M134 639h3M131 619h3M157 633h3M153 615h3M145 625h3M157 618h3M160 607h3M147 617h3M147 637h3M167 627h3M121 612h3M182 603h3M132 620h3M132 625h3M130 617h3M165 613h3M164 622h3M145 621h3M127 634h3M169 610h3M153 621h3M176 602h3M164 618h3M157 580h3M132 615h3M192 605h3M134 620h3M169 632h3M152 623h3M155 617h3M135 637h3M132 621h3M150 621h3M153 637h3M132 620h3M164 607h3M156 637h3M134 607h3M129 626h3M146 605h3M140 630h3M139 634h3M159 629h3M152 642h3M151 644h3M169 623h3M130 635h3M156 645h3M156 646h3M153 638h3M132 636h3M156 663h3M160 640h3M139 642h3M125 638h3M173 645h3M138 648h3M158 638h3M162 636h3M162 641h3M139 644h3M173 628h3M171 639h3M163 639h3M160 634h3M143 631h3M150 631h3M160 635h3M163 632h3M143 649h3M142 647h3M178 638h3M165 657h3M144 659h3M149 649h3M166 651h3M154 644h3M153 647h3M146 650h3M175 645h3M161 626h3M170 639h3M147 638h3M148 641h3M144 634h3M158 629h3M148 650h3M175 627h3M163 645h3M159 644h3M166 570h3M155 548h3M162 569h3M165 575h3M166 568h3M170 555h3M176 581h3M193 607h3M185 600h3M161 578h3M164 563h3M174 587h3M167 575h3M173 578h3M176 567h3M162 570h3M168 551h3M164 593h3M180 574h3M166 588h3M99 690h3M121 691h3M102 688h3M91 685h3M112 675h3M87 692h3M76 672h3M106 688h3M98 687h3M83 682h3M106 690h3M73 699h3M70 681h3M113 681h3M105 658h3M72 677h3M121 675h3M147 682h3M102 677h3M75 686h3M90 695h3M70 693h3M62 688h3M60 698h3M116 693h3M132 700h3M103 692h3M132 667h3M69 691h3M74 690h3M89 688h3M91 679h3M60 698h3M85 689h3M86 693h3M128 673h3M121 670h3M100 673h3M108 684h3M93 688h3M79 688h3M79 699h3M64 685h3M71 686h3M108 660h3M87 697h3M85 669h3M110 677h3M88 670h3M107 681h3M63 689h3M70 685h3M88 694h3M65 681h3M106 698h3M136 664h3M84 676h3M93 692h3M90 666h3M64 680h3M97 675h3M126 670h3M73 668h3M100 668h3M110 688h3M89 686h3M102 683h3M85 681h3M105 673h3M79 669h3M90 681h3M58 700h3M95 674h3M56 676h3M66 697h3M63 693h3M100 669h3M73 687h3M110 694h3M89 669h3M85 693h3M114 680h3M97 700h3M70 699h3M125 686h3M86 692h3M109 681h3M110 698h3M120 676h3M85 696h3M108 679h3M63 681h3M125 661h3M89 679h3M127 679h3M81 677h3M100 683h3M107 687h3M98 685h3M116 684h3M112 694h3M109 687h3M111 680h3M82 680h3M88 695h3M71 683h3M108 684h3M116 679h3M100 673h3M103 689h3M110 684h3M124 672h3M86 692h3M94 684h3M136 676h3M88 695h3M129 666h3M86 676h3M76 691h3M92 684h3M68 670h3M150 671h3M89 683h3M103 681h3M121 674h3M100 686h3M103 665h3M121 678h3M83 700h3M119 690h3M119 665h3M68 697h3M71 676h3M96 692h3M76 699h3M99 686h3M112 686h3M77 653h3M106 673h3M99 679h3M76 701h3M65 691h3M96 678h3M98 688h3M80 672h3M65 697h3M72 687h3M75 694h3M73 693h3M69 695h3M71 693h3M73 690h3M72 699h3M86 694h3M78 685h3M82 695h3M75 687h3M85 694h3M124 672h3M112 688h3M122 676h3M127 668h3M103 656h3M116 664h3M125 676h3M125 670h3M114 675h3M125 673h3M116 676h3M124 658h3M118 682h3M113 676h3M124 698h3M125 662h3M118 668h3M125 664h3M125 669h3M132 648h3M126 681h3M116 686h3M115 675h3M121 663h3M111 679h3M105 691h3M119 671h3M118 690h3M121 667h3M114 662h3M121 670h3M118 666h3M124 641h3M112 667h3M120 680h3M121 668h3M119 678h3M126 669h3M121 677h3M117 666h3M127 678h3M122 694h3M119 682h3M202 655h3M222 528h3M233 539h3" stroke="#000" stroke-width="3.2" stroke-opacity="0.6" fill="none"/>
<path transform="scale(0.5)" d="M150 675h3M181 651h3M167 644h3M172 696h3M144 691h3M166 641h3M154 676h3M155 673h3M151 645h3M160 645h3M163 690h3M164 659h3M145 662h3M172 666h3M153 662h3M145 679h3M178 659h3M134 678h3M172 677h3M183 667h3M160 667h3M156 661h3M171 685h3M170 669h3M134 674h3M193 690h3M169 670h3M169 671h3M147 696h3M165 669h3M134 688h3M174 678h3M173 674h3M182 649h3M148 687h3M151 664h3M157 674h3M158 688h3M153 683h3M142 658h3M168 644h3M145 675h3M162 697h3M158 669h3M172 681h3M175 675h3M173 700h3M183 656h3M174 644h3M138 697h3M174 680h3M163 680h3M141 676h3M153 675h3M151 673h3M143 660h3M163 686h3M131 677h3M149 659h3M161 668h3M165 680h3M177 651h3M143 673h3M173 651h3M161 672h3M160 681h3M183 646h3M184 677h3M164 637h3M154 689h3M163 681h3M164 663h3M148 693h3M159 684h3M147 673h3M183 663h3M159 683h3M183 689h3M155 670h3M166 687h3M161 672h3M163 649h3M142 680h3M138 646h3M194 683h3M161 669h3M146 688h3M155 682h3M157 672h3M159 658h3M151 668h3M176 681h3M173 687h3M170 689h3M146 669h3M176 670h3M147 657h3M154 675h3M144 660h3M162 669h3M159 657h3M170 688h3M163 676h3M138 679h3M161 664h3M152 696h3M152 653h3M148 682h3M158 677h3M163 672h3M148 670h3M149 688h3M123 675h3M147 659h3M181 655h3M135 686h3M161 691h3M180 688h3M161 669h3M147 653h3M159 657h3M154 657h3M163 684h3M133 691h3M156 681h3M154 675h3M164 694h3M139 675h3M167 670h3M168 693h3M178 678h3M175 695h3M141 669h3M157 700h3M161 698h3M168 663h3M151 643h3M177 674h3M166 682h3M150 680h3M167 672h3M123 663h3M186 673h3M173 663h3M189 676h3M181 675h3M159 687h3M141 649h3M141 680h3M155 690h3M149 691h3M171 682h3M157 678h3M179 700h3M165 686h3M164 672h3M142 691h3M165 675h3M150 674h3M162 678h3M172 691h3M197 691h3M191 674h3M169 676h3M186 683h3M171 684h3M157 686h3M157 680h3M179 670h3M162 700h3M155 678h3M141 694h3M161 660h3M162 684h3M172 670h3M161 663h3M161 638h3M161 665h3M164 672h3M155 698h3M155 668h3M140 688h3M170 674h3M141 685h3M184 690h3M149 684h3M134 673h3M163 674h3M168 687h3M160 685h3M185 675h3M158 690h3M153 659h3M176 680h3M150 682h3M133 692h3M159 688h3M170 698h3M154 657h3M154 696h3M155 647h3M155 662h3M164 680h3M147 666h3M160 680h3M166 693h3M146 655h3M159 688h3M147 664h3M159 680h3M182 687h3M172 685h3M132 673h3M163 659h3M159 688h3M144 690h3M156 651h3M167 666h3M163 688h3M178 674h3M170 690h3M158 671h3M148 685h3M161 651h3M175 700h3M149 685h3M169 685h3M157 695h3M149 643h3M150 691h3M190 664h3M163 675h3M131 665h3M159 680h3M147 699h3M147 664h3M158 678h3M165 683h3M159 680h3M134 677h3M151 669h3M196 647h3M156 677h3M174 655h3M140 686h3M146 662h3M149 688h3M128 681h3M164 693h3M132 691h3M165 677h3M167 691h3M142 662h3M154 675h3M145 696h3M177 673h3M163 674h3M147 657h3M155 650h3M178 674h3M134 641h3M143 649h3M162 672h3M164 687h3M147 682h3M163 686h3M160 668h3M151 692h3M163 670h3M169 674h3M165 682h3M162 679h3M150 667h3M175 693h3M178 659h3M174 690h3M157 680h3M150 693h3M142 671h3M141 699h3M153 676h3M179 687h3M171 646h3M157 657h3M182 665h3M177 688h3M156 671h3M155 690h3M145 678h3M173 690h3M173 661h3M202 657h3M160 681h3M167 678h3M170 699h3M183 697h3M142 668h3M170 683h3M159 679h3M149 676h3M171 673h3M165 682h3M142 670h3M159 683h3M172 693h3M181 682h3M174 669h3M144 692h3M139 684h3M141 686h3M157 653h3M144 701h3M148 661h3M171 695h3M168 684h3M173 657h3M146 673h3M164 673h3M127 690h3M149 694h3M162 661h3M138 653h3M160 678h3M179 657h3M145 686h3M185 652h3M146 670h3M169 691h3M173 693h3M142 677h3M168 683h3M172 698h3M183 658h3M123 679h3M164 680h3M152 680h3M163 661h3M135 680h3M169 681h3M155 686h3M154 653h3M176 698h3M160 660h3M156 681h3M187 688h3M172 689h3M186 681h3M153 672h3M153 652h3M157 673h3M176 684h3M145 687h3M156 666h3M149 684h3M160 695h3M156 690h3M183 669h3M149 678h3M162 668h3M190 645h3M162 694h3M155 687h3M173 680h3M160 654h3M156 696h3M163 656h3M177 655h3M146 672h3M149 685h3M164 694h3M161 669h3M150 683h3M165 688h3M192 684h3M160 643h3M165 645h3M142 670h3M132 663h3M158 676h3M149 668h3M154 664h3M147 674h3M173 698h3M132 668h3M156 699h3M162 659h3M151 686h3M179 682h3M176 672h3M179 686h3M164 669h3M173 691h3M166 682h3M151 700h3M153 698h3M159 682h3M193 693h3M148 681h3M138 699h3M178 653h3M142 660h3M163 661h3M169 671h3M155 685h3M147 690h3M164 623h3M168 651h3M154 682h3M132 671h3M142 661h3M167 694h3M147 676h3M188 654h3M182 672h3M178 662h3M166 682h3M151 679h3M179 667h3M162 670h3M156 691h3M145 683h3M143 673h3M163 701h3M158 690h3M172 650h3M165 665h3M161 680h3M190 683h3M158 637h3M148 661h3M152 647h3M162 665h3M170 671h3M166 676h3M162 647h3M158 672h3M161 683h3M193 687h3M166 665h3M150 673h3M157 660h3M146 696h3M161 677h3M152 670h3M160 637h3M160 660h3M170 663h3M179 657h3M182 674h3M155 674h3M145 678h3M171 677h3M150 678h3M162 679h3M181 651h3M165 658h3M133 652h3M150 680h3M143 647h3M161 662h3M146 677h3M137 660h3M166 679h3M162 663h3M181 669h3M153 663h3M155 687h3M163 681h3M173 665h3M162 682h3M153 672h3M145 658h3M162 650h3M188 674h3M157 687h3M149 679h3M190 670h3M191 698h3M160 651h3M170 666h3M169 662h3M149 640h3M175 701h3M154 683h3M164 685h3M123 661h3M197 654h3M167 663h3M172 695h3M161 671h3M171 667h3M169 654h3M135 698h3M148 690h3M169 690h3M159 676h3M154 645h3M158 654h3M171 673h3M138 644h3M153 656h3M157 666h3M146 692h3M198 685h3M147 683h3M189 686h3M154 666h3M168 668h3M194 676h3M160 671h3M163 690h3M145 678h3M191 660h3M177 685h3M163 658h3M147 649h3M163 670h3M149 687h3M179 676h3M147 662h3M147 700h3M162 677h3M153 660h3M180 697h3M164 681h3M164 680h3M154 671h3M159 654h3M165 680h3M111 685h3M178 669h3M160 690h3M179 642h3M163 678h3M165 669h3M169 691h3M170 669h3M168 669h3M142 668h3M178 683h3M150 668h3M176 687h3M171 665h3M143 676h3M145 664h3M159 642h3M173 694h3M141 668h3M151 662h3M167 694h3M162 680h3M147 686h3M151 681h3M167 628h3M152 699h3M159 659h3M143 667h3M172 674h3M185 678h3M165 682h3M133 699h3M162 693h3M163 669h3M177 672h3M152 697h3M161 661h3M161 694h3M154 685h3M161 678h3M163 677h3M167 647h3M162 684h3M146 686h3M169 686h3M189 687h3M157 675h3M185 654h3M195 682h3M169 666h3M167 694h3M155 659h3M169 669h3M149 686h3M143 688h3M160 679h3M154 690h3M161 700h3M156 664h3M173 688h3M161 682h3M177 673h3M159 679h3M165 681h3M157 701h3M146 670h3M153 677h3M145 687h3M165 683h3M142 685h3M177 693h3M168 663h3M173 689h3M167 679h3M166 657h3M182 700h3M164 673h3M169 688h3M155 668h3M171 680h3M150 664h3M206 683h3M153 660h3M153 678h3M143 664h3M177 693h3M194 693h3M167 671h3M163 665h3M148 670h3M147 680h3M164 671h3M151 689h3M137 679h3M148 683h3M157 667h3M157 659h3M163 667h3M165 684h3M155 664h3M145 670h3M163 668h3M181 668h3M164 676h3M163 680h3M147 664h3M147 669h3M145 691h3M152 666h3M174 682h3M161 651h3M174 660h3M142 650h3M160 676h3M161 688h3M150 634h3M152 690h3M151 677h3M159 684h3M166 683h3M172 668h3M156 661h3M167 672h3M167 685h3M162 667h3M170 700h3M179 663h3M148 666h3M187 678h3M172 636h3M161 669h3M152 700h3M184 694h3M139 689h3M184 690h3M149 653h3M143 698h3M161 660h3M152 693h3M161 690h3M146 692h3M180 678h3M162 695h3M152 696h3M179 668h3M135 650h3M152 674h3M167 649h3M170 682h3M177 656h3M175 656h3M188 667h3M157 658h3M166 671h3M170 665h3M145 698h3M142 689h3M138 659h3M146 662h3M153 695h3M162 666h3M142 675h3M158 677h3M181 688h3M162 686h3M145 657h3M164 647h3M153 660h3M177 680h3M166 679h3M190 669h3M147 678h3M191 700h3M171 692h3M164 683h3M153 687h3M149 659h3M162 689h3M160 682h3M189 672h3M164 686h3M146 661h3M143 666h3M156 699h3M152 679h3M144 696h3M159 678h3M180 677h3M160 682h3M149 666h3M176 670h3M158 669h3M168 679h3M173 676h3M174 699h3M159 661h3M176 673h3M159 675h3M162 639h3M159 686h3M175 690h3M174 683h3M175 682h3M161 671h3M197 658h3M168 679h3M171 641h3M164 676h3M171 666h3M152 696h3M176 699h3M153 668h3M164 683h3M149 687h3M183 700h3M151 682h3M161 663h3M156 689h3M167 662h3M162 674h3M153 665h3M153 687h3M148 671h3M148 682h3M166 696h3M151 672h3M151 688h3M149 647h3M169 670h3M163 660h3M176 678h3M164 669h3M164 669h3M165 681h3M162 669h3M154 681h3M174 683h3M196 690h3M163 664h3M166 669h3M156 680h3M192 676h3M180 676h3M164 672h3M169 679h3M176 666h3M165 690h3M167 670h3M148 669h3M164 666h3M171 681h3M167 666h3M182 689h3M156 662h3M172 658h3M185 677h3M183 649h3M159 672h3M156 682h3M149 676h3M162 679h3M158 664h3M158 700h3M156 671h3M141 680h3M173 682h3M167 678h3M133 655h3M163 690h3M167 689h3M148 672h3M131 652h3M166 661h3M148 679h3M146 689h3M167 671h3M148 690h3M172 695h3M165 676h3M164 652h3M172 670h3M153 666h3M157 664h3M160 664h3M182 695h3M162 659h3M168 687h3M158 701h3M159 671h3M162 658h3M163 635h3M154 683h3M173 696h3M158 700h3M152 664h3M164 666h3M175 656h3M156 681h3M150 672h3M143 647h3M158 682h3M152 667h3M169 692h3M158 670h3M154 686h3M149 692h3M163 669h3M142 671h3M191 700h3M126 670h3M173 688h3M154 680h3M146 651h3M167 672h3M175 676h3M149 677h3M186 662h3M152 695h3M194 691h3M162 676h3M147 675h3M148 667h3M178 663h3M130 698h3M170 698h3M152 669h3M176 694h3M155 697h3M147 692h3M166 655h3M177 694h3M154 689h3M165 697h3M165 681h3M176 670h3M171 692h3M170 701h3M152 668h3M177 668h3M185 678h3M133 677h3M163 643h3M175 681h3M170 681h3M144 699h3M152 669h3M160 650h3M156 699h3M179 691h3M163 673h3M151 674h3M148 694h3M159 679h3M155 673h3M168 663h3M171 672h3M182 669h3M158 666h3M185 678h3M188 661h3M155 668h3M146 675h3M174 680h3M167 680h3M165 672h3M176 696h3M155 682h3M168 684h3M151 678h3M181 687h3M165 677h3M143 681h3M163 682h3M133 667h3M162 694h3M175 661h3M166 681h3M159 678h3M149 664h3M147 672h3M162 675h3M177 701h3M170 687h3M157 672h3M177 677h3M170 688h3M177 649h3M164 696h3M180 699h3M142 686h3M170 670h3M163 685h3M165 696h3M169 690h3M169 683h3M155 674h3M160 667h3M166 687h3M151 690h3M164 685h3M170 677h3M156 670h3M171 674h3M181 673h3M142 642h3M141 694h3M170 652h3M168 695h3M157 690h3M186 659h3M171 667h3M172 676h3M150 680h3M150 668h3M160 683h3M181 681h3M167 675h3M159 674h3M185 696h3M178 677h3M171 695h3M178 681h3M155 667h3M172 674h3M192 676h3M179 668h3M177 673h3M168 664h3M163 680h3M155 654h3M168 675h3M124 666h3M116 647h3M155 685h3M151 669h3M132 661h3M124 675h3M123 659h3M161 667h3M123 682h3M127 659h3M144 681h3M133 683h3M149 677h3M160 668h3M147 661h3M142 658h3M136 683h3M121 682h3M141 656h3M142 701h3M145 669h3M132 671h3M142 693h3M155 678h3M137 673h3M127 642h3M131 668h3M132 666h3M142 688h3M139 668h3M129 648h3M158 648h3M145 639h3M150 669h3M142 654h3M142 682h3M145 684h3M127 673h3M142 662h3M156 673h3M139 689h3M141 670h3M147 682h3M171 671h3M149 683h3M139 683h3M123 667h3M141 666h3M136 684h3M147 655h3M141 679h3M142 679h3M137 676h3M153 660h3M138 666h3M136 651h3M157 665h3M145 679h3M136 654h3M119 694h3M152 636h3M139 657h3M136 661h3M146 674h3M159 648h3M154 681h3M131 655h3M140 664h3M124 659h3M145 679h3M128 689h3M136 686h3M119 663h3M134 664h3M138 671h3M149 647h3M126 665h3M123 680h3M150 661h3M141 688h3M151 678h3M147 660h3M137 669h3M172 658h3M115 660h3M147 676h3M121 656h3M147 690h3M139 660h3M142 675h3M123 657h3M129 673h3M128 681h3M134 697h3M145 674h3M151 683h3M136 697h3M143 677h3M135 646h3M107 678h3M127 682h3M147 684h3M141 672h3M148 669h3M130 670h3M144 664h3M147 660h3M153 662h3M153 678h3M127 669h3M127 679h3M130 646h3M125 656h3M125 657h3M128 669h3M131 682h3M151 665h3M122 673h3M147 678h3M144 657h3M137 670h3M129 673h3M138 690h3M144 682h3M138 672h3M137 662h3M131 672h3M134 676h3M140 693h3M129 686h3M130 648h3M160 684h3M140 680h3M126 674h3M151 662h3M142 651h3M148 658h3M123 649h3M163 668h3M140 667h3M113 673h3M154 688h3M140 690h3M135 691h3M142 678h3M135 646h3M143 671h3M137 652h3M144 628h3M133 623h3M178 633h3M174 591h3M161 636h3M137 624h3M174 612h3M162 609h3M134 621h3M166 621h3M171 607h3M186 609h3M187 600h3M159 626h3M148 611h3M157 610h3M166 639h3M140 617h3M163 619h3M162 630h3M139 629h3M165 614h3M161 614h3M164 610h3M134 637h3M151 608h3M149 613h3M192 624h3M119 624h3M137 628h3M175 622h3M147 646h3M150 631h3M164 616h3M158 638h3M156 633h3M135 620h3M132 614h3M131 619h3M152 619h3M144 598h3M167 596h3M177 621h3M153 618h3M134 635h3M147 629h3M170 620h3M154 606h3M158 618h3M156 612h3M139 624h3M160 628h3M176 597h3M169 597h3M171 633h3M147 626h3M138 619h3M192 621h3M175 622h3M165 621h3M123 611h3M193 602h3M166 625h3M152 626h3M145 617h3M153 617h3M159 614h3M149 595h3M148 649h3M187 613h3M168 610h3M198 623h3M200 620h3M173 616h3M137 617h3M162 610h3M153 597h3M137 638h3M179 598h3M157 616h3M150 613h3M155 596h3M150 622h3M125 626h3M167 613h3M142 620h3M181 609h3M158 597h3M158 634h3M177 633h3M154 615h3M169 622h3M144 621h3M161 630h3M121 626h3M151 622h3M137 635h3M171 613h3M183 617h3M124 620h3M192 603h3M170 597h3M129 613h3M165 627h3M176 612h3M169 601h3M162 623h3M160 612h3M171 621h3M151 644h3M157 627h3M116 632h3M144 621h3M156 632h3M135 613h3M190 617h3M150 612h3M168 611h3M166 612h3M167 606h3M185 619h3M176 594h3M150 618h3M182 613h3M143 630h3M145 616h3M175 623h3M177 616h3M106 633h3M176 602h3M173 607h3M165 619h3M166 617h3M185 594h3M164 615h3M141 625h3M126 634h3M154 634h3M149 625h3M155 622h3M162 621h3M140 626h3M161 627h3M144 613h3M161 603h3M175 628h3M137 624h3M178 611h3M162 608h3M151 599h3M164 619h3M158 619h3M173 606h3M154 620h3M146 625h3M185 607h3M156 595h3M121 637h3M161 625h3M164 618h3M178 597h3M164 618h3M141 635h3M155 625h3M154 645h3M152 634h3M167 651h3M163 633h3M152 646h3M149 640h3M171 651h3M148 647h3M138 641h3M170 641h3M144 638h3M151 639h3M150 639h3M156 638h3M157 644h3M150 631h3M150 646h3M166 649h3M182 646h3M134 656h3M138 636h3M149 640h3M151 637h3M157 643h3M167 616h3M171 650h3M135 643h3M145 642h3M122 633h3M171 641h3M152 634h3M130 640h3M144 641h3M147 645h3M143 640h3M166 648h3M120 639h3M165 636h3M130 639h3M157 649h3M141 637h3M151 635h3M162 642h3M151 635h3M140 638h3M145 637h3M150 637h3M126 658h3M160 570h3M185 585h3M172 599h3M169 576h3M157 581h3M181 579h3M189 575h3M162 570h3M167 556h3M174 584h3M165 548h3M176 598h3M160 560h3M182 578h3M163 571h3M182 574h3M164 535h3M174 576h3M185 581h3M171 565h3M63 685h3M116 677h3M96 676h3M89 701h3M99 687h3M110 668h3M120 678h3M115 680h3M92 696h3M101 668h3M93 683h3M58 681h3M92 683h3M96 673h3M89 676h3M107 684h3M123 672h3M114 680h3M60 657h3M76 668h3M127 691h3M101 671h3M76 673h3M105 674h3M97 675h3M101 669h3M79 698h3M93 679h3M101 666h3M94 696h3M144 688h3M85 673h3M68 690h3M68 685h3M62 692h3M67 686h3M93 674h3M82 690h3M106 675h3M111 674h3M79 676h3M110 683h3M84 682h3M71 699h3M88 700h3M95 684h3M115 679h3M90 672h3M93 670h3M99 681h3M85 681h3M88 691h3M78 683h3M87 681h3M69 691h3M103 664h3M85 685h3M83 701h3M118 688h3M90 690h3M98 662h3M104 688h3M139 691h3M93 669h3M112 673h3M95 698h3M114 684h3M99 687h3M71 681h3M129 681h3M87 688h3M79 684h3M100 687h3M130 675h3M131 674h3M81 688h3M100 694h3M86 666h3M108 667h3M120 650h3M89 670h3M127 675h3M118 689h3M102 677h3M88 682h3M118 684h3M78 680h3M90 682h3M113 681h3M87 683h3M58 694h3M143 682h3M78 692h3M94 682h3M137 684h3M117 692h3M115 660h3M70 679h3M131 656h3M76 684h3M62 696h3M97 677h3M78 686h3M56 696h3M80 691h3M80 679h3M115 684h3M105 684h3M91 697h3M83 668h3M99 666h3M87 664h3M123 684h3M104 696h3M100 680h3M87 665h3M89 682h3M88 686h3M107 670h3M121 677h3M126 678h3M82 689h3M94 686h3M101 688h3M98 688h3M91 682h3M125 688h3M116 688h3M112 674h3M101 676h3M98 668h3M76 691h3M92 679h3M96 679h3M96 671h3M113 690h3M107 692h3M94 678h3M129 650h3M109 662h3M98 650h3M95 676h3M63 693h3M115 691h3M109 673h3M102 672h3M101 681h3M95 687h3M66 685h3M80 698h3M86 697h3M72 689h3M75 689h3M70 691h3M81 688h3M81 687h3M74 693h3M79 686h3M67 690h3M74 700h3M74 690h3M79 700h3M62 698h3M114 688h3M117 682h3M118 682h3M114 693h3M108 675h3M105 677h3M122 672h3M113 672h3M119 695h3M129 670h3M114 672h3M130 677h3M113 663h3M110 686h3M103 687h3M121 681h3M125 668h3M125 686h3M114 675h3M118 679h3M110 671h3M117 696h3M120 678h3M127 659h3M124 679h3M109 686h3M122 677h3M123 684h3M117 698h3M107 678h3M120 678h3M125 699h3M104 693h3M109 657h3M123 684h3M119 681h3M119 678h3M120 663h3M115 668h3M125 662h3M116 658h3M119 678h3M93 632h3M165 522h3M195 527h3" stroke="#000" stroke-width="3.2" stroke-opacity="0.6" fill="none"/>
<clipPath id="cp1"><rect x="150.60000000000002" y="259.40000000000003" width="100.7" height="90.6"/></clipPath>
<g clip-path="url(#cp1)">
<ellipse cx="209" cy="266" rx="8" ry="5.5" transform="rotate(-30 209 266)" fill="#000" opacity="0.85" filter="url(#bb)"/>
</g>
<path transform="scale(0.5)" d="M417 546h3M421 531h3M400 534h3M400 557h3M423 523h3M411 545h3M440 542h3M403 539h3M418 536h3M422 520h3M410 531h3M406 536h3M397 542h3M404 532h3M417 543h3M433 525h3M430 541h3M439 543h3M428 529h3M408 538h3M418 525h3M397 540h3M418 534h3M422 551h3M402 551h3M407 530h3M413 536h3M432 520h3M417 539h3M416 548h3M427 524h3M411 543h3M427 536h3M416 551h3M434 526h3M399 552h3M420 521h3M430 538h3M439 527h3M418 531h3M401 543h3M417 524h3M418 557h3M394 558h3M428 539h3M421 541h3M429 522h3M400 533h3M414 522h3M398 527h3M408 523h3M412 535h3M410 535h3M413 545h3M418 542h3M419 531h3M414 552h3M427 538h3M425 532h3M417 554h3M398 539h3M424 547h3M412 537h3M399 558h3M388 552h3M411 531h3M420 534h3M431 520h3M416 537h3M415 535h3M404 542h3M416 530h3M432 526h3M379 554h3M422 528h3M434 521h3M444 534h3M422 519h3M439 538h3M413 535h3M411 525h3M409 523h3M418 522h3M428 530h3M412 553h3M403 543h3M413 543h3M410 541h3M439 533h3M411 536h3M401 551h3M416 532h3M416 520h3M404 530h3M409 522h3M411 545h3M419 535h3M404 548h3M425 526h3M422 520h3M413 538h3M420 541h3M431 538h3M413 543h3M447 523h3M391 547h3M405 554h3M413 519h3M438 522h3M431 526h3M434 534h3M413 536h3M402 535h3M390 558h3M413 528h3M412 531h3M434 527h3M414 526h3M436 524h3M431 532h3M412 519h3M416 541h3M419 536h3M416 549h3M421 539h3M409 528h3M409 547h3M409 533h3M424 544h3M403 550h3M403 545h3M419 541h3M425 535h3M427 522h3M427 536h3M406 538h3M421 529h3M416 553h3M427 546h3M414 540h3M437 524h3M426 522h3M418 543h3M412 535h3M420 535h3M413 526h3M423 545h3M407 538h3M423 540h3M428 525h3M391 538h3M411 549h3M380 522h3M405 547h3M400 562h3M421 547h3M416 554h3M414 561h3M413 538h3M418 558h3M406 537h3M419 553h3M410 536h3M430 519h3M391 566h3M430 538h3M418 540h3M406 530h3M407 524h3M407 519h3M398 557h3M416 537h3M403 538h3M426 527h3M399 556h3M415 549h3M417 531h3M421 537h3M423 527h3M415 562h3M439 540h3M409 551h3M418 545h3M413 523h3M426 542h3M402 558h3M418 530h3M402 558h3M420 534h3M422 536h3M408 529h3M402 532h3M417 554h3M449 538h3M404 535h3M428 525h3M448 531h3M424 524h3M425 531h3M412 527h3M419 520h3M398 522h3M411 542h3M422 532h3M420 525h3M408 539h3M413 540h3M413 558h3M416 532h3M417 529h3M408 531h3M422 535h3M398 540h3M397 530h3M397 545h3M391 530h3M412 536h3M412 539h3M421 544h3M409 533h3M429 527h3M410 529h3M408 552h3M398 527h3M429 524h3M429 543h3M393 529h3M396 537h3M417 523h3M433 525h3M422 523h3M414 544h3M420 525h3M431 520h3M399 545h3M403 550h3M425 527h3M442 549h3M415 534h3M409 557h3M416 554h3M416 553h3M423 530h3M401 545h3M431 528h3M400 526h3M406 534h3M403 551h3M417 523h3M413 562h3M412 530h3M419 537h3M429 521h3M421 562h3M391 525h3M405 541h3M397 547h3M392 526h3M420 542h3M418 536h3M415 522h3M439 532h3M422 525h3M424 539h3M426 546h3M405 544h3M434 538h3M421 550h3M417 527h3M407 541h3M413 539h3M420 527h3M407 527h3M420 527h3M390 539h3M424 537h3M419 529h3M430 538h3M429 519h3M407 542h3M414 528h3M383 564h3M410 531h3M401 541h3M408 536h3M411 525h3M412 525h3M416 533h3M428 523h3M431 527h3M427 527h3M394 536h3M418 543h3M379 563h3M398 524h3M424 527h3M423 548h3M423 545h3M395 558h3M406 531h3M441 541h3M420 525h3M406 536h3M427 547h3M419 544h3M434 540h3M411 558h3M411 521h3M413 534h3M428 521h3M391 561h3M429 547h3M427 520h3M424 536h3M423 526h3M413 541h3M441 540h3M428 531h3M430 525h3M427 520h3M436 530h3M403 561h3M409 533h3M410 538h3M433 524h3M424 538h3M399 531h3M412 536h3M408 539h3M418 520h3M394 537h3M406 520h3M424 541h3M429 526h3M403 543h3M419 526h3M397 559h3M413 531h3M401 531h3M431 529h3M413 554h3M405 544h3M412 543h3M404 566h3M422 537h3M401 527h3M405 539h3M410 546h3M440 526h3M416 547h3M412 551h3M423 536h3M439 523h3M420 526h3M397 541h3M392 550h3M407 543h3M411 539h3M418 533h3M421 540h3M402 545h3M433 526h3M414 530h3M440 539h3M420 546h3M422 533h3M417 528h3M427 523h3M421 538h3M418 565h3M413 525h3M439 529h3M430 525h3M398 540h3M407 539h3M381 522h3M418 533h3M413 555h3M421 536h3M390 537h3M444 539h3M379 542h3M376 546h3M413 550h3M409 543h3M422 535h3M425 534h3M426 528h3M431 529h3M406 548h3M423 535h3M401 522h3M408 550h3M418 530h3M407 532h3M411 523h3M410 570h3M414 522h3M408 539h3M427 520h3M402 543h3M407 546h3M429 549h3M415 534h3M406 552h3M418 519h3M414 543h3M421 532h3M418 538h3M408 531h3M425 536h3M420 551h3M422 560h3M405 528h3M407 550h3M413 532h3M432 528h3M416 540h3M407 534h3M417 539h3M410 530h3M384 553h3M437 537h3M403 543h3M421 532h3M415 519h3M417 546h3M438 548h3M403 531h3M431 528h3M424 525h3M409 538h3M413 543h3M437 530h3M419 528h3M414 521h3M401 555h3M415 531h3M386 559h3M408 529h3M422 563h3M395 537h3M419 543h3M420 545h3M442 540h3M423 529h3M450 532h3M408 553h3M418 524h3M403 551h3M448 522h3M409 541h3M434 547h3M397 540h3M417 548h3M400 532h3M411 526h3M435 536h3M424 541h3M409 538h3M434 529h3M429 528h3M407 538h3M421 527h3M406 536h3M427 520h3M420 525h3M399 542h3M411 534h3M415 550h3M404 522h3M435 542h3M416 527h3M403 554h3M415 546h3M413 547h3M398 552h3M419 549h3M407 534h3M422 525h3M415 536h3M422 540h3M418 530h3M414 539h3M403 534h3M394 545h3M414 538h3M438 531h3M425 548h3M410 529h3M423 547h3M417 548h3M396 527h3M435 533h3M410 531h3M422 551h3M415 534h3M428 527h3M416 543h3M413 544h3M400 548h3M390 539h3M420 539h3M414 521h3M400 525h3M402 548h3M415 549h3M420 534h3M417 526h3M424 545h3M427 525h3M435 546h3M396 546h3M393 550h3M407 534h3M415 528h3M404 544h3M378 539h3M398 548h3M434 545h3M418 533h3M418 526h3M425 528h3M412 530h3M429 541h3M412 545h3M415 532h3M408 531h3M435 541h3M413 528h3M403 555h3M416 536h3M401 525h3M393 540h3M430 550h3M404 560h3M385 543h3M411 545h3M415 530h3M424 551h3M411 541h3M406 534h3M420 533h3M437 527h3M397 555h3M406 532h3M407 528h3M413 542h3M428 521h3M406 540h3M420 531h3M408 527h3M410 532h3M409 545h3M406 545h3M407 536h3M423 536h3M397 548h3M432 537h3M429 537h3M418 527h3M427 526h3M394 547h3M397 543h3M437 523h3M395 554h3M407 557h3M403 531h3M407 534h3M406 542h3M424 521h3M410 532h3M411 542h3M416 536h3M425 519h3M444 520h3M406 527h3M414 545h3M442 524h3M425 534h3M412 543h3M418 535h3M418 525h3M430 527h3M419 528h3M407 556h3M413 560h3M413 537h3M411 541h3M422 538h3M432 548h3M418 520h3M408 543h3M412 533h3M443 523h3M413 523h3M402 530h3M404 519h3M397 538h3M389 544h3M405 536h3M398 566h3M398 521h3M412 532h3M414 524h3M387 555h3M424 519h3M394 558h3M407 558h3M411 533h3M413 540h3M440 524h3M423 529h3M423 536h3M426 536h3M418 534h3M406 527h3M435 537h3M410 523h3M402 539h3M413 534h3M446 536h3M406 559h3M423 536h3M420 544h3M427 542h3M409 555h3M383 539h3M383 543h3M406 557h3M373 579h3M368 556h3M385 602h3M385 550h3M391 552h3M367 564h3M382 567h3M367 577h3M386 558h3M361 544h3M376 559h3M399 546h3M391 561h3M404 586h3M385 587h3M380 580h3M358 606h3M363 571h3M378 581h3M372 563h3M373 567h3M393 577h3M400 545h3M375 587h3M356 586h3M389 576h3M412 548h3M385 532h3M401 545h3M397 548h3M359 576h3M386 566h3M383 569h3M352 569h3M370 584h3M383 556h3M360 566h3M390 564h3M375 579h3M387 533h3M389 577h3M372 545h3M372 576h3M395 582h3M393 563h3M395 543h3M392 568h3M401 567h3M386 559h3M379 562h3M395 561h3M398 569h3M378 576h3M405 563h3M360 566h3M369 601h3M393 554h3M359 573h3M362 565h3M397 572h3M382 584h3M372 529h3M380 556h3M388 580h3M383 553h3M369 588h3M389 562h3M368 559h3M392 544h3M415 552h3M381 555h3M406 564h3M370 562h3M378 605h3M394 558h3M378 531h3M370 555h3M375 572h3M378 563h3M381 537h3M392 535h3M405 549h3M376 577h3M377 580h3M373 580h3M374 556h3M379 576h3M393 580h3M369 592h3M370 529h3M395 560h3M400 576h3M360 570h3M380 562h3M371 573h3M376 554h3M391 548h3M389 538h3M396 534h3M394 566h3M390 584h3M381 562h3M391 582h3M389 560h3M394 549h3M394 586h3M390 580h3M409 583h3M385 558h3M397 520h3M385 576h3M373 574h3M384 556h3M399 559h3M403 546h3M375 544h3M363 584h3M386 531h3M377 572h3M380 573h3M376 584h3M372 556h3M383 576h3M393 558h3M389 575h3M383 575h3M381 547h3M403 535h3M362 581h3M368 593h3M373 575h3M386 578h3M400 524h3M397 554h3M382 556h3M368 574h3M387 572h3M372 566h3M397 560h3M388 583h3M380 566h3M368 569h3M384 554h3M388 562h3M386 581h3M366 573h3M386 565h3M388 581h3M378 597h3M365 568h3M374 552h3M380 600h3M366 555h3M398 529h3M366 540h3M369 570h3M390 537h3M393 556h3M398 553h3M396 578h3M377 580h3M399 563h3M400 585h3M379 577h3M374 578h3M358 559h3M392 533h3M387 544h3M388 548h3M387 553h3M388 550h3M397 550h3M397 579h3M411 534h3M358 567h3M381 563h3M380 599h3M363 567h3M378 569h3M373 566h3M405 553h3M405 563h3M404 544h3M373 545h3M363 598h3M365 587h3M391 574h3M389 577h3M392 584h3M384 570h3M384 537h3M382 547h3M384 588h3M397 548h3M401 568h3M382 567h3M372 552h3M380 570h3M378 593h3M399 586h3M384 540h3M372 561h3M395 573h3M369 570h3M383 570h3M375 592h3M379 572h3M349 570h3M367 578h3M384 571h3M379 537h3M398 561h3M388 563h3M383 561h3M386 573h3M380 599h3M380 575h3M401 523h3M379 569h3M399 570h3M386 561h3M415 552h3M393 553h3M387 572h3M393 552h3M381 552h3M388 580h3M380 555h3M401 581h3M381 563h3M392 580h3M360 591h3M392 585h3M400 545h3M387 534h3M406 559h3M374 588h3M373 536h3M386 582h3M379 559h3M403 530h3M376 550h3M392 566h3M390 562h3M381 580h3M433 590h3M407 569h3M408 555h3M412 590h3M396 568h3M424 560h3M406 597h3M411 582h3M423 568h3M425 579h3M421 571h3M392 552h3M404 564h3M413 584h3M417 570h3M394 564h3M415 581h3M407 589h3M389 576h3M391 546h3M424 590h3M399 573h3M421 591h3M408 567h3M409 580h3M401 573h3M409 580h3M417 574h3M427 574h3M384 587h3M411 567h3M431 569h3M412 579h3M405 574h3M409 572h3M412 578h3M406 557h3M415 581h3M431 573h3M418 573h3M421 575h3M425 570h3M400 580h3M410 565h3M417 586h3M408 577h3M405 571h3M430 568h3M426 563h3M420 579h3M418 569h3M408 576h3M396 573h3M404 572h3M414 574h3M426 573h3M410 574h3M406 572h3M412 573h3M413 577h3M409 565h3M412 572h3M398 586h3M403 571h3M414 580h3M388 585h3M412 559h3M409 587h3M387 562h3M415 583h3M402 573h3M405 561h3M433 573h3M402 573h3M413 575h3M355 582h3M363 580h3M354 597h3M342 582h3M364 565h3M361 573h3M356 568h3M351 600h3M372 582h3M358 582h3M360 595h3M349 580h3M359 573h3M353 575h3M364 564h3M362 584h3M352 592h3M357 565h3M360 580h3M352 577h3M362 562h3M362 604h3M370 585h3M358 568h3M350 589h3M356 592h3M365 575h3M363 589h3M341 588h3M369 559h3M356 576h3M357 584h3M358 571h3M352 597h3M363 591h3M349 571h3M367 592h3M371 603h3M357 577h3M352 577h3M345 586h3M364 584h3M357 597h3M351 579h3M354 568h3M360 553h3M344 584h3M364 586h3M365 587h3M354 595h3M356 580h3M360 575h3M366 602h3M366 591h3M347 604h3M425 607h3M419 593h3M424 606h3M436 593h3M419 590h3M418 641h3M419 643h3M419 596h3M431 590h3M424 590h3M431 603h3M427 620h3M422 611h3M430 586h3M432 612h3M421 607h3M431 618h3M419 621h3M434 649h3M422 609h3M421 602h3M433 625h3M414 593h3M427 590h3M420 598h3M421 623h3M437 591h3M433 572h3M435 639h3M421 599h3M428 615h3M435 590h3M428 607h3M422 596h3M424 599h3M434 623h3M421 610h3M436 611h3M428 615h3M411 590h3M426 608h3M429 601h3M428 599h3M439 618h3M420 624h3M427 622h3M418 568h3M437 630h3M424 570h3M436 577h3M430 610h3M422 586h3M417 608h3M425 574h3M429 596h3M426 595h3M409 573h3M414 607h3M413 607h3M434 623h3M426 632h3M422 620h3M433 604h3M421 613h3M436 607h3M428 597h3M434 576h3M428 611h3M429 657h3M431 613h3M425 632h3M424 598h3M431 602h3M429 635h3M423 610h3M432 615h3M436 613h3M413 605h3M441 582h3M428 600h3M346 598h3M400 599h3M417 609h3M364 648h3M408 609h3M412 629h3M411 591h3M413 604h3M423 576h3M417 604h3M398 581h3M377 605h3M414 581h3M381 613h3M391 596h3M399 583h3M399 632h3M402 592h3M392 608h3M373 610h3M396 588h3M394 622h3M414 598h3M403 587h3M386 599h3M402 595h3M381 630h3M376 609h3M400 596h3M367 592h3M416 604h3M383 600h3M384 608h3M391 604h3M399 615h3M421 605h3M391 569h3M386 585h3M417 609h3M384 590h3M383 616h3M393 599h3M390 596h3M400 592h3M416 595h3M401 601h3M377 603h3M399 589h3M385 592h3M363 567h3M386 584h3M397 595h3M381 617h3M414 588h3M374 626h3M386 595h3M407 616h3M391 580h3M371 583h3M395 577h3M400 629h3M407 619h3M413 602h3M376 615h3M418 614h3M388 604h3M406 613h3M377 603h3M425 615h3M379 587h3M394 622h3M391 604h3M419 589h3M402 613h3M412 600h3M418 563h3M395 586h3M389 589h3M383 588h3M380 573h3M395 592h3M415 624h3M354 624h3M392 592h3M386 586h3M392 614h3M365 588h3M388 607h3M335 592h3M333 596h3M322 585h3M407 572h3M350 564h3M308 626h3M348 573h3M338 606h3M376 610h3M340 581h3M325 633h3M361 546h3M374 549h3M340 603h3M305 605h3M365 625h3M341 604h3M351 559h3M320 636h3M325 601h3M336 574h3M315 608h3M335 613h3M355 599h3M320 602h3M339 597h3M340 586h3M314 586h3M331 598h3M304 630h3M378 542h3M328 586h3M361 566h3M316 597h3M344 544h3M347 648h3M373 555h3M321 607h3M313 631h3M341 586h3M347 550h3M349 594h3M324 627h3M344 576h3M364 599h3M360 609h3M330 621h3M364 582h3M355 601h3M413 646h3M409 631h3M403 659h3M421 658h3M418 647h3M421 665h3M393 677h3M420 684h3M398 648h3M395 646h3M385 683h3M386 663h3M435 644h3M429 688h3M445 635h3M401 641h3M410 672h3M431 647h3M386 671h3M368 643h3M377 673h3M424 651h3M408 690h3M430 666h3M410 635h3M380 662h3M417 632h3M383 660h3M380 678h3M421 642h3M414 651h3M393 654h3M413 679h3M439 665h3M370 621h3M414 617h3M424 654h3M396 671h3M397 657h3M385 641h3M413 657h3M425 660h3M403 683h3M405 681h3M397 628h3M383 690h3M406 657h3M355 644h3M444 696h3M412 671h3M391 680h3M432 632h3M428 644h3M420 664h3M425 678h3M409 691h3M390 637h3M450 657h3M397 659h3M416 662h3M418 635h3M402 682h3M411 662h3M385 670h3M424 634h3M400 664h3M384 630h3M380 660h3M428 675h3M385 674h3M395 682h3M429 648h3M423 680h3M410 691h3M417 637h3M403 669h3M421 662h3M399 669h3M409 664h3M409 675h3M417 650h3M408 662h3M406 642h3M344 643h3M415 663h3M404 662h3M408 695h3M427 671h3M429 680h3M447 674h3M428 649h3M432 669h3M341 634h3M419 653h3M421 648h3M412 649h3M411 637h3M367 650h3M402 676h3M407 650h3M408 643h3M422 658h3M394 652h3M406 625h3M303 673h3M337 677h3M337 644h3M317 624h3M336 667h3M329 650h3M310 659h3M307 657h3M353 666h3M311 658h3M311 685h3M326 691h3M343 658h3M312 638h3M344 661h3M317 683h3M332 699h3M311 656h3M361 671h3M344 666h3M326 650h3M343 680h3M327 668h3M335 691h3M321 648h3M314 655h3M339 654h3M317 639h3M349 677h3M336 680h3M317 685h3M319 673h3M313 677h3M348 696h3M326 669h3M330 681h3M337 660h3M344 685h3M332 694h3M331 669h3M320 695h3M341 679h3M357 546h3M435 534h3M414 567h3M485 544h3M362 546h3" stroke="#000" stroke-width="3.2" stroke-opacity="0.6" fill="none"/>
<path transform="scale(0.5)" d="M412 526h3M426 523h3M441 549h3M418 521h3M413 520h3M402 540h3M412 541h3M409 528h3M420 532h3M420 535h3M416 528h3M417 526h3M412 541h3M428 539h3M431 531h3M415 525h3M418 527h3M418 548h3M409 536h3M431 530h3M437 529h3M445 532h3M400 547h3M423 524h3M434 520h3M415 543h3M409 548h3M444 519h3M400 549h3M409 534h3M419 543h3M408 534h3M399 537h3M401 522h3M408 529h3M383 571h3M426 523h3M415 570h3M422 522h3M407 544h3M392 575h3M409 544h3M415 540h3M413 551h3M423 533h3M433 543h3M395 547h3M435 525h3M435 520h3M397 551h3M417 558h3M431 547h3M422 526h3M397 548h3M432 525h3M413 553h3M425 535h3M425 520h3M428 534h3M410 548h3M428 522h3M418 539h3M415 519h3M406 564h3M432 540h3M415 545h3M419 525h3M414 537h3M403 523h3M404 528h3M426 520h3M422 561h3M407 537h3M416 533h3M422 525h3M421 520h3M425 535h3M400 531h3M401 538h3M443 543h3M429 532h3M408 545h3M415 532h3M414 525h3M413 544h3M404 524h3M395 530h3M435 554h3M405 522h3M403 529h3M438 533h3M432 531h3M398 519h3M422 526h3M413 542h3M428 543h3M426 541h3M440 527h3M413 531h3M421 536h3M415 540h3M440 548h3M392 542h3M382 544h3M420 533h3M411 529h3M419 531h3M411 552h3M419 528h3M419 540h3M419 537h3M401 534h3M399 541h3M396 522h3M425 529h3M418 544h3M416 530h3M423 535h3M397 546h3M411 534h3M396 544h3M415 548h3M401 545h3M410 560h3M412 529h3M413 539h3M400 559h3M397 558h3M433 540h3M409 559h3M384 550h3M431 543h3M404 549h3M406 555h3M413 525h3M411 556h3M421 523h3M423 547h3M421 533h3M403 535h3M413 546h3M427 531h3M424 548h3M426 521h3M413 547h3M420 542h3M389 536h3M413 541h3M406 537h3M420 523h3M406 542h3M425 532h3M400 532h3M423 552h3M421 540h3M386 548h3M422 523h3M424 541h3M411 534h3M420 534h3M444 530h3M403 523h3M411 521h3M416 527h3M390 535h3M432 523h3M424 543h3M413 548h3M420 547h3M408 538h3M432 529h3M407 544h3M424 533h3M431 536h3M403 537h3M424 537h3M415 547h3M399 530h3M396 552h3M428 555h3M401 525h3M422 549h3M413 531h3M419 551h3M422 539h3M411 545h3M417 550h3M420 533h3M430 534h3M414 535h3M415 527h3M418 547h3M414 531h3M436 524h3M412 530h3M421 519h3M426 538h3M423 529h3M417 538h3M412 535h3M429 524h3M402 532h3M407 527h3M417 544h3M436 532h3M405 547h3M416 531h3M399 531h3M418 522h3M399 551h3M406 525h3M410 532h3M396 551h3M425 523h3M407 544h3M411 536h3M405 556h3M438 531h3M407 551h3M406 551h3M416 531h3M407 552h3M408 530h3M414 530h3M417 531h3M405 523h3M442 522h3M429 539h3M412 551h3M394 542h3M428 520h3M400 548h3M408 524h3M412 538h3M419 539h3M432 527h3M411 544h3M420 529h3M400 559h3M436 525h3M437 543h3M422 542h3M421 548h3M415 545h3M423 536h3M429 544h3M428 526h3M419 524h3M420 519h3M425 526h3M433 536h3M406 535h3M404 531h3M409 547h3M417 533h3M387 551h3M422 532h3M435 535h3M417 537h3M412 559h3M398 554h3M422 538h3M414 541h3M437 529h3M422 542h3M400 540h3M415 533h3M416 548h3M397 551h3M376 569h3M429 555h3M436 528h3M400 553h3M416 527h3M415 554h3M421 519h3M426 533h3M448 530h3M423 529h3M399 538h3M422 530h3M403 523h3M412 524h3M410 554h3M403 534h3M424 526h3M420 520h3M420 555h3M419 544h3M398 541h3M414 534h3M386 528h3M413 534h3M422 552h3M408 530h3M402 541h3M412 553h3M410 551h3M434 535h3M405 553h3M445 537h3M415 557h3M405 535h3M421 527h3M411 535h3M409 551h3M417 527h3M422 535h3M420 534h3M407 538h3M399 554h3M405 540h3M408 563h3M402 535h3M431 534h3M414 538h3M429 519h3M408 540h3M413 548h3M413 540h3M421 546h3M433 523h3M398 545h3M420 527h3M421 545h3M421 547h3M408 533h3M405 557h3M403 529h3M407 550h3M403 535h3M422 521h3M404 560h3M426 530h3M415 549h3M423 530h3M404 527h3M423 534h3M404 545h3M405 536h3M421 523h3M420 523h3M434 533h3M438 522h3M430 522h3M417 541h3M401 562h3M407 540h3M406 540h3M436 536h3M410 548h3M419 549h3M416 549h3M399 560h3M402 551h3M409 555h3M413 535h3M425 534h3M432 538h3M433 521h3M419 532h3M418 528h3M438 525h3M415 562h3M417 541h3M429 526h3M399 544h3M421 539h3M414 537h3M436 533h3M392 575h3M419 542h3M412 520h3M422 528h3M432 527h3M421 528h3M417 545h3M422 548h3M412 543h3M408 541h3M427 519h3M407 558h3M404 519h3M448 524h3M415 527h3M417 525h3M421 544h3M423 553h3M403 558h3M424 542h3M408 548h3M385 547h3M410 538h3M428 522h3M420 525h3M414 539h3M409 534h3M428 523h3M426 531h3M419 525h3M433 527h3M411 565h3M422 543h3M408 538h3M411 541h3M425 545h3M427 525h3M415 546h3M424 522h3M411 528h3M429 541h3M432 525h3M422 532h3M404 556h3M406 524h3M412 541h3M419 545h3M422 531h3M427 548h3M427 524h3M419 522h3M423 530h3M414 521h3M412 524h3M426 529h3M416 541h3M425 549h3M416 542h3M449 522h3M398 548h3M409 562h3M417 533h3M399 562h3M403 532h3M437 528h3M447 534h3M424 530h3M438 530h3M415 543h3M400 546h3M435 525h3M412 536h3M420 529h3M421 547h3M416 539h3M418 527h3M427 540h3M428 538h3M414 549h3M396 548h3M434 537h3M418 530h3M399 527h3M393 557h3M446 527h3M418 534h3M390 549h3M406 536h3M422 538h3M443 539h3M411 540h3M416 537h3M421 553h3M417 534h3M400 526h3M423 544h3M407 519h3M439 536h3M400 542h3M421 548h3M407 548h3M407 553h3M418 523h3M411 529h3M442 525h3M420 548h3M409 540h3M385 529h3M428 532h3M411 532h3M429 531h3M419 547h3M382 534h3M422 522h3M405 533h3M416 539h3M421 530h3M414 526h3M401 521h3M412 540h3M415 533h3M416 550h3M414 551h3M423 533h3M411 544h3M411 538h3M415 537h3M422 526h3M417 544h3M429 530h3M430 525h3M424 528h3M415 531h3M406 537h3M427 546h3M403 526h3M439 535h3M415 541h3M419 533h3M396 550h3M413 531h3M414 547h3M411 536h3M419 526h3M419 542h3M401 534h3M418 529h3M427 535h3M441 530h3M423 542h3M395 552h3M396 536h3M416 528h3M399 542h3M395 534h3M409 540h3M414 529h3M437 528h3M412 537h3M392 541h3M410 534h3M409 546h3M408 548h3M422 524h3M434 537h3M418 544h3M415 529h3M418 537h3M396 533h3M414 527h3M431 537h3M425 532h3M401 536h3M411 550h3M422 538h3M414 540h3M420 539h3M419 536h3M417 529h3M414 548h3M413 525h3M416 537h3M408 543h3M418 535h3M432 533h3M415 556h3M407 544h3M430 532h3M417 544h3M415 554h3M401 562h3M429 524h3M428 530h3M424 527h3M396 554h3M413 547h3M432 538h3M431 521h3M414 525h3M459 528h3M402 554h3M422 531h3M401 550h3M422 525h3M422 528h3M390 534h3M399 557h3M404 522h3M411 553h3M431 539h3M406 543h3M393 540h3M428 539h3M431 555h3M408 529h3M437 531h3M412 539h3M420 557h3M415 557h3M418 532h3M376 558h3M417 537h3M436 552h3M403 530h3M404 544h3M424 534h3M428 533h3M414 532h3M422 532h3M402 549h3M434 522h3M408 526h3M420 533h3M408 541h3M420 539h3M404 530h3M385 534h3M436 526h3M429 536h3M403 540h3M403 553h3M386 530h3M422 523h3M413 524h3M398 554h3M419 553h3M407 540h3M427 520h3M400 531h3M403 531h3M420 543h3M409 527h3M424 528h3M426 530h3M393 532h3M417 540h3M425 541h3M389 543h3M414 533h3M426 544h3M402 543h3M416 525h3M411 519h3M447 525h3M427 534h3M427 539h3M404 550h3M432 535h3M407 529h3M414 543h3M399 541h3M383 527h3M379 564h3M355 556h3M380 596h3M388 549h3M391 571h3M348 572h3M400 541h3M369 574h3M380 574h3M358 554h3M388 575h3M389 586h3M396 553h3M393 584h3M379 540h3M402 582h3M383 572h3M381 567h3M370 563h3M384 571h3M387 548h3M395 567h3M353 561h3M390 556h3M379 541h3M387 573h3M387 568h3M406 553h3M388 541h3M387 565h3M377 555h3M379 558h3M386 553h3M399 591h3M370 537h3M396 556h3M376 556h3M368 574h3M383 543h3M387 613h3M391 575h3M394 530h3M361 585h3M363 598h3M380 548h3M383 577h3M405 548h3M424 554h3M382 550h3M362 599h3M399 539h3M368 579h3M383 568h3M397 558h3M367 565h3M387 556h3M375 577h3M395 567h3M370 557h3M385 573h3M369 569h3M397 564h3M369 556h3M365 571h3M420 530h3M381 589h3M368 538h3M367 571h3M406 546h3M395 553h3M388 571h3M375 536h3M360 563h3M376 563h3M384 561h3M393 555h3M376 582h3M373 577h3M391 573h3M411 539h3M401 540h3M370 581h3M389 547h3M371 610h3M377 584h3M362 550h3M373 546h3M387 561h3M385 542h3M377 574h3M378 543h3M378 570h3M364 576h3M390 572h3M386 593h3M396 553h3M377 590h3M365 563h3M383 576h3M398 560h3M390 552h3M405 543h3M395 572h3M381 552h3M393 540h3M403 586h3M411 558h3M396 554h3M393 577h3M404 544h3M368 577h3M380 543h3M407 562h3M395 561h3M388 589h3M398 567h3M411 563h3M367 560h3M370 600h3M393 561h3M384 563h3M386 574h3M378 555h3M384 582h3M369 572h3M385 529h3M381 541h3M395 564h3M377 553h3M406 550h3M386 540h3M376 551h3M396 568h3M407 564h3M408 526h3M379 585h3M376 598h3M402 544h3M397 539h3M394 580h3M393 572h3M378 606h3M377 588h3M381 593h3M384 581h3M376 546h3M373 554h3M375 543h3M370 589h3M384 573h3M369 547h3M390 567h3M375 575h3M380 595h3M364 572h3M388 562h3M369 573h3M370 553h3M395 546h3M403 563h3M362 545h3M386 567h3M393 546h3M399 571h3M391 586h3M375 591h3M376 566h3M376 568h3M371 548h3M374 592h3M399 551h3M390 567h3M385 568h3M396 571h3M371 598h3M400 569h3M383 549h3M410 555h3M391 559h3M387 552h3M388 564h3M377 557h3M403 525h3M380 547h3M386 572h3M396 549h3M370 571h3M376 555h3M380 542h3M384 563h3M367 560h3M370 582h3M363 573h3M415 555h3M404 548h3M368 568h3M395 565h3M389 568h3M401 564h3M372 591h3M385 575h3M362 570h3M380 564h3M415 560h3M376 550h3M378 560h3M382 587h3M374 561h3M395 550h3M382 566h3M388 568h3M399 554h3M393 568h3M396 555h3M395 586h3M401 525h3M408 553h3M387 563h3M368 575h3M396 560h3M387 537h3M393 573h3M381 579h3M387 563h3M378 573h3M390 561h3M377 554h3M370 575h3M378 570h3M386 548h3M399 554h3M385 552h3M368 528h3M374 532h3M371 580h3M380 565h3M390 572h3M387 577h3M362 560h3M381 593h3M387 578h3M388 569h3M385 548h3M371 621h3M377 572h3M404 551h3M433 585h3M413 592h3M445 581h3M421 577h3M420 585h3M411 566h3M410 567h3M404 574h3M432 545h3M424 574h3M399 582h3M408 569h3M400 563h3M415 597h3M410 571h3M418 570h3M396 568h3M419 563h3M386 569h3M394 590h3M403 568h3M414 575h3M430 580h3M402 555h3M420 559h3M402 573h3M401 546h3M412 564h3M415 571h3M425 572h3M423 574h3M407 580h3M392 585h3M419 560h3M409 574h3M401 572h3M405 601h3M395 559h3M429 574h3M400 574h3M419 573h3M433 553h3M414 571h3M416 576h3M394 582h3M408 566h3M389 581h3M421 582h3M422 564h3M401 564h3M399 598h3M423 572h3M416 581h3M412 577h3M407 580h3M408 586h3M401 610h3M396 559h3M403 571h3M401 575h3M418 548h3M396 592h3M416 584h3M424 570h3M414 576h3M417 559h3M415 571h3M414 574h3M400 583h3M393 575h3M411 580h3M409 575h3M404 582h3M419 584h3M356 592h3M358 582h3M353 577h3M354 587h3M360 592h3M352 583h3M361 574h3M367 562h3M369 586h3M360 600h3M358 569h3M352 562h3M358 567h3M362 571h3M368 569h3M365 588h3M354 564h3M354 597h3M364 569h3M360 596h3M364 584h3M353 588h3M368 581h3M362 581h3M360 606h3M356 567h3M365 581h3M356 572h3M354 577h3M357 560h3M361 586h3M358 588h3M345 599h3M365 606h3M357 574h3M351 590h3M368 577h3M358 584h3M356 582h3M357 580h3M358 571h3M362 569h3M356 572h3M352 594h3M352 594h3M357 573h3M368 581h3M356 589h3M365 577h3M349 603h3M356 565h3M356 604h3M372 589h3M345 579h3M358 583h3M429 612h3M427 622h3M419 595h3M424 621h3M433 628h3M435 595h3M428 614h3M439 606h3M430 620h3M431 589h3M417 589h3M435 592h3M430 607h3M433 633h3M435 596h3M426 612h3M422 586h3M414 613h3M441 606h3M422 623h3M424 623h3M420 609h3M422 589h3M426 608h3M429 595h3M430 592h3M416 618h3M435 618h3M427 596h3M433 608h3M426 622h3M423 604h3M424 599h3M436 597h3M417 604h3M432 639h3M424 625h3M415 595h3M421 602h3M422 634h3M420 606h3M429 598h3M422 613h3M432 607h3M421 601h3M426 588h3M416 618h3M439 589h3M425 600h3M426 611h3M439 620h3M428 601h3M408 614h3M413 585h3M414 640h3M434 597h3M434 624h3M432 613h3M416 606h3M431 589h3M417 581h3M428 597h3M414 579h3M425 583h3M434 597h3M422 623h3M428 608h3M434 612h3M432 623h3M407 576h3M418 631h3M431 609h3M419 596h3M432 633h3M423 644h3M406 601h3M432 603h3M424 617h3M422 624h3M428 618h3M362 631h3M427 569h3M392 584h3M411 610h3M404 585h3M385 593h3M421 585h3M371 596h3M396 583h3M366 600h3M379 566h3M386 595h3M395 595h3M402 594h3M380 594h3M375 595h3M403 612h3M401 619h3M384 594h3M423 607h3M393 595h3M395 598h3M414 604h3M367 616h3M385 595h3M388 580h3M399 593h3M388 598h3M403 577h3M386 630h3M388 606h3M383 597h3M439 617h3M440 585h3M415 597h3M406 581h3M398 623h3M403 608h3M408 599h3M401 603h3M404 571h3M390 597h3M415 614h3M388 593h3M380 614h3M363 590h3M397 576h3M393 568h3M409 582h3M384 586h3M389 600h3M386 607h3M399 601h3M386 594h3M386 638h3M377 612h3M390 604h3M405 600h3M419 633h3M414 611h3M386 592h3M405 607h3M381 602h3M408 588h3M359 603h3M407 587h3M383 582h3M372 639h3M413 623h3M394 597h3M343 640h3M400 607h3M358 621h3M383 613h3M390 617h3M402 603h3M409 595h3M388 584h3M404 610h3M414 604h3M398 600h3M432 605h3M425 591h3M404 604h3M349 616h3M415 599h3M398 575h3M376 608h3M307 581h3M373 609h3M377 588h3M328 591h3M355 594h3M356 546h3M315 603h3M311 601h3M315 612h3M330 553h3M363 553h3M342 619h3M359 564h3M344 535h3M330 583h3M323 590h3M355 582h3M322 579h3M320 578h3M362 600h3M313 590h3M318 600h3M328 598h3M330 566h3M347 586h3M322 589h3M341 590h3M307 590h3M376 585h3M342 594h3M324 563h3M313 619h3M331 568h3M367 598h3M354 535h3M343 570h3M336 565h3M342 583h3M348 576h3M315 575h3M305 628h3M327 566h3M358 540h3M339 548h3M312 552h3M356 613h3M336 590h3M335 588h3M341 608h3M410 686h3M385 650h3M413 664h3M437 647h3M440 674h3M413 668h3M415 673h3M365 681h3M394 666h3M420 673h3M385 698h3M405 659h3M394 685h3M414 639h3M383 666h3M381 656h3M379 661h3M403 633h3M415 686h3M398 666h3M401 640h3M420 665h3M387 631h3M452 691h3M424 637h3M378 653h3M372 646h3M395 673h3M393 670h3M390 649h3M384 682h3M397 657h3M385 694h3M433 658h3M397 679h3M392 664h3M411 683h3M430 663h3M399 640h3M387 657h3M404 648h3M383 666h3M428 630h3M405 684h3M448 649h3M411 698h3M393 665h3M375 662h3M416 673h3M389 650h3M367 676h3M440 645h3M410 627h3M402 628h3M420 689h3M398 694h3M412 645h3M403 685h3M420 656h3M463 662h3M406 661h3M401 678h3M399 699h3M394 648h3M402 665h3M405 689h3M418 627h3M383 657h3M404 691h3M404 639h3M393 666h3M428 664h3M415 663h3M390 617h3M398 661h3M423 667h3M397 630h3M373 674h3M446 669h3M416 692h3M397 670h3M411 668h3M371 671h3M384 656h3M426 674h3M423 644h3M373 667h3M390 643h3M413 622h3M423 647h3M377 654h3M395 668h3M427 645h3M396 689h3M387 650h3M402 687h3M382 655h3M406 674h3M411 653h3M397 652h3M391 656h3M370 649h3M428 683h3M419 657h3M334 656h3M358 656h3M320 671h3M329 690h3M336 670h3M321 693h3M326 670h3M307 661h3M343 677h3M302 655h3M344 654h3M338 675h3M316 664h3M359 680h3M317 657h3M334 647h3M355 654h3M324 665h3M309 680h3M332 652h3M319 689h3M376 695h3M327 618h3M317 664h3M334 650h3M315 628h3M341 674h3M324 638h3M329 693h3M312 697h3M312 691h3M331 657h3M327 695h3M320 671h3M366 658h3M354 658h3M353 675h3M350 672h3M332 670h3M350 665h3M320 660h3M358 697h3M333 663h3M328 662h3M343 668h3M303 658h3M315 688h3M343 608h3M352 616h3M341 667h3M451 612h3M491 639h3" stroke="#000" stroke-width="3.2" stroke-opacity="0.6" fill="none"/>
<path transform="scale(0.5)" d="M419 521h3M427 530h3M412 553h3M419 556h3M400 539h3M408 546h3M417 528h3M406 546h3M420 545h3M429 538h3M425 539h3M406 530h3M375 536h3M421 540h3M399 536h3M388 542h3M410 537h3M403 567h3M414 549h3M408 538h3M416 555h3M401 534h3M410 536h3M403 562h3M408 529h3M420 532h3M437 544h3M412 556h3M420 528h3M427 541h3M410 542h3M414 539h3M418 522h3M410 540h3M414 528h3M426 541h3M388 554h3M416 526h3M415 534h3M429 555h3M389 534h3M413 526h3M428 546h3M416 555h3M441 543h3M414 532h3M405 531h3M428 541h3M402 544h3M419 537h3M406 530h3M405 546h3M426 519h3M416 524h3M421 522h3M410 527h3M411 534h3M418 533h3M406 541h3M418 540h3M414 545h3M432 536h3M410 541h3M390 550h3M419 550h3M410 529h3M426 533h3M428 529h3M383 558h3M391 553h3M405 544h3M418 528h3M414 551h3M412 542h3M402 530h3M416 524h3M420 546h3M415 553h3M409 532h3M422 529h3M410 534h3M417 541h3M416 528h3M416 543h3M417 554h3M429 550h3M393 542h3M426 529h3M425 531h3M408 552h3M440 523h3M396 534h3M412 519h3M424 523h3M414 544h3M413 534h3M397 549h3M393 557h3M414 529h3M410 532h3M429 544h3M422 530h3M412 548h3M423 531h3M419 541h3M438 539h3M429 527h3M401 559h3M436 520h3M402 561h3M396 533h3M413 529h3M420 541h3M406 532h3M423 544h3M404 534h3M409 559h3M409 541h3M410 530h3M415 533h3M419 557h3M371 567h3M412 552h3M418 520h3M414 533h3M414 524h3M428 524h3M428 527h3M427 544h3M408 530h3M428 528h3M401 543h3M421 522h3M420 556h3M418 523h3M398 536h3M416 528h3M398 556h3M406 551h3M423 534h3M406 533h3M431 526h3M409 549h3M423 526h3M426 536h3M407 542h3M412 535h3M405 531h3M416 542h3M391 550h3M438 546h3M399 554h3M414 549h3M414 533h3M402 546h3M433 537h3M413 540h3M407 531h3M411 534h3M430 527h3M414 543h3M425 528h3M419 536h3M421 541h3M399 545h3M413 548h3M428 524h3M394 533h3M431 524h3M419 524h3M414 524h3M407 545h3M427 548h3M405 537h3M428 533h3M411 530h3M405 549h3M422 540h3M419 536h3M417 523h3M412 546h3M422 529h3M407 551h3M417 549h3M424 531h3M392 541h3M390 550h3M395 540h3M418 533h3M419 532h3M427 532h3M408 521h3M413 533h3M400 539h3M415 522h3M412 528h3M405 539h3M432 533h3M413 547h3M431 529h3M406 546h3M413 524h3M411 549h3M403 546h3M415 530h3M426 530h3M405 532h3M417 532h3M403 556h3M425 523h3M439 526h3M429 563h3M414 523h3M410 519h3M412 523h3M397 538h3M437 531h3M417 526h3M435 530h3M418 526h3M416 558h3M415 537h3M412 551h3M419 529h3M396 537h3M414 546h3M424 536h3M419 526h3M434 550h3M399 539h3M404 537h3M408 533h3M415 550h3M416 536h3M418 521h3M403 530h3M419 520h3M416 523h3M437 524h3M425 522h3M420 530h3M420 535h3M417 541h3M415 522h3M438 541h3M403 542h3M410 540h3M419 531h3M396 528h3M416 528h3M422 532h3M434 523h3M406 534h3M395 528h3M424 534h3M417 544h3M417 553h3M408 541h3M389 526h3M406 546h3M412 540h3M407 551h3M396 559h3M408 562h3M379 565h3M410 529h3M411 540h3M437 521h3M399 535h3M428 534h3M400 540h3M403 539h3M407 548h3M416 528h3M400 541h3M441 521h3M420 531h3M427 533h3M420 531h3M416 528h3M422 551h3M380 540h3M423 549h3M422 526h3M427 530h3M402 569h3M401 559h3M390 553h3M424 530h3M415 526h3M421 525h3M420 553h3M415 523h3M404 535h3M426 534h3M423 533h3M418 524h3M410 527h3M412 535h3M422 539h3M397 547h3M410 551h3M388 563h3M409 539h3M412 541h3M401 538h3M414 545h3M432 530h3M416 526h3M422 532h3M401 533h3M403 536h3M388 561h3M420 543h3M427 528h3M409 530h3M423 527h3M425 552h3M413 520h3M406 558h3M405 541h3M411 546h3M404 548h3M400 553h3M437 539h3M442 537h3M433 531h3M404 550h3M411 553h3M394 540h3M429 539h3M447 528h3M419 540h3M417 534h3M414 529h3M391 550h3M415 556h3M410 558h3M409 528h3M432 535h3M423 534h3M403 531h3M423 522h3M407 533h3M427 534h3M420 522h3M402 557h3M410 548h3M420 525h3M404 554h3M401 555h3M427 562h3M425 539h3M412 537h3M442 531h3M412 533h3M405 548h3M393 519h3M410 533h3M420 526h3M408 523h3M431 540h3M437 532h3M406 521h3M388 542h3M417 525h3M414 535h3M415 543h3M420 545h3M418 545h3M424 522h3M419 539h3M405 566h3M404 519h3M445 529h3M412 528h3M412 536h3M409 544h3M437 535h3M416 550h3M413 521h3M417 540h3M421 542h3M387 542h3M428 530h3M411 525h3M412 539h3M421 540h3M423 540h3M428 533h3M409 535h3M428 545h3M398 555h3M419 530h3M412 553h3M421 554h3M414 543h3M433 521h3M415 533h3M419 531h3M429 529h3M405 536h3M405 523h3M419 564h3M414 554h3M431 531h3M419 542h3M392 547h3M440 530h3M405 526h3M433 538h3M393 536h3M411 537h3M386 560h3M435 521h3M398 528h3M416 526h3M407 534h3M416 519h3M412 525h3M437 530h3M399 545h3M414 558h3M401 532h3M405 534h3M411 522h3M402 558h3M414 534h3M392 524h3M411 552h3M417 524h3M423 530h3M400 532h3M403 558h3M403 533h3M420 536h3M421 530h3M421 528h3M406 556h3M415 538h3M430 533h3M400 562h3M414 529h3M409 522h3M440 530h3M407 552h3M407 533h3M436 533h3M409 542h3M392 529h3M410 527h3M426 531h3M409 558h3M401 547h3M419 546h3M429 538h3M422 530h3M417 526h3M415 534h3M431 523h3M427 540h3M423 520h3M431 523h3M386 571h3M438 548h3M417 548h3M421 537h3M413 531h3M402 536h3M435 532h3M401 547h3M413 558h3M431 528h3M434 539h3M400 563h3M416 546h3M397 547h3M425 524h3M419 530h3M409 543h3M407 523h3M415 546h3M430 525h3M422 535h3M394 540h3M424 526h3M421 533h3M422 542h3M441 546h3M403 535h3M411 531h3M410 531h3M428 537h3M402 551h3M408 536h3M418 526h3M411 534h3M423 527h3M415 526h3M435 526h3M417 526h3M439 525h3M444 522h3M416 529h3M427 520h3M421 567h3M431 542h3M412 526h3M414 528h3M422 531h3M412 570h3M425 527h3M434 522h3M413 542h3M429 537h3M412 546h3M439 529h3M406 532h3M418 558h3M421 540h3M420 544h3M416 539h3M404 528h3M407 539h3M401 538h3M414 539h3M418 528h3M404 550h3M420 523h3M449 521h3M397 554h3M397 557h3M406 542h3M406 519h3M410 557h3M396 552h3M431 527h3M434 536h3M413 533h3M412 554h3M425 550h3M426 531h3M429 540h3M404 527h3M400 536h3M409 533h3M434 523h3M406 526h3M424 545h3M395 545h3M416 551h3M401 542h3M424 535h3M413 551h3M409 524h3M422 557h3M424 533h3M419 531h3M425 523h3M423 531h3M396 536h3M411 542h3M409 535h3M414 542h3M408 543h3M390 535h3M412 540h3M406 551h3M409 532h3M391 529h3M426 550h3M404 534h3M414 554h3M387 536h3M423 554h3M427 549h3M414 551h3M408 535h3M404 557h3M395 553h3M413 524h3M425 528h3M422 529h3M411 551h3M418 520h3M434 533h3M413 525h3M419 530h3M411 576h3M419 533h3M418 544h3M425 538h3M412 555h3M416 538h3M433 520h3M407 540h3M425 533h3M399 530h3M409 553h3M403 542h3M416 530h3M407 540h3M411 530h3M404 538h3M433 524h3M412 523h3M411 520h3M425 523h3M414 521h3M425 528h3M422 520h3M418 540h3M406 546h3M416 528h3M407 529h3M425 540h3M380 581h3M391 554h3M405 586h3M394 542h3M380 564h3M377 560h3M366 591h3M388 538h3M380 570h3M362 557h3M402 554h3M376 572h3M394 565h3M395 566h3M384 584h3M406 573h3M391 559h3M375 559h3M375 571h3M397 540h3M379 577h3M381 569h3M390 566h3M408 548h3M401 578h3M395 538h3M398 565h3M388 569h3M361 586h3M369 579h3M367 544h3M397 553h3M377 553h3M366 555h3M389 545h3M382 591h3M398 525h3M368 546h3M357 598h3M394 567h3M380 555h3M371 585h3M387 582h3M389 540h3M384 586h3M377 575h3M368 606h3M397 564h3M371 564h3M390 559h3M363 588h3M365 585h3M370 577h3M381 562h3M379 575h3M387 563h3M385 554h3M393 542h3M381 557h3M395 544h3M398 569h3M389 574h3M382 585h3M381 587h3M392 566h3M371 576h3M375 579h3M395 556h3M355 576h3M391 591h3M386 556h3M395 564h3M381 552h3M379 549h3M392 554h3M367 599h3M379 569h3M372 567h3M371 552h3M402 568h3M384 575h3M385 545h3M382 531h3M370 574h3M385 541h3M397 524h3M389 584h3M405 552h3M370 556h3M393 565h3M403 551h3M404 579h3M410 523h3M391 549h3M362 585h3M360 558h3M369 594h3M393 614h3M365 583h3M389 604h3M373 547h3M401 564h3M389 567h3M392 580h3M380 574h3M357 551h3M388 553h3M400 555h3M391 560h3M380 576h3M379 581h3M376 567h3M363 598h3M375 582h3M388 566h3M376 556h3M388 586h3M362 594h3M381 554h3M400 530h3M377 540h3M390 528h3M390 579h3M359 564h3M407 565h3M368 561h3M388 594h3M395 559h3M406 547h3M395 539h3M411 546h3M383 574h3M366 588h3M395 564h3M396 573h3M352 546h3M393 533h3M376 535h3M358 574h3M390 568h3M423 537h3M384 573h3M368 593h3M411 562h3M375 567h3M381 592h3M350 584h3M386 592h3M393 560h3M393 585h3M376 562h3M374 587h3M370 548h3M394 562h3M387 587h3M364 560h3M394 543h3M389 546h3M385 598h3M373 563h3M379 559h3M373 593h3M396 558h3M399 608h3M393 545h3M396 575h3M376 552h3M388 595h3M379 557h3M370 577h3M389 530h3M351 610h3M385 597h3M385 543h3M376 560h3M397 531h3M377 572h3M399 530h3M391 568h3M417 562h3M408 544h3M365 574h3M377 559h3M380 568h3M378 551h3M384 553h3M374 561h3M377 552h3M382 548h3M367 592h3M384 573h3M376 600h3M380 567h3M363 590h3M396 563h3M388 546h3M356 581h3M386 585h3M373 575h3M379 577h3M382 560h3M389 561h3M381 553h3M401 569h3M384 545h3M381 590h3M396 570h3M397 581h3M358 581h3M392 572h3M401 572h3M384 573h3M392 556h3M375 581h3M368 581h3M364 550h3M376 548h3M388 585h3M400 548h3M384 563h3M366 589h3M371 545h3M362 594h3M391 544h3M375 583h3M392 575h3M385 572h3M386 547h3M388 529h3M400 579h3M400 554h3M397 565h3M385 562h3M395 572h3M348 607h3M391 546h3M373 543h3M413 572h3M380 559h3M399 563h3M374 559h3M376 575h3M404 562h3M387 552h3M386 573h3M394 581h3M398 573h3M384 587h3M406 587h3M412 574h3M421 548h3M409 568h3M405 573h3M404 561h3M406 561h3M406 573h3M436 574h3M393 558h3M420 580h3M417 564h3M415 562h3M399 577h3M412 560h3M419 577h3M438 570h3M397 586h3M410 561h3M389 578h3M411 563h3M422 569h3M412 575h3M413 569h3M410 569h3M434 564h3M393 572h3M411 580h3M416 587h3M414 566h3M403 579h3M416 578h3M409 577h3M409 578h3M414 570h3M418 589h3M427 567h3M413 561h3M394 567h3M414 585h3M419 577h3M405 581h3M426 578h3M403 574h3M411 572h3M391 577h3M407 566h3M416 562h3M412 577h3M418 574h3M413 571h3M408 572h3M409 571h3M407 578h3M400 571h3M425 576h3M430 565h3M409 580h3M417 569h3M426 574h3M418 579h3M394 558h3M406 562h3M399 577h3M412 583h3M420 576h3M421 579h3M413 561h3M419 572h3M416 570h3M389 578h3M410 559h3M426 564h3M389 567h3M431 561h3M355 594h3M364 599h3M363 581h3M363 577h3M350 570h3M362 583h3M356 582h3M356 587h3M358 591h3M353 585h3M368 571h3M363 591h3M346 581h3M360 588h3M358 578h3M364 603h3M340 574h3M352 588h3M357 570h3M346 570h3M358 582h3M357 572h3M352 569h3M366 578h3M360 578h3M351 582h3M352 572h3M356 575h3M352 572h3M356 585h3M375 566h3M344 573h3M356 570h3M354 580h3M359 570h3M357 584h3M359 590h3M365 579h3M353 585h3M361 575h3M362 587h3M361 595h3M351 567h3M349 590h3M363 590h3M360 580h3M365 600h3M359 596h3M371 571h3M364 591h3M353 575h3M364 596h3M357 601h3M350 582h3M360 585h3M418 604h3M432 618h3M415 591h3M426 613h3M431 633h3M420 614h3M421 613h3M443 570h3M426 629h3M418 619h3M437 611h3M426 607h3M431 601h3M429 614h3M423 598h3M435 602h3M431 639h3M433 606h3M426 590h3M429 587h3M422 625h3M424 609h3M427 614h3M422 605h3M424 627h3M430 603h3M426 585h3M424 607h3M425 607h3M416 607h3M431 596h3M433 562h3M437 600h3M432 610h3M424 612h3M436 612h3M436 627h3M423 599h3M417 593h3M429 581h3M424 590h3M421 602h3M435 618h3M425 597h3M424 577h3M429 604h3M436 617h3M428 621h3M427 617h3M432 608h3M416 622h3M424 569h3M441 605h3M431 587h3M423 622h3M420 596h3M431 616h3M416 600h3M420 584h3M427 602h3M429 622h3M420 569h3M417 611h3M403 593h3M432 589h3M414 618h3M426 616h3M423 595h3M421 584h3M443 601h3M415 600h3M421 619h3M425 593h3M425 629h3M427 612h3M413 599h3M421 605h3M437 607h3M434 587h3M432 622h3M380 588h3M406 612h3M409 598h3M424 563h3M391 592h3M387 589h3M386 599h3M389 625h3M376 587h3M374 603h3M392 606h3M419 611h3M387 614h3M391 611h3M418 621h3M410 623h3M401 606h3M388 600h3M387 584h3M387 603h3M405 628h3M387 610h3M396 617h3M386 596h3M362 573h3M401 593h3M410 623h3M413 614h3M387 618h3M396 606h3M403 597h3M395 610h3M395 632h3M360 620h3M395 616h3M391 634h3M368 618h3M401 623h3M381 598h3M416 612h3M395 621h3M423 610h3M425 635h3M397 583h3M369 595h3M392 645h3M414 594h3M406 594h3M402 608h3M398 615h3M366 611h3M393 595h3M370 609h3M387 607h3M375 566h3M395 605h3M394 625h3M407 602h3M401 601h3M394 600h3M394 591h3M410 614h3M396 569h3M378 594h3M368 595h3M394 597h3M386 590h3M368 600h3M384 629h3M411 626h3M399 613h3M396 617h3M370 594h3M391 611h3M395 595h3M387 588h3M432 596h3M379 604h3M400 602h3M392 598h3M396 568h3M394 603h3M395 579h3M406 615h3M404 619h3M401 594h3M391 580h3M353 572h3M316 574h3M349 561h3M362 567h3M342 583h3M335 582h3M316 545h3M318 617h3M301 628h3M318 586h3M363 579h3M304 570h3M313 552h3M358 627h3M371 574h3M320 594h3M346 596h3M345 551h3M344 642h3M322 616h3M355 609h3M355 584h3M329 628h3M338 568h3M331 558h3M364 600h3M342 610h3M323 553h3M312 632h3M355 551h3M347 565h3M342 540h3M336 654h3M335 614h3M354 552h3M338 570h3M353 566h3M325 602h3M310 569h3M320 526h3M378 535h3M315 588h3M305 604h3M316 595h3M344 594h3M361 613h3M364 563h3M347 601h3M338 606h3M354 559h3M345 591h3M323 605h3M336 596h3M384 658h3M415 689h3M408 677h3M396 630h3M415 676h3M449 673h3M439 667h3M435 668h3M412 645h3M413 634h3M433 651h3M436 636h3M414 650h3M401 673h3M389 676h3M393 649h3M409 657h3M400 665h3M365 661h3M408 677h3M392 635h3M405 640h3M424 675h3M411 687h3M423 670h3M434 651h3M427 636h3M395 666h3M392 690h3M391 634h3M372 657h3M426 651h3M445 653h3M383 647h3M409 643h3M417 644h3M422 674h3M412 659h3M383 647h3M374 641h3M388 624h3M399 662h3M412 665h3M395 642h3M414 665h3M408 655h3M438 647h3M376 663h3M387 693h3M415 652h3M403 681h3M396 658h3M394 669h3M404 637h3M411 683h3M420 670h3M428 643h3M388 681h3M390 669h3M407 671h3M420 629h3M384 661h3M431 673h3M410 665h3M408 681h3M441 647h3M428 638h3M401 644h3M417 647h3M385 660h3M388 616h3M424 679h3M380 639h3M422 626h3M398 683h3M365 643h3M396 653h3M408 682h3M404 681h3M398 659h3M414 646h3M406 680h3M416 659h3M420 676h3M379 683h3M375 666h3M444 658h3M395 653h3M417 684h3M391 667h3M412 645h3M419 661h3M392 670h3M388 657h3M405 674h3M430 680h3M394 646h3M393 676h3M392 663h3M418 636h3M420 630h3M339 692h3M320 660h3M331 669h3M348 672h3M309 670h3M341 684h3M366 647h3M322 621h3M339 648h3M306 638h3M331 650h3M314 658h3M341 640h3M357 650h3M345 669h3M345 675h3M333 660h3M328 656h3M334 658h3M355 664h3M313 661h3M306 630h3M332 637h3M306 663h3M351 676h3M319 660h3M317 654h3M313 673h3M325 660h3M326 676h3M333 690h3M313 646h3M332 667h3M318 662h3M335 648h3M349 656h3M307 646h3M326 637h3M328 671h3M331 697h3M345 663h3M352 697h3M411 675h3M409 697h3M464 650h3M337 619h3" stroke="#000" stroke-width="3.2" stroke-opacity="0.6" fill="none"/>
<path transform="scale(0.5)" d="M384 529h3M408 535h3M417 530h3M426 529h3M410 565h3M411 543h3M426 522h3M413 545h3M410 541h3M405 545h3M419 533h3M412 520h3M412 520h3M423 545h3M424 546h3M402 551h3M416 537h3M409 548h3M411 535h3M414 534h3M429 527h3M404 532h3M435 542h3M435 531h3M424 554h3M393 522h3M415 522h3M403 561h3M430 524h3M403 556h3M405 547h3M411 538h3M410 554h3M422 532h3M400 530h3M422 532h3M374 548h3M404 532h3M394 555h3M408 546h3M404 561h3M399 535h3M441 536h3M425 528h3M401 545h3M428 535h3M417 563h3M406 533h3M421 537h3M422 556h3M409 550h3M410 559h3M421 542h3M413 547h3M411 547h3M431 540h3M415 551h3M390 550h3M417 536h3M405 538h3M416 546h3M392 552h3M405 549h3M432 524h3M427 522h3M423 537h3M412 539h3M394 537h3M416 538h3M421 538h3M424 550h3M422 540h3M431 529h3M408 544h3M425 530h3M415 525h3M418 547h3M412 521h3M417 538h3M420 539h3M418 543h3M416 536h3M410 552h3M430 543h3M410 547h3M399 553h3M405 525h3M404 541h3M416 522h3M417 548h3M435 520h3M430 527h3M427 523h3M426 545h3M438 537h3M422 524h3M415 555h3M402 547h3M426 530h3M425 525h3M410 526h3M430 524h3M426 530h3M403 559h3M410 538h3M415 537h3M399 584h3M416 522h3M405 530h3M427 533h3M432 541h3M430 536h3M415 532h3M429 522h3M433 524h3M404 521h3M427 539h3M418 538h3M400 564h3M412 527h3M406 533h3M399 535h3M418 530h3M435 542h3M413 543h3M403 544h3M423 539h3M397 532h3M405 531h3M408 531h3M426 531h3M406 540h3M430 556h3M422 550h3M412 536h3M426 545h3M416 550h3M429 527h3M400 543h3M421 550h3M416 540h3M407 535h3M418 538h3M393 534h3M430 545h3M422 524h3M407 567h3M395 543h3M435 528h3M411 557h3M406 536h3M401 549h3M430 540h3M413 540h3M426 534h3M425 529h3M418 535h3M422 531h3M441 545h3M429 530h3M403 550h3M404 534h3M426 532h3M426 534h3M410 560h3M414 537h3M434 535h3M409 558h3M424 537h3M440 530h3M397 569h3M429 536h3M416 540h3M389 559h3M402 543h3M393 539h3M411 520h3M407 523h3M406 538h3M409 519h3M415 519h3M416 546h3M419 541h3M405 546h3M410 525h3M414 551h3M405 551h3M411 531h3M381 558h3M422 525h3M393 562h3M420 528h3M413 534h3M422 535h3M408 544h3M442 524h3M398 546h3M418 529h3M404 541h3M408 551h3M425 521h3M411 554h3M428 535h3M416 551h3M392 532h3M418 541h3M427 533h3M414 533h3M411 533h3M406 544h3M408 546h3M403 534h3M425 533h3M440 536h3M435 530h3M430 537h3M416 531h3M423 546h3M449 529h3M423 537h3M423 520h3M404 547h3M402 536h3M407 546h3M401 532h3M425 527h3M400 532h3M413 524h3M422 540h3M401 534h3M430 522h3M416 543h3M412 534h3M420 523h3M392 564h3M441 546h3M420 540h3M402 531h3M427 536h3M406 543h3M413 542h3M437 531h3M404 542h3M424 553h3M421 531h3M436 540h3M394 539h3M420 533h3M415 532h3M409 531h3M411 531h3M431 548h3M394 549h3M401 559h3M435 543h3M406 541h3M408 564h3M407 540h3M396 533h3M416 549h3M403 541h3M430 524h3M415 557h3M405 527h3M394 530h3M416 534h3M390 535h3M441 525h3M429 539h3M405 526h3M426 540h3M419 530h3M416 528h3M406 554h3M376 547h3M433 534h3M405 526h3M417 556h3M419 558h3M417 522h3M408 553h3M417 548h3M386 537h3M433 529h3M414 529h3M439 541h3M432 567h3M445 522h3M403 541h3M417 538h3M415 551h3M403 529h3M428 539h3M415 536h3M417 525h3M418 527h3M405 519h3M426 530h3M416 530h3M407 536h3M405 541h3M419 540h3M418 526h3M393 540h3M392 547h3M402 535h3M416 551h3M420 534h3M402 562h3M413 543h3M408 535h3M400 534h3M378 526h3M404 531h3M426 533h3M412 545h3M417 529h3M418 546h3M413 538h3M421 527h3M411 523h3M396 549h3M414 532h3M434 535h3M404 551h3M421 544h3M417 546h3M409 534h3M415 522h3M407 554h3M399 540h3M414 554h3M406 527h3M425 521h3M400 558h3M425 547h3M401 531h3M413 527h3M407 526h3M391 530h3M411 540h3M408 534h3M413 526h3M413 560h3M436 543h3M415 533h3M416 529h3M414 531h3M414 526h3M428 522h3M395 541h3M405 541h3M416 534h3M417 530h3M387 529h3M430 519h3M411 546h3M441 521h3M420 523h3M402 525h3M418 565h3M414 541h3M416 532h3M423 529h3M409 540h3M400 519h3M404 529h3M417 520h3M411 542h3M418 542h3M410 558h3M407 542h3M409 530h3M425 540h3M403 550h3M392 548h3M405 528h3M425 545h3M401 549h3M408 527h3M433 548h3M410 552h3M407 519h3M416 530h3M424 540h3M430 537h3M416 530h3M429 528h3M406 530h3M408 527h3M401 540h3M411 536h3M419 535h3M404 545h3M414 545h3M425 520h3M425 537h3M414 525h3M391 581h3M409 541h3M396 548h3M430 526h3M389 555h3M433 547h3M399 553h3M442 551h3M415 531h3M402 548h3M417 544h3M392 530h3M410 551h3M429 528h3M442 523h3M408 530h3M432 528h3M425 534h3M400 546h3M418 555h3M409 532h3M399 535h3M413 526h3M430 526h3M415 537h3M408 530h3M405 534h3M401 530h3M393 542h3M411 522h3M425 531h3M393 542h3M405 545h3M414 543h3M406 563h3M402 535h3M418 541h3M409 525h3M413 527h3M419 537h3M432 540h3M420 546h3M410 528h3M429 527h3M407 544h3M412 545h3M414 532h3M419 544h3M433 523h3M428 536h3M405 555h3M422 522h3M403 538h3M419 520h3M410 526h3M413 537h3M417 523h3M425 541h3M426 542h3M411 552h3M396 542h3M421 530h3M411 553h3M417 525h3M416 545h3M412 554h3M413 544h3M439 534h3M408 556h3M430 531h3M399 529h3M393 560h3M405 540h3M423 528h3M429 525h3M418 541h3M391 535h3M393 521h3M415 544h3M424 527h3M410 543h3M390 549h3M426 526h3M430 548h3M406 528h3M410 535h3M424 535h3M412 537h3M404 538h3M407 567h3M433 530h3M420 542h3M418 540h3M423 539h3M434 536h3M431 522h3M414 558h3M404 533h3M402 532h3M409 545h3M419 522h3M409 547h3M422 533h3M412 538h3M421 534h3M411 528h3M417 541h3M425 543h3M411 554h3M420 526h3M448 537h3M424 528h3M397 545h3M419 538h3M415 519h3M428 549h3M416 552h3M419 545h3M402 575h3M403 534h3M412 536h3M425 542h3M399 549h3M428 532h3M425 524h3M385 541h3M409 535h3M426 529h3M410 539h3M424 520h3M404 552h3M431 532h3M408 538h3M421 536h3M426 553h3M423 535h3M451 520h3M410 547h3M409 546h3M414 539h3M412 548h3M414 540h3M407 542h3M403 549h3M413 520h3M419 551h3M402 531h3M424 546h3M425 528h3M446 540h3M430 529h3M410 547h3M402 543h3M384 560h3M411 528h3M416 553h3M410 557h3M406 524h3M398 535h3M403 529h3M410 542h3M423 531h3M391 541h3M406 525h3M404 537h3M384 562h3M414 533h3M398 539h3M395 540h3M424 556h3M411 542h3M425 534h3M427 545h3M390 553h3M431 543h3M428 535h3M419 521h3M407 542h3M396 544h3M409 555h3M415 535h3M403 542h3M423 528h3M405 545h3M425 537h3M398 550h3M422 523h3M405 534h3M401 552h3M397 560h3M405 534h3M398 540h3M408 523h3M412 525h3M407 530h3M411 525h3M414 538h3M408 535h3M402 528h3M392 557h3M419 526h3M414 539h3M403 560h3M419 524h3M426 530h3M431 522h3M408 543h3M403 541h3M411 519h3M412 536h3M414 533h3M400 539h3M424 532h3M399 549h3M426 525h3M424 552h3M427 521h3M413 535h3M440 526h3M416 523h3M419 528h3M399 554h3M395 530h3M374 547h3M402 552h3M364 559h3M371 565h3M382 543h3M406 532h3M391 574h3M414 541h3M388 571h3M367 563h3M374 579h3M370 585h3M370 569h3M376 570h3M382 555h3M394 561h3M386 579h3M395 557h3M408 566h3M388 545h3M397 556h3M394 577h3M408 548h3M422 553h3M387 572h3M372 561h3M391 566h3M367 587h3M374 559h3M384 585h3M372 564h3M378 544h3M379 561h3M384 549h3M373 538h3M397 547h3M401 525h3M368 534h3M370 543h3M392 555h3M391 542h3M388 564h3M396 559h3M388 583h3M383 583h3M377 570h3M372 586h3M383 585h3M371 562h3M394 535h3M374 585h3M382 596h3M390 579h3M379 574h3M383 560h3M401 552h3M385 557h3M390 581h3M376 544h3M375 559h3M351 549h3M397 540h3M391 555h3M399 572h3M392 555h3M373 566h3M385 576h3M382 557h3M390 557h3M370 572h3M385 571h3M385 579h3M396 561h3M392 552h3M386 587h3M415 562h3M381 579h3M396 600h3M394 545h3M410 529h3M405 560h3M376 554h3M398 552h3M414 542h3M387 547h3M396 573h3M386 527h3M380 553h3M388 592h3M368 583h3M404 549h3M385 585h3M392 545h3M378 557h3M394 555h3M381 595h3M402 561h3M389 548h3M388 576h3M382 577h3M382 580h3M373 592h3M386 548h3M405 602h3M399 557h3M386 537h3M376 561h3M390 552h3M384 575h3M394 542h3M386 556h3M390 546h3M366 569h3M390 575h3M389 546h3M376 556h3M364 574h3M400 560h3M367 549h3M381 543h3M386 586h3M359 571h3M389 533h3M384 546h3M398 549h3M371 555h3M383 532h3M388 562h3M405 589h3M386 565h3M389 568h3M391 557h3M383 541h3M388 569h3M375 567h3M375 576h3M354 624h3M378 568h3M396 588h3M389 548h3M370 602h3M392 566h3M368 600h3M374 571h3M379 556h3M388 565h3M375 576h3M389 602h3M389 570h3M386 563h3M381 561h3M374 579h3M395 559h3M378 554h3M400 573h3M370 563h3M379 553h3M383 560h3M383 552h3M402 564h3M391 579h3M389 565h3M379 562h3M367 568h3M375 589h3M383 564h3M395 572h3M381 555h3M404 580h3M378 581h3M366 590h3M384 564h3M383 567h3M404 545h3M378 576h3M367 571h3M378 567h3M392 578h3M389 576h3M390 535h3M399 579h3M392 558h3M375 561h3M385 564h3M373 583h3M379 547h3M377 547h3M378 593h3M351 575h3M380 560h3M384 576h3M389 541h3M375 584h3M366 573h3M399 542h3M385 567h3M369 564h3M381 550h3M393 526h3M372 571h3M361 562h3M379 555h3M378 589h3M384 561h3M382 563h3M395 557h3M406 548h3M365 547h3M347 582h3M400 576h3M373 588h3M392 556h3M387 524h3M396 568h3M389 556h3M376 558h3M395 578h3M363 557h3M392 580h3M382 535h3M354 564h3M377 567h3M388 549h3M391 556h3M377 575h3M391 579h3M368 591h3M373 565h3M380 564h3M371 569h3M373 568h3M377 563h3M382 552h3M378 589h3M393 529h3M376 566h3M376 572h3M379 589h3M375 614h3M385 582h3M350 539h3M385 551h3M396 566h3M406 563h3M388 538h3M373 575h3M396 553h3M391 544h3M401 577h3M397 567h3M406 575h3M412 572h3M432 561h3M406 563h3M404 564h3M421 551h3M415 589h3M416 565h3M422 557h3M386 550h3M421 562h3M415 576h3M412 599h3M397 585h3M409 585h3M391 579h3M414 578h3M429 557h3M412 573h3M419 579h3M416 575h3M417 564h3M406 570h3M414 572h3M418 566h3M400 584h3M431 567h3M407 572h3M403 571h3M420 574h3M414 581h3M414 582h3M422 574h3M421 561h3M405 574h3M427 563h3M371 587h3M407 557h3M427 564h3M407 567h3M410 582h3M417 577h3M381 572h3M437 569h3M401 569h3M404 575h3M393 586h3M407 568h3M415 575h3M400 575h3M404 575h3M402 565h3M398 572h3M417 569h3M403 580h3M399 575h3M414 593h3M434 574h3M408 560h3M419 582h3M428 573h3M418 575h3M410 571h3M413 563h3M400 554h3M399 577h3M430 585h3M409 586h3M402 577h3M413 579h3M401 584h3M430 567h3M416 569h3M365 596h3M365 587h3M372 575h3M353 604h3M355 585h3M360 573h3M359 591h3M366 577h3M359 587h3M346 582h3M370 599h3M366 596h3M373 586h3M352 588h3M359 575h3M352 586h3M349 594h3M364 583h3M355 576h3M352 575h3M350 594h3M352 584h3M350 586h3M358 552h3M347 575h3M360 584h3M354 575h3M373 574h3M358 585h3M359 603h3M353 583h3M362 604h3M359 591h3M348 563h3M347 575h3M357 590h3M357 596h3M355 571h3M360 567h3M372 575h3M356 570h3M355 590h3M359 567h3M365 590h3M355 576h3M359 600h3M348 600h3M367 574h3M365 588h3M347 595h3M367 587h3M355 580h3M357 580h3M351 595h3M358 572h3M423 611h3M428 611h3M426 588h3M423 583h3M416 620h3M426 596h3M422 613h3M428 600h3M425 611h3M420 603h3M424 610h3M427 584h3M420 622h3M421 617h3M414 623h3M434 621h3M426 624h3M415 621h3M420 607h3M433 600h3M434 611h3M427 570h3M417 608h3M433 613h3M433 603h3M434 601h3M419 610h3M428 625h3M415 586h3M428 619h3M421 609h3M422 605h3M419 579h3M426 614h3M428 592h3M429 599h3M427 585h3M421 611h3M426 603h3M418 616h3M428 598h3M436 608h3M423 598h3M423 614h3M435 618h3M424 613h3M424 619h3M431 642h3M426 594h3M427 594h3M434 612h3M423 589h3M432 605h3M437 596h3M428 589h3M422 597h3M423 616h3M417 574h3M419 569h3M422 594h3M420 565h3M416 606h3M418 605h3M422 590h3M425 627h3M429 594h3M432 624h3M413 593h3M428 610h3M431 614h3M450 600h3M424 588h3M425 597h3M436 578h3M424 594h3M411 609h3M429 589h3M431 603h3M427 616h3M435 600h3M380 622h3M393 639h3M401 587h3M390 615h3M389 600h3M409 617h3M374 615h3M392 624h3M395 598h3M412 609h3M397 622h3M401 596h3M401 607h3M391 625h3M371 603h3M392 608h3M399 619h3M391 598h3M417 588h3M406 613h3M423 587h3M428 606h3M365 591h3M411 599h3M407 600h3M370 606h3M395 595h3M386 604h3M396 578h3M406 603h3M394 608h3M396 612h3M406 629h3M390 604h3M380 585h3M391 598h3M398 624h3M379 600h3M379 624h3M381 603h3M395 584h3M411 600h3M403 593h3M399 583h3M387 590h3M382 627h3M374 588h3M395 593h3M379 589h3M407 621h3M388 617h3M380 574h3M395 599h3M382 582h3M391 617h3M411 599h3M378 607h3M416 593h3M419 602h3M378 619h3M403 621h3M370 597h3M388 614h3M386 607h3M410 609h3M387 597h3M398 596h3M409 619h3M386 611h3M393 636h3M375 589h3M406 616h3M421 607h3M395 594h3M374 584h3M374 602h3M426 617h3M402 615h3M402 610h3M376 605h3M410 602h3M415 608h3M416 585h3M386 591h3M393 590h3M399 600h3M411 590h3M320 578h3M356 617h3M326 606h3M355 568h3M315 637h3M307 564h3M331 627h3M313 614h3M357 564h3M334 548h3M348 595h3M350 562h3M346 591h3M354 610h3M373 614h3M365 605h3M333 593h3M332 615h3M340 591h3M335 555h3M354 541h3M365 595h3M354 609h3M321 589h3M366 560h3M351 600h3M328 565h3M347 580h3M325 603h3M334 587h3M337 582h3M321 593h3M336 583h3M339 644h3M318 597h3M328 557h3M386 574h3M332 612h3M334 527h3M337 530h3M311 580h3M349 601h3M318 599h3M305 603h3M362 593h3M358 552h3M342 614h3M392 597h3M330 568h3M324 533h3M342 570h3M363 594h3M342 615h3M368 668h3M386 647h3M405 664h3M406 659h3M423 647h3M393 661h3M356 640h3M412 655h3M415 658h3M405 685h3M391 668h3M380 655h3M418 652h3M394 640h3M402 673h3M386 641h3M412 670h3M368 672h3M436 618h3M410 615h3M408 681h3M404 631h3M399 676h3M413 642h3M418 684h3M400 649h3M416 664h3M374 642h3M439 684h3M408 643h3M397 641h3M385 621h3M392 675h3M392 664h3M417 690h3M403 647h3M413 643h3M420 630h3M395 619h3M407 642h3M409 654h3M425 651h3M377 649h3M389 649h3M438 660h3M424 662h3M376 695h3M423 678h3M386 661h3M384 695h3M391 696h3M427 652h3M432 684h3M406 645h3M403 669h3M386 669h3M400 638h3M412 628h3M402 664h3M397 664h3M438 658h3M419 684h3M413 673h3M395 644h3M440 644h3M430 658h3M432 696h3M407 673h3M386 645h3M426 675h3M418 645h3M348 658h3M377 666h3M397 631h3M431 651h3M410 647h3M421 668h3M427 681h3M428 635h3M402 648h3M395 681h3M414 670h3M361 643h3M425 656h3M404 676h3M426 652h3M366 655h3M432 656h3M399 686h3M398 620h3M425 627h3M394 674h3M408 673h3M443 679h3M396 692h3M401 660h3M397 654h3M371 687h3M434 642h3M438 680h3M396 655h3M389 627h3M360 672h3M360 657h3M350 659h3M326 671h3M340 651h3M309 672h3M324 691h3M333 660h3M340 684h3M345 685h3M328 655h3M327 682h3M319 657h3M355 696h3M320 670h3M317 660h3M330 666h3M357 668h3M310 699h3M324 695h3M317 649h3M322 687h3M326 676h3M318 675h3M344 640h3M329 681h3M322 670h3M340 648h3M302 630h3M325 666h3M327 679h3M340 666h3M314 694h3M329 664h3M338 665h3M333 647h3M334 640h3M369 658h3M315 692h3M343 675h3M332 669h3M342 660h3M317 679h3M344 680h3M337 666h3M345 684h3M328 620h3M445 622h3M483 535h3M362 687h3M320 625h3" stroke="#000" stroke-width="3.2" stroke-opacity="0.6" fill="none"/>
<clipPath id="cp2"><rect x="278.5" y="259.40000000000003" width="101.39999999999999" height="90.99999999999997"/></clipPath>
<g clip-path="url(#cp2)">
<ellipse cx="331" cy="345" rx="9.5" ry="5.5" transform="rotate(-10 331 345)" fill="#000" opacity="0.9" filter="url(#bb)"/>
</g>
<path transform="scale(0.5)" d="M687 673h3M666 685h3M661 663h3M656 690h3M690 700h3M661 681h3M661 694h3M619 686h3M633 691h3M650 697h3M660 691h3M654 690h3M651 675h3M654 679h3M663 656h3M695 675h3M677 654h3M662 692h3M662 687h3M670 673h3M673 690h3M660 682h3M699 660h3M661 680h3M673 693h3M656 676h3M692 659h3M683 681h3M676 681h3M658 682h3M664 691h3M676 660h3M642 682h3M669 666h3M636 691h3M667 689h3M654 675h3M620 700h3M658 700h3M648 666h3M662 665h3M664 677h3M680 671h3M670 692h3M672 660h3M668 688h3M686 653h3M662 689h3M679 649h3M643 677h3M659 679h3M663 684h3M668 690h3M663 685h3M643 693h3M709 688h3M666 682h3M678 681h3M665 697h3M677 697h3M645 671h3M670 671h3M656 693h3M674 696h3M677 684h3M674 673h3M665 691h3M673 661h3M654 697h3M659 691h3M658 699h3M663 700h3M648 693h3M653 679h3M656 683h3M639 697h3M682 687h3M686 679h3M661 661h3M656 686h3M658 697h3M660 670h3M682 682h3M645 683h3M658 678h3M654 667h3M686 684h3M656 678h3M663 696h3M683 694h3M685 673h3M677 693h3M637 690h3M667 693h3M663 687h3M665 689h3M686 684h3M667 676h3M670 693h3M659 684h3M652 672h3M638 692h3M663 677h3M681 697h3M649 696h3M688 689h3M658 684h3M657 677h3M668 657h3M650 694h3M687 675h3M673 667h3M640 692h3M647 689h3M677 682h3M676 659h3M640 691h3M692 700h3M674 686h3M654 676h3M652 678h3M690 677h3M661 693h3M657 694h3M653 686h3M657 688h3M654 679h3M657 691h3M663 668h3M681 661h3M654 683h3M671 664h3M641 678h3M653 683h3M646 700h3M680 676h3M680 678h3M659 673h3M696 683h3M670 670h3M659 696h3M648 679h3M648 683h3M636 690h3M679 684h3M659 680h3M648 698h3M674 668h3M686 679h3M685 697h3M655 684h3M661 698h3M638 688h3M668 698h3M669 691h3M665 689h3M654 679h3M652 679h3M657 681h3M658 692h3M647 680h3M656 671h3M657 695h3M681 688h3M673 690h3M663 667h3M673 693h3M656 673h3M644 680h3M658 672h3M668 687h3M668 659h3M665 687h3M678 682h3M648 689h3M678 667h3M653 676h3M673 688h3M654 698h3M665 687h3M674 667h3M664 661h3M656 685h3M673 667h3M682 666h3M661 699h3M664 680h3M672 667h3M668 700h3M667 683h3M667 672h3M689 698h3M646 696h3M677 692h3M663 686h3M666 658h3M676 681h3M659 699h3M663 646h3M680 675h3M673 673h3M671 693h3M671 678h3M662 676h3M646 678h3M652 671h3M675 689h3M691 678h3M643 695h3M683 675h3M661 677h3M633 685h3M658 677h3M676 680h3M675 682h3M672 688h3M681 677h3M673 689h3M661 701h3M690 690h3M662 670h3M649 694h3M641 674h3M680 657h3M664 693h3M670 673h3M661 692h3M654 671h3M677 697h3M633 683h3M661 672h3M676 667h3M642 692h3M635 695h3M662 694h3M665 684h3M626 692h3M649 674h3M664 679h3M670 676h3M641 681h3M663 667h3M675 638h3M672 665h3M667 680h3M664 682h3M672 694h3M677 699h3M654 650h3M668 673h3M666 689h3M683 681h3M650 655h3M670 692h3M662 683h3M673 683h3M686 686h3M654 683h3M680 674h3M650 695h3M654 685h3M669 694h3M649 675h3M676 688h3M633 690h3M651 682h3M645 694h3M681 684h3M640 684h3M668 694h3M691 675h3M693 663h3M654 683h3M625 696h3M661 681h3M679 693h3M662 691h3M653 678h3M654 700h3M663 694h3M656 681h3M643 692h3M712 679h3M683 690h3M661 681h3M651 675h3M655 694h3M643 678h3M648 667h3M657 685h3M632 673h3M651 659h3M705 686h3M657 678h3M646 696h3M673 673h3M653 697h3M670 695h3M683 685h3M678 699h3M690 687h3M672 677h3M624 695h3M670 677h3M685 678h3M644 698h3M673 686h3M661 688h3M658 700h3M670 669h3M674 694h3M649 691h3M695 686h3M665 700h3M679 695h3M647 679h3M675 692h3M690 660h3M661 697h3M641 683h3M656 687h3M681 673h3M642 693h3M674 673h3M632 694h3M662 697h3M627 682h3M669 687h3M645 685h3M653 685h3M635 690h3M683 670h3M656 696h3M671 694h3M663 677h3M640 679h3M657 688h3M679 690h3M668 675h3M668 691h3M641 695h3M694 652h3M671 673h3M654 700h3M648 681h3M662 679h3M679 682h3M652 695h3M683 656h3M633 687h3M642 683h3M699 681h3M661 682h3M676 682h3M702 654h3M671 701h3M687 668h3M665 668h3M664 673h3M657 683h3M673 686h3M667 693h3M682 672h3M666 692h3M627 691h3M656 677h3M647 682h3M672 691h3M644 685h3M657 679h3M647 676h3M677 648h3M656 692h3M651 683h3M661 691h3M662 674h3M674 675h3M651 686h3M666 694h3M668 690h3M659 677h3M675 695h3M652 684h3M696 690h3M694 650h3M649 679h3M665 680h3M713 681h3M675 682h3M652 677h3M670 680h3M662 680h3M659 667h3M633 696h3M645 680h3M657 664h3M626 682h3M646 701h3M629 681h3M673 685h3M666 684h3M651 679h3M655 677h3M660 686h3M650 688h3M663 660h3M666 677h3M650 679h3M665 674h3M680 682h3M656 664h3M636 689h3M659 689h3M659 686h3M659 689h3M659 674h3M665 698h3M694 686h3M669 690h3M689 676h3M674 666h3M690 699h3M689 681h3M671 672h3M678 676h3M650 688h3M706 664h3M645 691h3M682 686h3M663 683h3M685 668h3M682 669h3M697 677h3M655 669h3M682 666h3M656 693h3M671 691h3M686 687h3M689 672h3M664 682h3M659 695h3M656 676h3M642 679h3M666 680h3M664 679h3M655 693h3M639 695h3M699 691h3M678 682h3M656 683h3M673 694h3M676 685h3M620 699h3M687 667h3M654 698h3M677 666h3M687 689h3M674 686h3M650 676h3M649 683h3M679 666h3M647 686h3M643 696h3M636 686h3M665 687h3M666 685h3M647 663h3M661 683h3M695 676h3M664 659h3M679 683h3M696 691h3M649 668h3M626 699h3M666 688h3M677 675h3M655 698h3M699 680h3M675 671h3M640 683h3M640 691h3M679 672h3M651 695h3M667 662h3M642 686h3M639 697h3M649 689h3M656 680h3M641 693h3M680 685h3M692 668h3M636 697h3M687 676h3M655 688h3M662 693h3M673 688h3M642 697h3M659 686h3M660 690h3M634 656h3M650 689h3M672 682h3M683 668h3M684 678h3M691 681h3M683 684h3M649 693h3M682 683h3M675 674h3M683 690h3M660 691h3M653 678h3M677 671h3M649 662h3M662 681h3M667 665h3M674 676h3M656 690h3M634 687h3M699 682h3M670 684h3M669 684h3M653 646h3M670 682h3M683 683h3M708 671h3M682 694h3M663 696h3M661 700h3M639 666h3M661 677h3M658 653h3M674 689h3M675 678h3M676 668h3M647 697h3M651 676h3M639 678h3M679 673h3M671 663h3M691 685h3M631 687h3M666 687h3M665 675h3M683 670h3M672 685h3M657 696h3M660 685h3M669 685h3M683 664h3M670 684h3M651 678h3M648 686h3M651 679h3M660 686h3M655 680h3M645 695h3M647 673h3M626 695h3M643 676h3M644 679h3M672 650h3M660 680h3M630 695h3M638 693h3M680 685h3M676 669h3M696 692h3M646 676h3M680 686h3M682 671h3M694 684h3M675 696h3M661 687h3M651 675h3M661 692h3M643 689h3M666 698h3M643 690h3M645 701h3M654 651h3M674 692h3M669 700h3M710 694h3M681 665h3M633 682h3M670 672h3M661 700h3M664 683h3M675 688h3M660 686h3M659 671h3M657 695h3M662 673h3M673 672h3M648 685h3M663 672h3M675 689h3M668 687h3M660 687h3M695 684h3M653 655h3M677 686h3M658 697h3M665 689h3M684 677h3M638 683h3M644 695h3M674 685h3M712 667h3M656 679h3M670 694h3M658 673h3M650 668h3M684 668h3M661 687h3M685 698h3M644 688h3M651 678h3M664 689h3M681 697h3M663 693h3M638 688h3M665 674h3M652 693h3M647 668h3M683 686h3M679 679h3M680 669h3M667 687h3M662 696h3M686 687h3M654 690h3M681 678h3M652 683h3M690 694h3M641 680h3M664 672h3M678 667h3M657 685h3M657 689h3M643 678h3M665 694h3M655 700h3M665 676h3M687 694h3M700 690h3M666 698h3M644 687h3M673 684h3M652 676h3M661 686h3M678 667h3M655 678h3M650 653h3M646 696h3M691 683h3M688 660h3M640 698h3M669 673h3M660 682h3M669 700h3M655 650h3M660 688h3M670 682h3M695 675h3M669 691h3M646 685h3M681 681h3M656 700h3M647 694h3M671 694h3M659 695h3M673 683h3M677 664h3M672 691h3M684 678h3M682 700h3M655 693h3M656 690h3M635 688h3M640 681h3M673 676h3M686 678h3M645 677h3M685 682h3M688 680h3M690 673h3M623 695h3M670 671h3M651 690h3M656 680h3M669 666h3M671 661h3M663 684h3M658 674h3M649 694h3M678 696h3M678 681h3M673 669h3M668 682h3M659 680h3M669 677h3M663 660h3M637 686h3M657 661h3M650 666h3M647 671h3M675 689h3M696 668h3M631 672h3M655 689h3M679 660h3M635 687h3M706 667h3M655 697h3M683 685h3M669 694h3M669 673h3M666 688h3M661 688h3M658 679h3M661 697h3M687 683h3M654 677h3M647 682h3M654 685h3M644 671h3M661 667h3M675 689h3M642 690h3M659 663h3M658 695h3M675 662h3M649 691h3M690 676h3M644 678h3M656 688h3M667 686h3M692 688h3M655 700h3M654 696h3M651 670h3M669 699h3M658 686h3M662 680h3M664 681h3M653 695h3M639 695h3M653 700h3M648 682h3M688 698h3M664 676h3M642 690h3M653 694h3M668 674h3M653 700h3M642 695h3M696 662h3M660 671h3M677 677h3M656 686h3M670 698h3M653 687h3M649 667h3M689 684h3M682 670h3M675 690h3M670 690h3M668 696h3M683 680h3M651 681h3M674 683h3M653 676h3M680 697h3M665 687h3M662 691h3M661 691h3M652 683h3M660 685h3M660 677h3M660 694h3M672 689h3M653 693h3M653 695h3M683 698h3M671 677h3M664 691h3M672 667h3M665 679h3M693 667h3M670 684h3M638 696h3M658 685h3M649 678h3M672 669h3M642 691h3M644 697h3M668 672h3M663 681h3M655 692h3M648 684h3M659 676h3M649 652h3M631 689h3M687 674h3M680 696h3M668 660h3M660 670h3M661 696h3M651 692h3M679 686h3M669 681h3M679 669h3M660 693h3M693 680h3M617 679h3M662 665h3M671 674h3M655 680h3M669 685h3M657 662h3M680 686h3M678 668h3M640 698h3M649 700h3M667 672h3M669 680h3M683 689h3M671 680h3M659 674h3M682 677h3M698 687h3M681 680h3M667 681h3M678 676h3M670 685h3M655 680h3M685 674h3M643 686h3M624 699h3M670 689h3M657 674h3M695 686h3M659 673h3M659 692h3M661 673h3M658 665h3M669 680h3M659 699h3M666 667h3M676 690h3M694 674h3M661 687h3M681 663h3M630 695h3M666 677h3M686 685h3M650 682h3M669 664h3M675 667h3M673 671h3M683 689h3M650 687h3M680 686h3M672 665h3M676 671h3M650 695h3M669 694h3M635 676h3M678 665h3M640 665h3M638 683h3M682 666h3M661 690h3M657 672h3M666 678h3M696 688h3M654 694h3M656 688h3M674 683h3M663 700h3M637 691h3M664 652h3M641 683h3M695 676h3M690 684h3M654 681h3M660 672h3M641 693h3M642 692h3M651 676h3M635 696h3M638 691h3M661 667h3M693 688h3M667 675h3M687 678h3M645 698h3M691 685h3M660 691h3M689 662h3M667 677h3M662 691h3M648 697h3M671 696h3M661 672h3M657 678h3M678 654h3M678 677h3M651 679h3M659 688h3M658 688h3M666 691h3M678 693h3M668 681h3M642 685h3M622 679h3M680 664h3M672 677h3M629 691h3M668 674h3M660 660h3M674 676h3M661 698h3M675 656h3M654 692h3M634 685h3M671 670h3M612 659h3M680 670h3M665 695h3M669 668h3M626 665h3M681 695h3M667 662h3M645 663h3M650 669h3M656 689h3M620 659h3M641 660h3M680 684h3M666 658h3M643 643h3M657 656h3M656 697h3M656 649h3M621 658h3M622 689h3M664 677h3M676 681h3M680 675h3M613 662h3M662 655h3M605 681h3M639 672h3M658 656h3M664 684h3M639 685h3M664 671h3M616 676h3M610 644h3M627 672h3M648 681h3M652 648h3M669 650h3M636 683h3M661 676h3M654 684h3M658 688h3M662 684h3M684 636h3M605 655h3M624 680h3M647 668h3M656 654h3M652 678h3M691 670h3M667 686h3M614 685h3M662 669h3M624 653h3M621 701h3M637 663h3M651 665h3M632 699h3M639 654h3M632 698h3M633 690h3M698 626h3M669 669h3M653 687h3M632 659h3M648 660h3M649 663h3M652 666h3M622 634h3M685 661h3M645 631h3M669 697h3M631 677h3M618 662h3M666 640h3M651 665h3M661 628h3M641 643h3M676 668h3M620 699h3M645 627h3M643 670h3M644 682h3M665 664h3M668 667h3M640 676h3M653 641h3M647 683h3M648 682h3M663 689h3M617 665h3M626 668h3M601 682h3M638 687h3M678 672h3M648 651h3M632 676h3M658 690h3M665 669h3M635 671h3M678 674h3M643 633h3M627 684h3M688 681h3M653 684h3M665 672h3M614 660h3M648 653h3M636 647h3M636 696h3M655 673h3M645 676h3M625 668h3M649 683h3M696 688h3M679 654h3M672 661h3M659 671h3M643 671h3M632 684h3M699 683h3M612 654h3M641 651h3M636 667h3M653 663h3M686 654h3M655 685h3M641 656h3M651 666h3M630 654h3M638 677h3M681 648h3M650 666h3M630 692h3M678 671h3M661 671h3M629 679h3M682 663h3M654 669h3M680 661h3M627 664h3M649 696h3M638 676h3M620 694h3M610 688h3M647 692h3M629 695h3M661 683h3M655 691h3M621 680h3M645 681h3M623 661h3M645 668h3M651 668h3M650 690h3M658 629h3M647 683h3M632 699h3M640 676h3M599 686h3M594 669h3M662 657h3M685 663h3M651 679h3M620 671h3M654 692h3M618 649h3M631 662h3M642 693h3M639 675h3M642 636h3M648 646h3M614 645h3M636 658h3M636 686h3M608 679h3M634 687h3M633 651h3M662 643h3M644 660h3M620 700h3M639 665h3M637 664h3M634 662h3M641 676h3M634 678h3M653 674h3M665 679h3M645 669h3M665 656h3M658 682h3M652 674h3M634 688h3M658 678h3M659 664h3M630 663h3M675 654h3M626 674h3M647 663h3M653 647h3M695 671h3M628 664h3M636 678h3M657 693h3M652 666h3M663 668h3M612 657h3M624 661h3M632 679h3M635 679h3M657 663h3M663 674h3M664 669h3M675 684h3M631 663h3M619 691h3M603 694h3M662 670h3M660 692h3M620 679h3M631 663h3M651 685h3M632 689h3M645 682h3M702 680h3M661 638h3M626 692h3M627 669h3M671 684h3M664 690h3M644 670h3M626 657h3M682 680h3M628 679h3M644 661h3M641 679h3M633 687h3M700 677h3M639 669h3M682 683h3M670 665h3M670 677h3M611 697h3M611 680h3M608 697h3M596 690h3M583 674h3M596 690h3M602 680h3M614 685h3M606 690h3M592 680h3M588 686h3M606 685h3M617 675h3M604 676h3M617 669h3M611 676h3M590 681h3M609 692h3M628 671h3M599 681h3M601 684h3M606 678h3M607 691h3M587 698h3M621 695h3M593 671h3M613 697h3M597 695h3M588 691h3M589 685h3M608 694h3M622 697h3M617 683h3M614 689h3M636 685h3M601 688h3M597 688h3M626 695h3M618 681h3M595 685h3M598 692h3M613 676h3M630 692h3M592 682h3M585 678h3M604 697h3M631 685h3M606 677h3M622 687h3M602 686h3M617 687h3M601 692h3M600 693h3M614 688h3M612 675h3M601 685h3M584 697h3M624 676h3M583 555h3M597 562h3M603 577h3M577 604h3M583 579h3M606 582h3M576 572h3M579 584h3M586 606h3M580 539h3M605 567h3M584 542h3M596 579h3M579 582h3M566 584h3M587 560h3M578 580h3M577 584h3M578 556h3M580 541h3M582 562h3M577 543h3M591 548h3M581 566h3M569 562h3M591 592h3M606 583h3M574 578h3M579 528h3M576 589h3M574 580h3M585 599h3M586 587h3M599 591h3M591 568h3M578 570h3M599 531h3M578 578h3M583 585h3M586 593h3M593 560h3M590 548h3M646 585h3M676 621h3M645 571h3M672 632h3M654 591h3M650 598h3M669 620h3M660 587h3M683 587h3M654 590h3M668 609h3M692 612h3M663 619h3M674 622h3M677 558h3M664 571h3M627 607h3M672 606h3M651 632h3M663 571h3M683 580h3M704 608h3M702 565h3M705 629h3M670 544h3M638 622h3M648 595h3M691 573h3M643 604h3M664 599h3M673 613h3M650 560h3M700 587h3M685 610h3M660 613h3M674 597h3M662 572h3M649 631h3M677 595h3M655 610h3M669 600h3M702 592h3M707 578h3M657 594h3M700 621h3M661 627h3M669 632h3M610 626h3M674 607h3M668 624h3M621 560h3M746 684h3M566 671h3M747 575h3" stroke="#000" stroke-width="3.2" stroke-opacity="0.6" fill="none"/>
<path transform="scale(0.5)" d="M646 663h3M636 670h3M687 681h3M640 673h3M682 675h3M653 686h3M655 676h3M677 672h3M668 666h3M660 693h3M662 692h3M660 693h3M662 682h3M673 682h3M687 653h3M664 677h3M667 696h3M683 680h3M660 682h3M655 679h3M684 696h3M649 681h3M680 675h3M661 686h3M656 694h3M640 685h3M656 699h3M668 665h3M673 680h3M699 678h3M639 700h3M681 680h3M651 696h3M678 688h3M645 699h3M699 669h3M659 685h3M645 681h3M655 690h3M685 670h3M665 686h3M650 698h3M626 684h3M670 657h3M670 697h3M666 683h3M646 675h3M630 689h3M664 695h3M675 677h3M645 695h3M700 686h3M655 697h3M681 680h3M652 684h3M674 686h3M683 672h3M666 690h3M640 697h3M633 694h3M673 691h3M654 667h3M680 693h3M671 688h3M666 683h3M683 689h3M654 697h3M633 688h3M667 675h3M637 673h3M636 681h3M651 699h3M652 678h3M694 687h3M681 681h3M630 697h3M661 681h3M673 683h3M683 664h3M655 692h3M656 687h3M707 661h3M668 697h3M681 662h3M635 696h3M670 700h3M699 701h3M668 684h3M643 697h3M671 681h3M688 694h3M670 686h3M666 651h3M668 687h3M696 690h3M663 676h3M673 693h3M647 701h3M669 684h3M649 695h3M656 678h3M643 699h3M657 692h3M677 662h3M655 686h3M689 679h3M641 689h3M655 673h3M669 673h3M691 646h3M683 677h3M655 693h3M660 692h3M650 677h3M650 688h3M636 684h3M655 676h3M693 681h3M686 676h3M670 679h3M661 665h3M664 681h3M691 656h3M647 684h3M633 691h3M691 682h3M659 683h3M689 678h3M639 700h3M669 677h3M655 694h3M650 684h3M667 685h3M644 670h3M647 688h3M666 662h3M666 685h3M689 658h3M640 672h3M648 698h3M634 668h3M641 687h3M643 684h3M667 686h3M679 654h3M660 697h3M651 697h3M668 668h3M665 676h3M648 688h3M665 697h3M696 672h3M667 674h3M640 695h3M693 671h3M692 695h3M667 682h3M652 696h3M650 695h3M685 664h3M696 678h3M672 687h3M647 684h3M641 669h3M660 685h3M678 692h3M646 691h3M645 683h3M650 696h3M662 700h3M669 674h3M651 679h3M669 675h3M648 696h3M670 684h3M658 686h3M669 682h3M673 644h3M664 683h3M639 677h3M667 682h3M654 695h3M652 669h3M665 686h3M668 682h3M650 675h3M658 696h3M634 693h3M655 695h3M665 678h3M639 677h3M642 690h3M648 678h3M633 698h3M674 682h3M668 668h3M645 683h3M655 694h3M699 680h3M647 697h3M648 696h3M656 699h3M643 697h3M676 690h3M655 663h3M665 689h3M676 685h3M641 683h3M686 679h3M650 676h3M677 666h3M665 681h3M633 691h3M627 699h3M669 670h3M649 675h3M662 676h3M669 692h3M644 692h3M673 689h3M652 697h3M684 675h3M638 675h3M709 671h3M640 701h3M622 673h3M653 684h3M651 670h3M706 688h3M651 671h3M653 688h3M678 676h3M684 693h3M671 699h3M666 660h3M669 684h3M682 688h3M708 680h3M661 686h3M650 679h3M684 677h3M664 687h3M666 659h3M686 656h3M657 663h3M636 692h3M685 696h3M657 681h3M663 699h3M654 697h3M670 657h3M645 688h3M651 697h3M659 660h3M670 691h3M666 698h3M654 697h3M658 675h3M651 677h3M678 681h3M665 681h3M674 684h3M655 674h3M649 673h3M652 674h3M684 684h3M695 665h3M653 685h3M663 678h3M677 694h3M660 682h3M646 695h3M677 649h3M638 700h3M676 680h3M671 672h3M683 690h3M634 692h3M669 697h3M670 678h3M676 688h3M666 671h3M658 691h3M676 682h3M670 683h3M653 700h3M631 687h3M662 678h3M617 684h3M649 670h3M649 690h3M644 674h3M677 672h3M683 689h3M649 679h3M653 698h3M654 679h3M662 687h3M673 699h3M632 665h3M654 675h3M669 698h3M674 688h3M669 690h3M657 682h3M659 679h3M643 695h3M647 681h3M694 661h3M632 693h3M658 685h3M677 673h3M664 692h3M658 680h3M655 680h3M686 696h3M620 699h3M669 699h3M707 674h3M665 691h3M665 693h3M633 683h3M652 699h3M659 670h3M650 674h3M671 692h3M650 681h3M665 700h3M664 698h3M677 676h3M643 687h3M672 683h3M674 677h3M657 685h3M621 696h3M656 681h3M686 670h3M670 680h3M673 662h3M683 664h3M665 698h3M677 679h3M659 684h3M686 683h3M681 691h3M675 698h3M655 700h3M682 671h3M645 671h3M652 667h3M679 680h3M684 680h3M656 652h3M680 680h3M639 684h3M675 676h3M661 691h3M651 681h3M676 688h3M665 685h3M651 683h3M638 690h3M649 699h3M661 686h3M661 687h3M664 691h3M655 684h3M670 683h3M629 684h3M692 681h3M668 690h3M668 691h3M679 675h3M659 686h3M682 689h3M659 679h3M650 679h3M664 682h3M673 682h3M653 671h3M648 698h3M672 673h3M678 662h3M666 700h3M662 680h3M663 697h3M674 676h3M685 679h3M672 697h3M664 685h3M677 673h3M655 668h3M659 681h3M654 682h3M668 684h3M654 698h3M680 667h3M655 692h3M696 671h3M678 666h3M662 696h3M636 684h3M677 698h3M660 693h3M686 679h3M664 676h3M661 697h3M655 693h3M635 695h3M655 689h3M685 692h3M669 661h3M667 679h3M677 668h3M696 688h3M651 698h3M659 696h3M654 696h3M660 692h3M673 665h3M674 676h3M624 672h3M665 682h3M686 665h3M676 681h3M668 658h3M654 692h3M662 700h3M678 693h3M632 683h3M664 667h3M653 665h3M658 680h3M659 671h3M658 669h3M671 699h3M653 680h3M673 696h3M680 673h3M671 658h3M676 680h3M681 669h3M679 670h3M677 680h3M654 675h3M643 683h3M692 666h3M649 681h3M638 690h3M692 659h3M679 687h3M643 682h3M652 657h3M673 688h3M670 693h3M691 685h3M703 663h3M644 689h3M673 689h3M659 679h3M694 675h3M657 675h3M604 689h3M668 672h3M658 688h3M671 690h3M670 692h3M650 689h3M630 690h3M674 694h3M692 693h3M654 686h3M668 685h3M640 671h3M669 686h3M648 673h3M674 668h3M681 652h3M669 687h3M645 697h3M662 688h3M689 681h3M685 677h3M635 686h3M658 684h3M682 654h3M652 692h3M642 678h3M653 690h3M667 691h3M676 696h3M666 696h3M670 672h3M650 688h3M674 685h3M675 689h3M660 676h3M674 690h3M677 665h3M689 663h3M682 689h3M675 697h3M664 662h3M662 673h3M672 671h3M694 683h3M659 683h3M647 693h3M620 689h3M648 688h3M674 667h3M690 685h3M659 677h3M649 696h3M651 680h3M657 698h3M662 693h3M681 691h3M650 671h3M667 700h3M660 681h3M678 667h3M677 687h3M675 687h3M659 688h3M647 697h3M656 667h3M674 660h3M659 679h3M679 697h3M636 695h3M639 689h3M681 691h3M682 671h3M673 677h3M666 688h3M655 677h3M684 681h3M656 699h3M660 687h3M658 699h3M663 658h3M642 683h3M671 684h3M684 697h3M660 699h3M683 686h3M663 690h3M667 696h3M673 663h3M642 698h3M690 690h3M688 663h3M649 683h3M634 692h3M682 668h3M684 654h3M662 687h3M646 675h3M660 680h3M689 695h3M669 675h3M669 667h3M697 695h3M659 684h3M634 692h3M692 647h3M697 688h3M685 674h3M638 679h3M662 682h3M696 675h3M707 670h3M668 673h3M667 695h3M681 684h3M674 662h3M635 683h3M681 687h3M689 696h3M666 694h3M671 693h3M662 679h3M645 682h3M661 681h3M655 669h3M651 684h3M670 680h3M658 672h3M660 690h3M641 674h3M670 695h3M670 671h3M684 653h3M657 674h3M655 683h3M691 679h3M671 675h3M663 683h3M662 690h3M665 670h3M655 687h3M705 675h3M672 690h3M652 697h3M663 674h3M668 676h3M636 681h3M649 699h3M672 678h3M634 699h3M676 700h3M654 659h3M673 674h3M689 678h3M667 675h3M664 684h3M650 695h3M668 658h3M662 690h3M685 701h3M670 676h3M669 691h3M660 695h3M641 686h3M659 669h3M672 677h3M683 661h3M635 691h3M671 690h3M686 674h3M682 684h3M649 689h3M660 692h3M677 663h3M683 670h3M675 680h3M646 686h3M683 681h3M660 676h3M670 670h3M669 682h3M663 690h3M641 673h3M668 673h3M630 695h3M655 698h3M661 669h3M645 698h3M665 677h3M657 673h3M650 664h3M651 697h3M669 691h3M678 655h3M665 698h3M670 695h3M691 688h3M647 671h3M656 666h3M671 672h3M651 691h3M666 686h3M676 668h3M657 691h3M622 694h3M669 686h3M662 690h3M679 672h3M659 684h3M674 687h3M665 683h3M665 682h3M693 682h3M673 672h3M652 655h3M663 700h3M647 698h3M637 690h3M664 664h3M678 695h3M652 695h3M669 671h3M634 692h3M674 660h3M671 673h3M669 691h3M639 693h3M673 670h3M677 668h3M635 688h3M653 681h3M636 698h3M661 679h3M659 699h3M678 662h3M662 661h3M685 681h3M641 674h3M682 692h3M669 679h3M682 678h3M650 699h3M659 694h3M663 696h3M671 681h3M666 695h3M682 688h3M654 697h3M673 674h3M648 679h3M648 678h3M646 678h3M632 686h3M616 698h3M694 685h3M657 670h3M659 676h3M678 680h3M656 676h3M688 689h3M670 688h3M648 673h3M656 673h3M681 678h3M685 680h3M663 694h3M693 672h3M669 691h3M689 672h3M649 682h3M657 679h3M677 688h3M658 668h3M640 670h3M687 666h3M668 683h3M694 679h3M649 683h3M650 690h3M658 681h3M665 673h3M655 679h3M681 690h3M659 680h3M670 697h3M658 682h3M656 675h3M653 692h3M691 690h3M685 689h3M695 687h3M668 681h3M685 683h3M690 655h3M689 674h3M670 673h3M686 671h3M662 692h3M654 676h3M649 662h3M675 672h3M676 680h3M647 676h3M660 684h3M678 690h3M654 692h3M684 685h3M645 686h3M688 694h3M630 681h3M656 684h3M679 667h3M659 668h3M673 685h3M692 675h3M657 678h3M663 672h3M674 681h3M680 693h3M671 674h3M653 681h3M655 688h3M668 675h3M657 688h3M646 700h3M642 678h3M668 672h3M691 685h3M667 688h3M660 689h3M679 680h3M675 681h3M639 694h3M664 678h3M654 659h3M679 688h3M664 670h3M652 682h3M676 669h3M658 684h3M666 692h3M684 693h3M670 690h3M676 664h3M672 683h3M653 693h3M676 684h3M649 697h3M690 680h3M624 684h3M652 675h3M645 695h3M678 683h3M667 679h3M664 689h3M652 678h3M675 676h3M649 665h3M656 680h3M672 675h3M644 686h3M658 682h3M693 687h3M639 687h3M633 682h3M664 680h3M675 673h3M639 686h3M651 700h3M646 699h3M677 679h3M670 687h3M680 666h3M639 672h3M662 700h3M674 679h3M661 677h3M672 689h3M673 686h3M676 675h3M638 695h3M665 677h3M646 690h3M674 697h3M632 695h3M697 677h3M674 682h3M664 663h3M678 696h3M666 690h3M660 681h3M662 687h3M677 672h3M681 669h3M676 670h3M679 669h3M642 697h3M655 689h3M641 697h3M672 684h3M650 686h3M650 681h3M663 701h3M649 676h3M664 675h3M648 678h3M687 686h3M656 688h3M651 693h3M709 673h3M657 682h3M674 690h3M668 682h3M682 687h3M649 686h3M657 698h3M668 678h3M682 682h3M688 669h3M660 682h3M671 687h3M657 691h3M650 666h3M690 679h3M652 694h3M656 686h3M658 692h3M671 692h3M654 691h3M660 678h3M679 694h3M658 666h3M647 677h3M648 678h3M691 680h3M654 683h3M686 684h3M659 689h3M647 681h3M691 663h3M645 693h3M656 687h3M657 687h3M676 669h3M670 684h3M672 692h3M659 671h3M679 661h3M630 688h3M639 684h3M680 673h3M654 692h3M662 678h3M675 687h3M689 680h3M658 678h3M661 677h3M676 689h3M664 688h3M644 691h3M671 668h3M691 675h3M683 689h3M673 675h3M642 699h3M660 687h3M700 685h3M650 688h3M661 673h3M649 686h3M661 677h3M660 693h3M684 682h3M662 653h3M670 683h3M649 680h3M658 691h3M691 674h3M637 686h3M662 654h3M640 675h3M642 647h3M649 667h3M616 670h3M646 688h3M671 650h3M654 648h3M664 659h3M637 689h3M650 676h3M660 639h3M631 698h3M671 687h3M652 693h3M664 672h3M700 678h3M678 667h3M630 677h3M572 666h3M660 671h3M647 657h3M685 674h3M612 664h3M677 664h3M670 658h3M654 670h3M624 670h3M591 665h3M680 651h3M599 671h3M603 660h3M652 657h3M672 676h3M702 684h3M659 676h3M670 671h3M661 639h3M627 657h3M656 650h3M656 662h3M664 688h3M629 692h3M627 678h3M655 667h3M659 660h3M670 690h3M638 658h3M643 673h3M680 688h3M645 647h3M653 689h3M623 662h3M621 671h3M652 659h3M622 676h3M664 689h3M673 688h3M674 663h3M662 645h3M642 672h3M686 668h3M628 646h3M609 659h3M652 674h3M582 660h3M591 668h3M672 700h3M599 700h3M660 684h3M670 664h3M603 691h3M585 664h3M648 665h3M621 644h3M669 666h3M659 640h3M642 671h3M617 659h3M604 676h3M652 662h3M656 660h3M635 649h3M672 663h3M650 654h3M636 692h3M656 688h3M611 661h3M674 656h3M633 679h3M675 683h3M661 659h3M650 690h3M644 694h3M617 684h3M642 682h3M646 667h3M607 676h3M667 675h3M635 667h3M672 698h3M616 658h3M656 672h3M661 633h3M604 680h3M684 663h3M695 662h3M678 673h3M655 668h3M615 677h3M667 659h3M593 666h3M646 689h3M591 653h3M629 668h3M648 690h3M631 646h3M634 669h3M645 698h3M664 686h3M656 663h3M680 666h3M648 654h3M647 661h3M672 651h3M656 676h3M683 671h3M652 648h3M635 666h3M596 682h3M686 668h3M622 670h3M605 652h3M648 684h3M657 681h3M672 690h3M628 677h3M653 686h3M577 695h3M656 670h3M601 676h3M637 671h3M600 632h3M673 645h3M631 691h3M657 690h3M614 690h3M621 646h3M681 665h3M686 701h3M666 657h3M645 674h3M611 628h3M689 662h3M605 651h3M685 686h3M667 674h3M618 646h3M613 673h3M651 671h3M676 680h3M629 700h3M640 654h3M628 642h3M671 647h3M657 653h3M644 644h3M644 673h3M681 697h3M650 663h3M597 654h3M614 651h3M658 682h3M619 618h3M675 663h3M653 645h3M631 686h3M674 656h3M651 693h3M663 661h3M692 674h3M659 648h3M675 622h3M653 690h3M600 667h3M635 697h3M647 688h3M727 690h3M665 655h3M691 681h3M672 638h3M608 661h3M675 667h3M602 694h3M684 669h3M620 666h3M678 696h3M671 673h3M620 698h3M660 683h3M737 675h3M645 675h3M688 682h3M614 695h3M686 685h3M668 690h3M664 696h3M664 657h3M645 693h3M665 669h3M628 700h3M626 693h3M661 653h3M632 657h3M673 620h3M667 656h3M629 650h3M642 663h3M674 661h3M649 694h3M638 662h3M654 695h3M661 679h3M649 678h3M633 679h3M638 670h3M617 687h3M618 689h3M624 679h3M598 681h3M599 697h3M593 691h3M600 686h3M601 684h3M627 695h3M614 676h3M600 688h3M638 688h3M621 674h3M607 699h3M598 688h3M633 696h3M607 689h3M613 684h3M627 682h3M602 690h3M610 685h3M608 662h3M636 687h3M587 677h3M625 683h3M622 690h3M616 693h3M600 684h3M613 676h3M619 696h3M621 694h3M617 691h3M580 692h3M618 683h3M624 689h3M604 686h3M636 685h3M592 694h3M608 687h3M609 685h3M591 693h3M607 689h3M606 680h3M618 666h3M580 686h3M631 690h3M619 681h3M596 690h3M608 694h3M599 696h3M613 690h3M611 685h3M611 682h3M620 681h3M602 674h3M614 684h3M607 682h3M601 541h3M573 527h3M593 596h3M568 578h3M590 578h3M572 575h3M596 571h3M582 567h3M605 573h3M584 601h3M587 549h3M571 573h3M582 554h3M583 558h3M594 587h3M603 543h3M575 566h3M577 571h3M605 576h3M584 587h3M611 531h3M582 536h3M562 590h3M595 550h3M596 534h3M578 585h3M607 586h3M593 590h3M588 552h3M582 565h3M596 594h3M575 563h3M592 579h3M589 601h3M589 595h3M584 532h3M580 564h3M584 579h3M600 582h3M580 568h3M595 563h3M566 577h3M662 597h3M667 602h3M677 597h3M725 609h3M652 609h3M667 626h3M655 596h3M694 566h3M660 584h3M674 593h3M668 624h3M700 612h3M660 574h3M643 603h3M636 604h3M678 560h3M654 570h3M652 617h3M658 597h3M658 575h3M689 601h3M670 601h3M667 577h3M649 580h3M692 569h3M694 637h3M685 592h3M683 623h3M690 559h3M652 612h3M663 555h3M670 595h3M665 652h3M630 612h3M680 611h3M676 588h3M649 575h3M652 620h3M662 579h3M656 621h3M670 596h3M705 619h3M647 634h3M689 576h3M647 582h3M671 590h3M704 572h3M666 594h3M698 631h3M665 588h3M748 661h3M589 548h3M651 604h3M567 569h3" stroke="#000" stroke-width="3.2" stroke-opacity="0.6" fill="none"/>
<path transform="scale(0.5)" d="M677 654h3M648 670h3M655 699h3M656 674h3M653 700h3M702 664h3M644 683h3M654 669h3M676 678h3M656 694h3M660 689h3M665 694h3M673 695h3M652 686h3M678 676h3M682 682h3M647 682h3M671 680h3M683 686h3M698 691h3M665 684h3M640 683h3M685 679h3M689 686h3M679 672h3M652 681h3M658 690h3M681 698h3M652 672h3M656 692h3M698 682h3M672 699h3M644 696h3M666 669h3M662 687h3M657 673h3M679 688h3M641 687h3M653 688h3M698 677h3M667 671h3M675 655h3M651 692h3M661 677h3M639 690h3M651 674h3M684 680h3M668 678h3M680 673h3M683 691h3M662 646h3M713 678h3M655 695h3M654 691h3M654 685h3M645 692h3M636 673h3M670 696h3M629 697h3M673 670h3M653 688h3M678 682h3M672 688h3M661 673h3M663 664h3M664 670h3M638 651h3M659 692h3M668 682h3M651 687h3M645 693h3M670 674h3M704 678h3M661 691h3M661 687h3M663 683h3M653 694h3M678 673h3M662 691h3M663 685h3M653 671h3M682 678h3M672 693h3M670 686h3M668 698h3M645 679h3M645 683h3M657 699h3M633 699h3M665 687h3M692 678h3M614 701h3M652 666h3M671 678h3M686 689h3M657 681h3M672 681h3M681 680h3M673 676h3M663 685h3M662 679h3M590 697h3M700 683h3M686 691h3M668 658h3M691 700h3M667 681h3M662 684h3M679 642h3M659 699h3M657 686h3M660 671h3M664 677h3M665 689h3M666 666h3M669 690h3M672 683h3M640 687h3M649 676h3M666 671h3M662 649h3M626 679h3M664 672h3M667 671h3M655 693h3M660 674h3M660 663h3M690 672h3M645 695h3M664 688h3M661 676h3M647 697h3M666 687h3M631 679h3M661 687h3M672 686h3M671 695h3M660 687h3M669 688h3M654 679h3M660 663h3M630 699h3M690 679h3M654 681h3M656 662h3M664 694h3M669 683h3M681 681h3M671 682h3M660 673h3M631 694h3M666 689h3M665 687h3M658 684h3M660 686h3M673 676h3M647 668h3M665 683h3M687 674h3M667 685h3M662 694h3M695 674h3M687 669h3M667 700h3M655 676h3M667 670h3M646 680h3M674 683h3M657 693h3M692 692h3M664 679h3M640 694h3M667 696h3M675 665h3M661 699h3M663 685h3M669 681h3M656 684h3M674 674h3M685 661h3M651 692h3M665 683h3M665 682h3M649 672h3M635 675h3M683 671h3M708 683h3M678 685h3M649 690h3M671 700h3M656 692h3M682 692h3M658 679h3M658 675h3M667 680h3M674 671h3M692 668h3M643 691h3M680 684h3M664 663h3M667 683h3M642 682h3M636 692h3M666 665h3M642 659h3M687 696h3M652 672h3M661 687h3M658 683h3M686 671h3M659 676h3M646 689h3M667 676h3M652 682h3M698 683h3M697 688h3M663 670h3M666 689h3M673 693h3M627 666h3M678 693h3M660 682h3M661 686h3M665 700h3M668 698h3M653 694h3M657 696h3M689 680h3M679 689h3M647 684h3M649 671h3M685 651h3M651 683h3M641 684h3M663 686h3M657 679h3M646 667h3M644 697h3M692 688h3M671 645h3M701 666h3M691 668h3M661 684h3M672 667h3M685 683h3M663 684h3M684 682h3M671 689h3M669 669h3M652 681h3M669 665h3M665 688h3M657 695h3M679 684h3M668 688h3M666 696h3M674 657h3M654 696h3M664 680h3M651 685h3M673 669h3M645 693h3M664 679h3M682 670h3M649 681h3M663 677h3M651 686h3M653 664h3M662 690h3M629 685h3M638 659h3M652 698h3M659 683h3M629 689h3M668 694h3M691 675h3M667 687h3M653 674h3M653 665h3M664 666h3M667 687h3M664 695h3M675 667h3M685 660h3M672 683h3M649 682h3M662 672h3M680 677h3M668 679h3M721 679h3M722 664h3M674 683h3M689 672h3M647 698h3M650 695h3M633 692h3M641 670h3M676 665h3M651 683h3M660 690h3M695 673h3M667 690h3M632 684h3M663 695h3M664 686h3M667 675h3M651 680h3M645 689h3M678 700h3M706 682h3M655 688h3M667 689h3M658 661h3M659 684h3M661 688h3M650 689h3M664 696h3M672 694h3M660 664h3M655 676h3M655 694h3M647 701h3M650 692h3M643 677h3M664 679h3M660 694h3M636 668h3M669 682h3M669 694h3M643 682h3M644 678h3M673 688h3M671 686h3M668 677h3M678 678h3M668 694h3M662 699h3M648 689h3M648 695h3M684 694h3M680 687h3M660 686h3M653 691h3M655 700h3M638 669h3M650 683h3M680 695h3M642 691h3M669 684h3M661 693h3M677 668h3M659 661h3M673 652h3M672 682h3M650 691h3M675 699h3M657 665h3M676 650h3M653 685h3M655 677h3M672 677h3M687 688h3M650 665h3M663 676h3M676 669h3M639 679h3M681 682h3M663 680h3M683 679h3M659 695h3M660 669h3M669 670h3M635 699h3M656 676h3M688 688h3M681 660h3M685 673h3M690 672h3M641 686h3M654 667h3M652 679h3M700 693h3M642 677h3M667 698h3M692 677h3M658 689h3M670 669h3M677 667h3M655 663h3M618 691h3M643 676h3M672 676h3M647 662h3M645 689h3M668 675h3M636 683h3M678 684h3M662 679h3M660 693h3M683 665h3M674 687h3M669 674h3M685 670h3M664 663h3M687 676h3M650 652h3M651 678h3M679 697h3M663 678h3M675 667h3M631 692h3M667 682h3M688 648h3M652 678h3M665 681h3M659 677h3M669 683h3M674 680h3M655 677h3M639 688h3M636 686h3M689 687h3M662 700h3M637 680h3M681 669h3M657 683h3M660 665h3M687 683h3M658 686h3M659 696h3M680 681h3M648 690h3M665 684h3M656 668h3M637 690h3M676 691h3M666 676h3M666 695h3M657 663h3M649 661h3M663 671h3M682 675h3M658 700h3M685 668h3M664 693h3M660 691h3M650 682h3M657 688h3M661 692h3M655 686h3M646 688h3M689 692h3M684 656h3M660 671h3M662 694h3M634 701h3M664 661h3M668 676h3M664 681h3M668 690h3M678 687h3M682 681h3M651 696h3M664 680h3M659 660h3M671 697h3M670 654h3M682 698h3M696 659h3M653 670h3M672 683h3M659 690h3M669 691h3M650 689h3M655 690h3M670 677h3M668 688h3M656 685h3M673 671h3M688 666h3M664 686h3M647 684h3M674 680h3M711 671h3M656 673h3M661 671h3M630 697h3M655 687h3M657 677h3M696 668h3M648 669h3M646 682h3M648 682h3M680 668h3M679 669h3M695 668h3M657 696h3M641 696h3M691 680h3M684 676h3M645 688h3M660 681h3M680 687h3M663 663h3M653 691h3M644 693h3M657 676h3M652 691h3M663 677h3M638 675h3M641 697h3M667 691h3M659 677h3M660 699h3M662 690h3M649 685h3M641 690h3M644 669h3M654 672h3M694 687h3M665 683h3M672 698h3M642 692h3M680 667h3M652 675h3M665 682h3M652 687h3M686 678h3M666 683h3M658 679h3M649 701h3M657 687h3M671 687h3M672 678h3M644 694h3M698 680h3M661 690h3M676 667h3M690 646h3M675 687h3M708 654h3M648 693h3M649 688h3M646 679h3M654 688h3M670 677h3M657 685h3M657 690h3M679 675h3M647 696h3M669 693h3M650 685h3M637 688h3M630 696h3M635 686h3M661 678h3M689 692h3M686 665h3M667 666h3M665 686h3M667 697h3M662 681h3M658 688h3M655 642h3M655 675h3M641 674h3M674 699h3M675 677h3M647 677h3M673 686h3M682 662h3M637 678h3M656 684h3M680 689h3M662 684h3M674 696h3M683 678h3M665 668h3M636 697h3M636 678h3M672 683h3M658 696h3M656 671h3M626 690h3M682 668h3M684 677h3M681 670h3M667 671h3M660 667h3M692 681h3M646 687h3M642 686h3M671 671h3M663 668h3M665 681h3M668 664h3M695 676h3M632 670h3M659 692h3M656 681h3M643 695h3M688 694h3M672 679h3M648 673h3M657 677h3M650 676h3M646 696h3M682 656h3M673 667h3M642 679h3M645 691h3M641 685h3M678 690h3M675 688h3M667 677h3M648 678h3M672 669h3M662 681h3M670 684h3M669 677h3M682 679h3M665 674h3M634 697h3M652 679h3M659 686h3M676 679h3M672 680h3M659 675h3M670 692h3M653 677h3M647 670h3M672 680h3M691 694h3M695 697h3M685 684h3M677 680h3M642 692h3M662 699h3M643 700h3M664 696h3M646 673h3M671 670h3M673 683h3M691 662h3M650 685h3M630 700h3M666 698h3M668 670h3M664 671h3M666 663h3M655 696h3M675 642h3M664 666h3M674 682h3M632 692h3M669 681h3M660 675h3M659 683h3M661 692h3M657 698h3M654 678h3M698 677h3M667 694h3M657 669h3M622 689h3M691 699h3M629 691h3M655 660h3M634 689h3M650 691h3M648 682h3M681 687h3M658 695h3M659 700h3M682 692h3M647 672h3M658 690h3M654 695h3M642 691h3M662 683h3M645 667h3M653 670h3M648 698h3M690 671h3M683 679h3M665 684h3M674 659h3M646 696h3M668 697h3M659 679h3M658 690h3M650 686h3M627 674h3M666 696h3M627 691h3M677 692h3M693 689h3M645 685h3M653 663h3M669 672h3M633 676h3M626 684h3M648 676h3M656 684h3M674 689h3M651 694h3M653 680h3M648 684h3M663 677h3M693 691h3M656 698h3M658 677h3M670 690h3M675 672h3M642 689h3M650 691h3M657 688h3M688 683h3M669 677h3M652 680h3M625 694h3M647 692h3M661 675h3M673 676h3M660 684h3M682 679h3M663 678h3M664 681h3M666 694h3M677 693h3M675 675h3M700 675h3M650 662h3M669 677h3M670 698h3M684 647h3M648 699h3M663 680h3M675 676h3M656 700h3M662 692h3M679 677h3M661 652h3M710 682h3M656 683h3M670 695h3M665 691h3M653 700h3M696 673h3M681 676h3M630 686h3M669 682h3M632 697h3M659 682h3M655 689h3M685 672h3M643 689h3M619 657h3M644 630h3M650 694h3M663 690h3M682 686h3M680 656h3M670 688h3M625 691h3M664 675h3M658 698h3M677 677h3M661 670h3M665 667h3M656 676h3M641 697h3M660 686h3M685 664h3M672 679h3M642 677h3M672 667h3M695 693h3M672 694h3M629 691h3M659 700h3M689 683h3M657 681h3M640 661h3M689 696h3M664 673h3M646 692h3M656 694h3M669 679h3M654 692h3M658 686h3M660 688h3M685 684h3M643 676h3M669 674h3M668 694h3M698 642h3M685 677h3M675 682h3M676 698h3M675 677h3M658 665h3M645 690h3M655 691h3M674 700h3M647 671h3M655 667h3M699 691h3M676 660h3M666 683h3M625 676h3M653 695h3M660 696h3M665 684h3M643 687h3M685 689h3M669 694h3M669 689h3M648 672h3M656 689h3M666 667h3M687 658h3M679 678h3M659 690h3M673 680h3M662 694h3M651 668h3M666 681h3M659 664h3M690 689h3M637 699h3M648 678h3M668 675h3M678 664h3M661 685h3M645 668h3M676 693h3M668 685h3M665 673h3M661 683h3M674 685h3M663 693h3M696 666h3M673 670h3M658 692h3M677 690h3M662 681h3M673 696h3M680 691h3M659 678h3M685 668h3M657 695h3M648 696h3M663 687h3M653 695h3M666 658h3M665 699h3M658 681h3M699 674h3M687 674h3M671 668h3M647 683h3M672 670h3M655 672h3M657 671h3M658 678h3M667 684h3M649 673h3M632 677h3M680 675h3M654 674h3M696 674h3M639 696h3M630 677h3M665 667h3M636 686h3M674 666h3M663 695h3M664 688h3M653 690h3M647 681h3M666 681h3M645 689h3M683 682h3M663 700h3M662 669h3M683 674h3M668 668h3M671 677h3M677 698h3M684 671h3M668 695h3M683 662h3M657 680h3M678 687h3M646 690h3M646 685h3M679 686h3M651 675h3M662 675h3M659 676h3M675 684h3M636 697h3M634 675h3M635 678h3M646 669h3M659 696h3M661 681h3M649 697h3M699 671h3M665 686h3M698 670h3M668 681h3M673 691h3M655 691h3M709 690h3M682 686h3M656 682h3M643 685h3M658 686h3M658 661h3M672 686h3M648 694h3M662 699h3M633 675h3M691 679h3M654 698h3M679 684h3M644 693h3M693 679h3M661 689h3M648 698h3M671 690h3M679 686h3M685 669h3M641 688h3M668 684h3M638 687h3M669 687h3M682 682h3M665 675h3M642 664h3M668 672h3M650 682h3M671 668h3M682 635h3M647 681h3M687 668h3M613 653h3M619 665h3M658 682h3M632 669h3M625 665h3M663 671h3M673 690h3M651 667h3M648 638h3M694 698h3M684 666h3M627 647h3M632 684h3M626 673h3M657 675h3M691 660h3M666 682h3M648 690h3M607 667h3M622 693h3M643 653h3M625 673h3M623 685h3M637 686h3M619 694h3M604 687h3M673 653h3M637 670h3M639 664h3M667 663h3M664 697h3M652 641h3M642 678h3M656 654h3M635 691h3M624 654h3M671 653h3M605 674h3M653 698h3M652 688h3M689 699h3M688 693h3M646 691h3M610 674h3M632 680h3M635 672h3M639 672h3M617 697h3M693 635h3M640 671h3M614 676h3M627 679h3M642 667h3M638 656h3M676 665h3M619 684h3M662 691h3M655 678h3M669 681h3M624 660h3M679 675h3M650 664h3M659 651h3M648 658h3M660 689h3M668 680h3M668 625h3M653 683h3M677 678h3M652 656h3M671 666h3M639 678h3M621 660h3M646 691h3M678 642h3M646 672h3M634 645h3M668 662h3M613 684h3M648 688h3M659 692h3M645 688h3M657 677h3M662 667h3M640 691h3M642 676h3M634 669h3M684 691h3M606 685h3M602 642h3M657 670h3M664 687h3M624 672h3M640 701h3M656 679h3M662 641h3M638 646h3M632 648h3M636 656h3M673 684h3M616 646h3M637 664h3M656 676h3M658 648h3M612 685h3M660 691h3M639 662h3M668 671h3M619 661h3M614 651h3M642 655h3M644 670h3M653 653h3M627 664h3M621 674h3M641 665h3M660 624h3M652 655h3M631 684h3M648 691h3M625 660h3M646 687h3M636 662h3M628 688h3M683 691h3M664 694h3M642 682h3M682 655h3M634 681h3M671 665h3M621 683h3M643 661h3M677 645h3M621 666h3M614 696h3M701 680h3M660 660h3M633 676h3M630 643h3M681 672h3M660 622h3M698 659h3M675 636h3M643 661h3M645 637h3M639 695h3M608 646h3M660 695h3M618 672h3M664 694h3M662 640h3M681 682h3M671 656h3M629 679h3M641 675h3M695 645h3M642 650h3M665 647h3M662 668h3M683 693h3M674 688h3M653 662h3M642 660h3M678 636h3M641 685h3M664 656h3M685 669h3M668 687h3M664 698h3M606 641h3M674 665h3M612 674h3M675 689h3M648 670h3M641 659h3M676 692h3M657 693h3M669 674h3M644 667h3M638 656h3M638 667h3M641 669h3M622 680h3M653 677h3M687 674h3M638 678h3M673 698h3M654 662h3M628 658h3M643 653h3M638 689h3M627 650h3M620 674h3M602 664h3M615 687h3M623 650h3M650 654h3M626 668h3M639 672h3M599 685h3M611 673h3M670 662h3M624 631h3M644 688h3M607 664h3M687 658h3M660 679h3M667 664h3M637 681h3M630 692h3M656 668h3M660 673h3M675 676h3M647 677h3M620 669h3M619 683h3M640 653h3M668 659h3M651 662h3M667 668h3M633 678h3M616 663h3M665 664h3M635 673h3M680 692h3M688 659h3M625 647h3M633 665h3M631 655h3M630 687h3M617 669h3M636 668h3M615 633h3M626 634h3M619 693h3M652 651h3M622 640h3M673 666h3M613 689h3M600 670h3M606 681h3M612 689h3M610 694h3M612 701h3M606 681h3M612 682h3M615 671h3M613 697h3M605 681h3M627 698h3M599 692h3M615 696h3M597 689h3M625 683h3M624 686h3M634 700h3M605 684h3M616 687h3M617 690h3M613 670h3M581 685h3M630 697h3M627 697h3M621 686h3M617 697h3M600 686h3M597 673h3M613 686h3M614 684h3M635 696h3M593 697h3M597 691h3M580 672h3M620 679h3M629 694h3M597 662h3M604 677h3M588 696h3M616 691h3M595 685h3M604 675h3M603 693h3M607 693h3M619 696h3M587 691h3M600 688h3M600 678h3M597 677h3M614 700h3M618 689h3M584 695h3M563 578h3M590 557h3M573 542h3M612 580h3M577 580h3M597 564h3M575 568h3M573 555h3M593 595h3M573 573h3M569 557h3M579 573h3M563 567h3M579 577h3M579 557h3M606 573h3M592 558h3M592 571h3M571 571h3M584 570h3M600 575h3M610 562h3M582 534h3M596 578h3M617 575h3M574 580h3M582 578h3M575 606h3M592 546h3M575 571h3M584 576h3M585 597h3M591 564h3M573 576h3M615 552h3M566 591h3M581 563h3M596 526h3M600 536h3M581 562h3M695 569h3M665 635h3M669 609h3M688 616h3M677 607h3M640 591h3M673 579h3M650 591h3M621 629h3M680 596h3M659 605h3M656 609h3M676 546h3M674 595h3M688 599h3M674 582h3M664 594h3M662 583h3M663 609h3M675 597h3M670 600h3M651 584h3M659 587h3M654 610h3M633 608h3M686 582h3M657 591h3M653 619h3M666 605h3M698 611h3M672 604h3M666 616h3M672 618h3M666 610h3M707 618h3M680 661h3M701 604h3M697 595h3M672 602h3M667 566h3M647 548h3M662 558h3M660 577h3M671 599h3M641 626h3M680 582h3M668 646h3M667 594h3M622 647h3M661 621h3M673 652h3M571 551h3M751 595h3M629 583h3M693 646h3" stroke="#000" stroke-width="3.2" stroke-opacity="0.6" fill="none"/>
<path transform="scale(0.5)" d="M666 660h3M662 695h3M666 700h3M647 700h3M676 690h3M687 677h3M675 684h3M704 696h3M652 698h3M634 688h3M678 682h3M661 693h3M645 672h3M642 687h3M662 700h3M675 677h3M645 687h3M664 682h3M686 642h3M677 683h3M662 668h3M681 655h3M689 666h3M662 672h3M663 690h3M674 676h3M663 677h3M692 666h3M674 674h3M674 658h3M651 679h3M661 682h3M678 670h3M677 699h3M683 677h3M651 668h3M648 682h3M670 685h3M667 680h3M667 684h3M662 694h3M678 669h3M679 693h3M664 694h3M653 688h3M664 687h3M694 686h3M654 689h3M658 684h3M680 679h3M665 676h3M644 683h3M678 672h3M673 668h3M672 676h3M678 668h3M675 688h3M679 658h3M658 668h3M666 688h3M667 668h3M669 632h3M671 676h3M684 688h3M684 682h3M682 686h3M679 672h3M653 694h3M706 695h3M657 688h3M651 696h3M642 669h3M653 695h3M652 698h3M652 676h3M665 675h3M650 668h3M664 671h3M660 667h3M662 696h3M649 683h3M660 694h3M671 693h3M655 697h3M658 682h3M686 667h3M659 680h3M688 694h3M646 688h3M631 699h3M637 699h3M665 682h3M664 699h3M668 665h3M640 684h3M663 673h3M664 689h3M661 697h3M670 689h3M679 688h3M658 692h3M692 689h3M692 677h3M690 683h3M680 659h3M635 677h3M670 674h3M693 662h3M681 676h3M664 688h3M665 690h3M660 681h3M674 698h3M653 666h3M642 691h3M682 658h3M667 677h3M672 680h3M652 671h3M671 690h3M667 667h3M664 672h3M657 678h3M680 673h3M679 657h3M664 674h3M653 688h3M679 669h3M666 687h3M644 684h3M671 665h3M670 671h3M637 697h3M674 650h3M660 695h3M634 668h3M665 685h3M637 664h3M618 668h3M664 694h3M644 693h3M646 667h3M691 684h3M689 677h3M663 683h3M626 691h3M664 653h3M638 691h3M661 679h3M660 682h3M662 695h3M654 689h3M668 684h3M659 694h3M682 671h3M652 690h3M661 697h3M679 668h3M656 695h3M668 670h3M672 683h3M637 683h3M664 663h3M672 670h3M656 668h3M628 683h3M671 674h3M626 693h3M652 682h3M668 667h3M687 663h3M655 682h3M650 677h3M611 693h3M685 672h3M635 690h3M643 681h3M662 698h3M667 687h3M671 695h3M651 689h3M647 685h3M678 696h3M661 696h3M678 682h3M689 692h3M668 681h3M691 683h3M643 691h3M659 683h3M674 661h3M662 673h3M639 678h3M673 696h3M640 673h3M651 679h3M667 670h3M681 682h3M663 675h3M647 676h3M672 692h3M648 694h3M638 678h3M659 691h3M639 688h3M625 681h3M681 692h3M659 671h3M664 660h3M674 694h3M661 687h3M675 685h3M679 673h3M667 700h3M643 685h3M676 683h3M701 666h3M656 679h3M676 677h3M661 685h3M661 673h3M674 678h3M691 693h3M648 671h3M689 671h3M704 678h3M666 680h3M677 685h3M687 677h3M673 663h3M653 685h3M659 690h3M666 675h3M659 695h3M673 685h3M655 668h3M657 669h3M642 692h3M693 668h3M710 674h3M642 681h3M677 692h3M678 669h3M663 685h3M703 667h3M678 682h3M681 692h3M652 675h3M671 694h3M658 679h3M627 689h3M672 690h3M667 671h3M658 649h3M657 695h3M683 673h3M675 672h3M682 676h3M618 699h3M667 697h3M638 682h3M656 681h3M683 689h3M639 677h3M690 675h3M665 664h3M637 676h3M681 690h3M686 688h3M678 663h3M676 688h3M658 692h3M629 673h3M650 670h3M680 677h3M662 699h3M666 677h3M673 682h3M651 667h3M698 662h3M666 684h3M659 695h3M660 690h3M638 683h3M686 693h3M664 663h3M668 667h3M645 688h3M685 686h3M682 692h3M650 676h3M642 688h3M703 668h3M652 680h3M682 683h3M640 677h3M669 681h3M642 694h3M650 672h3M664 660h3M652 682h3M664 675h3M682 677h3M679 679h3M654 657h3M696 654h3M683 673h3M658 684h3M648 685h3M635 689h3M686 692h3M666 684h3M682 664h3M657 681h3M682 680h3M648 680h3M704 675h3M640 674h3M666 686h3M647 696h3M663 684h3M670 672h3M646 676h3M658 699h3M672 697h3M677 665h3M668 649h3M648 672h3M662 697h3M694 670h3M618 681h3M671 692h3M660 701h3M680 681h3M673 688h3M650 664h3M667 686h3M678 678h3M675 691h3M675 682h3M685 685h3M684 674h3M670 695h3M647 678h3M695 681h3M655 696h3M680 680h3M633 675h3M695 676h3M660 666h3M665 687h3M644 674h3M636 670h3M671 689h3M670 687h3M673 678h3M650 683h3M680 675h3M642 681h3M658 688h3M663 667h3M623 698h3M635 686h3M677 693h3M657 680h3M696 650h3M678 690h3M672 689h3M636 687h3M697 680h3M649 688h3M686 679h3M680 678h3M638 694h3M678 688h3M676 683h3M678 695h3M664 677h3M673 689h3M651 679h3M658 680h3M676 701h3M680 678h3M664 691h3M664 680h3M631 699h3M646 666h3M695 662h3M690 686h3M664 671h3M686 667h3M664 673h3M646 684h3M658 659h3M668 668h3M671 698h3M695 690h3M646 676h3M660 674h3M657 675h3M675 694h3M677 662h3M656 685h3M671 686h3M667 681h3M675 648h3M650 681h3M684 685h3M673 681h3M654 668h3M694 682h3M640 679h3M669 701h3M660 687h3M678 681h3M657 674h3M651 691h3M661 686h3M668 687h3M674 683h3M680 657h3M716 675h3M678 671h3M667 673h3M679 679h3M667 694h3M658 698h3M663 691h3M674 659h3M660 683h3M677 683h3M642 674h3M685 676h3M679 679h3M668 678h3M679 689h3M710 657h3M664 690h3M692 683h3M655 679h3M656 667h3M679 681h3M656 678h3M676 661h3M655 695h3M648 689h3M675 666h3M664 695h3M665 697h3M646 699h3M651 681h3M656 690h3M664 686h3M640 689h3M638 686h3M665 693h3M663 682h3M639 691h3M681 673h3M655 674h3M664 679h3M679 674h3M659 698h3M702 677h3M658 687h3M684 679h3M634 684h3M663 688h3M661 688h3M653 698h3M648 671h3M680 669h3M679 678h3M661 671h3M663 657h3M654 693h3M648 678h3M641 683h3M634 692h3M650 689h3M680 671h3M617 699h3M650 675h3M635 675h3M662 666h3M653 671h3M654 684h3M653 690h3M654 683h3M672 684h3M676 666h3M670 687h3M668 683h3M663 686h3M672 698h3M652 691h3M670 662h3M657 693h3M644 683h3M685 659h3M647 699h3M657 681h3M679 682h3M675 695h3M697 671h3M668 676h3M639 684h3M654 681h3M621 688h3M659 669h3M653 689h3M686 685h3M641 699h3M646 676h3M647 692h3M673 678h3M651 670h3M682 672h3M671 669h3M695 683h3M665 696h3M675 672h3M651 675h3M660 663h3M683 688h3M660 680h3M655 677h3M672 684h3M708 667h3M686 676h3M679 680h3M660 658h3M641 694h3M641 689h3M700 665h3M668 658h3M650 670h3M684 671h3M669 695h3M658 696h3M639 689h3M646 691h3M629 689h3M653 688h3M641 699h3M632 679h3M667 691h3M689 672h3M649 677h3M682 685h3M688 679h3M678 666h3M669 683h3M656 691h3M673 689h3M665 685h3M643 689h3M645 685h3M654 694h3M667 666h3M639 676h3M676 693h3M647 682h3M671 683h3M693 694h3M653 685h3M659 675h3M676 696h3M676 699h3M666 684h3M645 694h3M679 662h3M680 673h3M664 700h3M652 693h3M652 696h3M643 677h3M658 665h3M634 685h3M671 676h3M635 681h3M656 692h3M655 681h3M668 682h3M655 652h3M650 698h3M680 664h3M671 681h3M671 700h3M661 676h3M693 675h3M678 684h3M666 684h3M669 675h3M662 686h3M677 679h3M645 700h3M680 680h3M668 693h3M653 700h3M673 668h3M647 675h3M676 678h3M677 683h3M662 664h3M623 674h3M648 687h3M678 680h3M652 677h3M675 661h3M650 683h3M697 662h3M658 685h3M675 671h3M668 691h3M658 676h3M642 677h3M668 669h3M622 680h3M667 693h3M672 689h3M680 683h3M643 691h3M663 667h3M658 688h3M640 673h3M672 670h3M659 688h3M631 685h3M666 662h3M662 692h3M687 694h3M628 679h3M677 671h3M658 699h3M672 701h3M662 693h3M671 671h3M664 688h3M662 682h3M653 663h3M676 670h3M670 686h3M668 678h3M633 700h3M677 699h3M654 695h3M674 671h3M666 688h3M686 675h3M658 695h3M662 689h3M675 697h3M663 693h3M662 678h3M676 672h3M651 693h3M670 695h3M688 662h3M636 672h3M654 694h3M641 695h3M652 666h3M666 680h3M641 689h3M654 688h3M660 668h3M658 685h3M648 673h3M658 686h3M677 671h3M647 679h3M691 670h3M693 676h3M668 678h3M661 697h3M669 694h3M664 685h3M642 686h3M684 666h3M659 686h3M675 686h3M648 670h3M638 672h3M654 692h3M663 669h3M638 690h3M682 676h3M662 699h3M652 684h3M680 667h3M679 699h3M634 668h3M651 665h3M660 674h3M651 693h3M672 699h3M683 685h3M693 690h3M659 687h3M655 691h3M654 700h3M679 659h3M657 697h3M652 675h3M671 688h3M623 694h3M661 690h3M669 695h3M647 674h3M640 673h3M648 688h3M669 699h3M653 668h3M663 684h3M657 662h3M650 694h3M642 689h3M655 675h3M674 676h3M641 667h3M685 666h3M657 694h3M666 699h3M642 674h3M681 686h3M671 692h3M678 684h3M648 695h3M656 683h3M661 683h3M674 687h3M680 677h3M656 692h3M640 684h3M661 672h3M666 658h3M647 668h3M659 680h3M685 682h3M669 677h3M674 683h3M642 692h3M658 687h3M657 693h3M639 686h3M671 689h3M662 693h3M668 689h3M665 678h3M632 684h3M673 685h3M692 683h3M644 699h3M648 665h3M623 698h3M660 678h3M646 689h3M621 688h3M648 694h3M662 701h3M670 682h3M671 695h3M656 694h3M669 678h3M679 672h3M651 693h3M621 695h3M679 680h3M676 680h3M632 687h3M649 692h3M680 691h3M661 675h3M689 680h3M639 684h3M690 685h3M645 691h3M667 665h3M681 662h3M673 656h3M645 672h3M657 692h3M659 675h3M650 673h3M675 680h3M645 684h3M664 695h3M657 692h3M663 674h3M634 679h3M686 686h3M693 681h3M663 693h3M657 677h3M673 663h3M661 672h3M676 686h3M654 673h3M671 694h3M648 673h3M665 693h3M679 693h3M649 664h3M656 684h3M659 681h3M649 688h3M666 681h3M675 671h3M636 696h3M674 657h3M660 686h3M702 678h3M660 679h3M666 693h3M646 691h3M667 695h3M623 689h3M636 675h3M639 695h3M641 665h3M648 677h3M684 692h3M657 688h3M648 693h3M655 697h3M687 662h3M685 696h3M647 697h3M673 661h3M652 687h3M670 655h3M663 695h3M661 676h3M646 675h3M657 697h3M652 684h3M664 685h3M671 685h3M663 684h3M646 689h3M653 685h3M640 694h3M662 687h3M665 699h3M650 696h3M677 692h3M686 656h3M685 688h3M682 671h3M660 671h3M657 697h3M641 688h3M683 694h3M652 691h3M702 674h3M669 701h3M667 687h3M668 667h3M654 669h3M680 695h3M670 660h3M674 681h3M694 671h3M668 696h3M693 668h3M633 664h3M653 675h3M649 665h3M651 683h3M655 685h3M676 691h3M653 662h3M643 686h3M676 688h3M665 694h3M669 679h3M684 670h3M683 664h3M614 685h3M656 692h3M680 676h3M663 663h3M669 667h3M676 667h3M650 679h3M689 700h3M666 698h3M653 679h3M635 688h3M676 688h3M649 680h3M641 677h3M666 693h3M662 685h3M657 691h3M642 674h3M681 681h3M660 698h3M660 670h3M667 696h3M678 662h3M690 687h3M677 689h3M645 698h3M658 700h3M662 685h3M679 683h3M659 698h3M636 689h3M657 681h3M634 686h3M671 682h3M670 655h3M684 685h3M673 693h3M620 686h3M673 698h3M681 683h3M656 674h3M662 699h3M665 682h3M667 692h3M664 694h3M675 675h3M662 669h3M686 682h3M668 692h3M654 679h3M675 680h3M672 687h3M646 695h3M687 665h3M673 682h3M640 674h3M673 668h3M663 668h3M667 700h3M655 700h3M666 674h3M681 673h3M662 660h3M685 665h3M662 680h3M662 681h3M677 679h3M674 679h3M660 687h3M697 663h3M621 679h3M643 689h3M667 682h3M670 680h3M677 689h3M705 698h3M701 652h3M643 686h3M629 652h3M662 690h3M638 686h3M608 670h3M659 651h3M643 680h3M659 656h3M662 693h3M653 667h3M656 679h3M636 687h3M637 658h3M648 673h3M615 630h3M645 665h3M657 650h3M619 675h3M662 674h3M637 682h3M655 655h3M634 698h3M675 654h3M675 676h3M619 673h3M650 666h3M663 676h3M603 674h3M629 662h3M643 680h3M638 687h3M679 669h3M623 637h3M638 668h3M634 652h3M606 676h3M641 640h3M673 695h3M660 700h3M714 668h3M680 640h3M645 682h3M614 685h3M622 674h3M674 668h3M603 678h3M654 649h3M649 647h3M635 648h3M630 698h3M664 635h3M611 653h3M689 672h3M619 654h3M658 658h3M626 648h3M652 648h3M638 665h3M628 678h3M622 670h3M661 672h3M700 672h3M647 685h3M663 682h3M632 652h3M617 669h3M653 675h3M653 647h3M622 692h3M644 665h3M650 691h3M649 659h3M625 684h3M660 661h3M648 695h3M666 692h3M634 667h3M655 687h3M670 666h3M674 670h3M643 660h3M635 674h3M653 664h3M654 675h3M626 641h3M650 684h3M672 687h3M657 658h3M659 692h3M645 694h3M631 700h3M691 669h3M625 659h3M671 692h3M670 676h3M711 628h3M686 683h3M616 676h3M631 683h3M632 674h3M657 681h3M635 674h3M668 670h3M628 640h3M664 673h3M671 652h3M640 693h3M585 672h3M621 663h3M630 666h3M644 671h3M668 646h3M629 642h3M687 680h3M680 650h3M679 679h3M663 645h3M677 657h3M617 639h3M614 667h3M623 699h3M704 668h3M626 698h3M608 673h3M639 680h3M687 696h3M636 682h3M615 651h3M642 695h3M645 659h3M645 647h3M667 679h3M695 653h3M656 648h3M641 673h3M658 672h3M656 651h3M617 651h3M645 671h3M620 637h3M607 664h3M637 652h3M628 641h3M660 689h3M671 677h3M648 647h3M639 651h3M640 645h3M618 672h3M640 677h3M640 684h3M653 692h3M630 661h3M625 626h3M642 667h3M640 690h3M648 680h3M689 671h3M658 668h3M709 684h3M651 672h3M645 665h3M595 695h3M604 650h3M649 681h3M605 670h3M646 682h3M599 668h3M669 660h3M675 682h3M673 662h3M630 647h3M657 662h3M658 683h3M619 686h3M607 674h3M642 680h3M674 662h3M674 637h3M613 694h3M600 681h3M640 682h3M666 664h3M647 681h3M653 684h3M631 641h3M640 687h3M614 686h3M624 674h3M646 656h3M661 660h3M673 660h3M605 663h3M652 638h3M630 667h3M621 679h3M650 685h3M654 658h3M642 668h3M601 695h3M671 684h3M642 673h3M626 673h3M637 639h3M645 700h3M705 653h3M668 689h3M681 656h3M641 689h3M596 678h3M656 672h3M651 659h3M638 673h3M640 667h3M690 682h3M687 635h3M656 664h3M635 661h3M678 674h3M665 628h3M637 660h3M645 658h3M651 649h3M618 688h3M611 683h3M605 690h3M624 666h3M665 671h3M666 673h3M632 670h3M697 686h3M637 673h3M671 683h3M633 678h3M658 678h3M644 685h3M608 690h3M600 677h3M613 697h3M605 691h3M623 679h3M614 677h3M602 683h3M609 670h3M608 679h3M587 678h3M599 680h3M620 693h3M612 699h3M611 698h3M614 694h3M594 685h3M603 694h3M597 693h3M627 677h3M623 684h3M627 694h3M600 695h3M619 679h3M584 696h3M606 695h3M590 679h3M624 696h3M590 678h3M623 698h3M617 698h3M619 670h3M612 691h3M603 693h3M595 696h3M613 693h3M606 695h3M606 683h3M602 686h3M610 696h3M608 684h3M600 676h3M609 683h3M623 678h3M614 688h3M604 667h3M608 679h3M607 683h3M578 695h3M609 685h3M616 689h3M614 684h3M594 685h3M595 685h3M621 681h3M630 699h3M601 683h3M613 671h3M598 684h3M569 691h3M580 549h3M580 589h3M559 586h3M590 587h3M590 575h3M583 574h3M607 604h3M610 599h3M600 560h3M606 548h3M580 567h3M605 551h3M571 559h3M581 544h3M572 539h3M586 573h3M586 596h3M603 546h3M595 583h3M616 577h3M590 565h3M576 586h3M588 573h3M601 529h3M586 545h3M592 562h3M578 571h3M600 596h3M605 546h3M596 576h3M615 567h3M615 548h3M599 590h3M575 541h3M577 581h3M580 602h3M575 590h3M567 588h3M579 564h3M668 575h3M664 635h3M670 625h3M675 579h3M712 605h3M648 589h3M662 615h3M648 610h3M682 571h3M697 617h3M663 587h3M659 637h3M687 588h3M692 616h3M713 607h3M709 593h3M679 608h3M679 578h3M645 610h3M703 619h3M623 637h3M658 613h3M655 592h3M677 546h3M701 630h3M644 599h3M677 627h3M649 582h3M691 600h3M683 637h3M647 625h3M674 620h3M638 629h3M689 603h3M702 581h3M650 610h3M625 596h3M650 593h3M675 620h3M653 602h3M710 582h3M664 599h3M667 632h3M684 619h3M684 592h3M702 597h3M642 601h3M696 619h3M646 581h3M699 608h3M605 625h3M734 560h3M560 528h3M705 522h3M616 567h3" stroke="#000" stroke-width="3.2" stroke-opacity="0.6" fill="none"/>
<clipPath id="cp3"><rect x="406.90000000000003" y="259.40000000000003" width="105.09999999999998" height="91.6"/></clipPath>
<g clip-path="url(#cp3)">
<ellipse cx="486" cy="295" rx="5.5" ry="9" transform="rotate(10 486 295)" fill="#000" opacity="0.9" filter="url(#bb)"/>
<ellipse cx="490" cy="264" rx="4.5" ry="5" transform="rotate(0 490 264)" fill="#000" opacity="0.85" filter="url(#bb)"/>
</g>
<path transform="scale(0.5)" d="M988 532h3M989 611h3M970 565h3M988 582h3M970 572h3M979 610h3M980 570h3M996 598h3M983 583h3M982 668h3M976 563h3M981 523h3M971 556h3M980 549h3M971 641h3M979 624h3M985 646h3M983 570h3M984 560h3M977 594h3M974 565h3M979 612h3M985 565h3M979 605h3M975 581h3M992 588h3M991 585h3M977 590h3M986 568h3M985 617h3M988 567h3M976 541h3M981 539h3M969 538h3M987 613h3M980 571h3M969 565h3M985 525h3M977 625h3M987 534h3M983 529h3M977 587h3M980 561h3M985 549h3M979 627h3M985 570h3M977 570h3M989 664h3M977 533h3M987 521h3M978 563h3M978 579h3M967 570h3M974 530h3M986 606h3M983 618h3M975 561h3M990 529h3M983 540h3M980 577h3M982 612h3M989 559h3M989 577h3M985 632h3M974 569h3M1001 556h3M981 597h3M971 611h3M990 600h3M990 531h3M970 567h3M982 589h3M984 562h3M987 528h3M985 599h3M989 569h3M976 543h3M984 604h3M979 643h3M972 588h3M984 605h3M978 548h3M980 604h3M980 610h3M991 552h3M962 587h3M982 567h3M979 548h3M978 551h3M985 575h3M978 572h3M986 526h3M980 541h3M973 585h3M979 632h3M987 652h3M990 560h3M984 613h3M984 569h3M986 555h3M986 583h3M973 624h3M979 642h3M981 540h3M984 565h3M978 534h3M992 590h3M965 629h3M976 637h3M977 569h3M981 578h3M987 534h3M983 611h3M990 589h3M982 574h3M982 595h3M970 580h3M979 645h3M994 551h3M980 597h3M982 603h3M992 550h3M970 609h3M985 595h3M970 590h3M983 588h3M977 593h3M980 592h3M975 588h3M992 632h3M979 600h3M990 646h3M981 545h3M990 585h3M974 589h3M975 547h3M972 631h3M987 544h3M989 617h3M986 666h3M991 645h3M976 583h3M997 629h3M972 572h3M982 559h3M990 606h3M980 613h3M970 640h3M973 595h3M980 616h3M985 614h3M970 519h3M975 644h3M992 666h3M975 583h3M976 539h3M983 559h3M980 643h3M981 648h3M980 587h3M987 641h3M986 547h3M981 615h3M976 643h3M985 557h3M984 578h3M987 520h3M974 596h3M971 544h3M973 533h3M980 558h3M974 570h3M983 569h3M987 571h3M988 519h3M978 609h3M979 581h3M979 612h3M993 619h3M980 538h3M971 570h3M986 629h3M989 534h3M985 579h3M972 525h3M974 593h3M981 614h3M984 605h3M983 584h3M976 570h3M987 572h3M986 579h3M974 586h3M970 570h3M984 552h3M984 529h3M988 583h3M974 661h3M985 579h3M983 631h3M981 676h3M987 575h3M987 586h3M968 531h3M984 613h3M970 589h3M993 524h3M984 673h3M974 605h3M985 548h3M986 564h3M976 572h3M977 648h3M983 629h3M975 559h3M962 600h3M979 553h3M982 563h3M986 576h3M990 633h3M983 578h3M987 528h3M982 583h3M976 659h3M985 644h3M987 604h3M979 654h3M975 556h3M981 638h3M983 581h3M989 608h3M976 636h3M977 544h3M983 520h3M991 570h3M983 536h3M980 579h3M978 593h3M986 523h3M984 547h3M978 530h3M981 598h3M975 617h3M987 537h3M983 598h3M985 588h3M981 561h3M986 551h3M981 536h3M975 586h3M983 549h3M988 582h3M978 628h3M978 572h3M987 612h3M979 581h3M979 575h3M993 606h3M972 612h3M985 590h3M977 637h3M993 616h3M976 541h3M986 536h3M999 640h3M978 628h3M964 567h3M976 605h3M983 546h3M988 568h3M995 621h3M986 585h3M978 527h3M988 537h3M992 579h3M969 558h3M974 547h3M997 607h3M981 583h3M975 623h3M973 531h3M983 629h3M974 541h3M998 569h3M968 550h3M968 642h3M981 694h3M975 563h3M978 587h3M988 598h3M993 533h3M979 548h3M982 567h3M984 648h3M979 572h3M987 577h3M985 618h3M980 523h3M991 573h3M979 599h3M972 600h3M977 608h3M1007 642h3M984 560h3M980 637h3M976 547h3M979 560h3M977 610h3M973 579h3M999 632h3M986 587h3M993 561h3M988 635h3M979 638h3M980 570h3M989 629h3M984 530h3M977 616h3M980 558h3M981 574h3M986 581h3M987 527h3M979 538h3M984 544h3M982 623h3M979 630h3M987 607h3M992 552h3M979 570h3M972 590h3M990 596h3M985 548h3M990 543h3M996 542h3M985 574h3M975 589h3M989 539h3M970 530h3M985 531h3M970 525h3M984 673h3M983 617h3M978 554h3M986 569h3M967 593h3M983 624h3M985 527h3M989 550h3M975 561h3M984 526h3M983 603h3M974 556h3M982 597h3M975 527h3M985 569h3M974 562h3M981 577h3M982 535h3M977 569h3M967 592h3M983 651h3M976 525h3M980 639h3M980 581h3M990 578h3M979 596h3M988 554h3M988 602h3M984 577h3M972 561h3M973 582h3M978 546h3M993 535h3M974 590h3M973 631h3M978 644h3M983 585h3M984 576h3M986 595h3M993 560h3M987 624h3M979 560h3M981 558h3M975 541h3M980 608h3M958 578h3M968 562h3M973 600h3M950 582h3M973 581h3M973 589h3M954 599h3M974 609h3M960 596h3M955 566h3M973 582h3M972 604h3M970 604h3M978 601h3M983 587h3M984 577h3M987 591h3M966 574h3M974 584h3M973 572h3M990 579h3M956 602h3M947 559h3M971 599h3M982 598h3M988 582h3M963 601h3M964 606h3M970 591h3M964 572h3M953 596h3M985 565h3M975 584h3M972 584h3M958 559h3M980 607h3M955 595h3M961 590h3M983 606h3M963 586h3M961 593h3M982 592h3M966 560h3M975 594h3M977 593h3M950 573h3M958 553h3M986 600h3M963 588h3M969 567h3M952 580h3M986 603h3M978 580h3M977 590h3M960 580h3M970 596h3M983 573h3M963 561h3M998 596h3M985 612h3M963 616h3M977 577h3M976 613h3M980 584h3M966 579h3M988 612h3M964 563h3M976 597h3M984 594h3M996 614h3M973 601h3M990 606h3M991 569h3M980 594h3M975 596h3M974 611h3M967 561h3M973 587h3M969 577h3M976 569h3M980 593h3M979 579h3M978 567h3M965 593h3M978 577h3M995 628h3M964 583h3M984 614h3M969 593h3M987 592h3M961 599h3M962 589h3M967 602h3M971 595h3M974 588h3M973 588h3M978 601h3M989 599h3M990 580h3M981 587h3M957 592h3M975 590h3M965 566h3M967 579h3M964 577h3M972 606h3M942 578h3M956 582h3M969 565h3M971 565h3M959 589h3M983 586h3M964 595h3M962 574h3M964 591h3M975 595h3M974 616h3M989 604h3M981 573h3M969 581h3M964 584h3M982 622h3M965 595h3M974 605h3M974 613h3M991 588h3M963 562h3M948 582h3M978 590h3M975 583h3M962 596h3M962 594h3M994 599h3M965 569h3M967 607h3M973 581h3M968 589h3M983 627h3M969 577h3M953 582h3M959 578h3M962 605h3M973 588h3M989 577h3M997 588h3M984 598h3M968 585h3M976 595h3M959 561h3M973 604h3M990 585h3M966 581h3M997 578h3M964 592h3M966 583h3M972 585h3M969 590h3M964 572h3M983 596h3M999 607h3M949 589h3M957 600h3M1004 615h3M971 593h3M997 603h3M953 549h3M977 588h3M976 594h3M951 578h3M980 595h3M969 614h3M981 623h3M963 577h3M989 594h3M987 621h3M978 593h3M976 587h3M967 593h3M971 586h3M966 567h3M984 579h3M947 612h3M978 593h3M968 580h3M970 575h3M959 569h3M980 608h3M972 590h3M973 564h3M981 589h3M976 619h3M953 578h3M948 557h3M976 603h3M982 566h3M957 594h3M980 603h3M980 588h3M982 595h3M967 583h3M953 594h3M965 578h3M955 609h3M984 598h3M965 583h3M957 569h3M967 589h3M958 563h3M956 599h3M965 581h3M967 582h3M992 603h3M987 594h3M971 603h3M977 600h3M965 591h3M967 574h3M964 594h3M973 579h3M998 619h3M973 582h3M981 617h3M979 585h3M984 584h3M983 585h3M987 589h3M977 567h3M981 580h3M981 591h3M990 626h3M970 584h3M969 600h3M981 619h3M945 581h3M979 605h3M973 600h3M964 589h3M985 585h3M962 602h3M979 596h3M961 608h3M969 581h3M963 595h3M978 603h3M968 575h3M973 597h3M961 575h3M985 595h3M948 569h3M970 583h3M964 593h3M979 592h3M949 564h3M986 609h3M968 590h3M981 588h3M990 602h3M955 571h3M981 621h3M971 581h3M987 613h3M985 600h3M978 578h3M967 621h3M979 608h3M976 582h3M957 572h3M970 569h3M983 597h3M998 584h3M952 587h3M964 574h3M979 620h3M989 586h3M967 586h3M957 560h3M977 619h3M990 604h3M976 573h3M970 606h3M975 594h3M955 568h3M971 581h3M970 592h3M970 586h3M981 585h3M963 557h3M956 571h3M980 590h3M965 593h3M984 588h3M982 603h3M980 614h3M960 606h3M967 586h3M957 561h3M972 594h3M971 603h3M978 596h3M960 601h3M952 597h3M982 617h3M957 588h3M976 588h3M962 564h3M967 598h3M978 595h3M964 591h3M993 566h3M981 583h3M987 586h3M960 597h3M966 589h3M963 603h3M986 613h3M940 550h3M997 610h3M996 609h3M979 611h3M980 581h3M982 594h3M960 587h3M949 555h3M970 582h3M976 588h3M983 601h3M974 598h3M974 597h3M961 607h3M971 597h3M961 594h3M945 585h3M978 608h3M971 593h3M962 577h3M989 580h3M978 595h3M965 603h3M956 578h3M956 572h3M961 583h3M953 574h3M948 585h3M977 604h3M953 602h3M969 586h3M971 602h3M945 593h3M973 597h3M976 594h3M972 600h3M971 579h3M978 570h3M961 573h3M983 609h3M964 591h3M973 584h3M974 613h3M936 563h3M954 571h3M979 609h3M947 576h3M984 588h3M971 587h3M970 580h3M979 601h3M994 634h3M961 587h3M992 613h3M976 609h3M983 606h3M968 571h3M975 594h3M971 600h3M946 566h3M973 589h3M956 582h3M969 583h3M969 600h3M978 577h3M975 603h3M970 540h3M949 574h3M961 560h3M956 585h3M990 608h3M987 583h3M973 594h3M975 565h3M989 595h3M975 595h3M963 587h3M998 612h3M983 581h3M970 598h3M980 612h3M968 598h3M960 568h3M967 584h3M952 585h3M979 584h3M988 572h3M970 585h3M1002 606h3M955 587h3M970 585h3M979 601h3M966 592h3M959 596h3M961 579h3M975 598h3M969 591h3M965 577h3M981 622h3M971 583h3M956 570h3M966 582h3M974 593h3M969 561h3M967 602h3M988 577h3M964 581h3M962 583h3M975 601h3M978 577h3M963 585h3M990 590h3M952 596h3M977 597h3M977 593h3M956 570h3M972 576h3M982 594h3M963 579h3M968 605h3M957 593h3M959 586h3M963 572h3M970 575h3M972 580h3M970 606h3M973 587h3M968 599h3M971 579h3M971 574h3M974 598h3M976 585h3M984 577h3M957 599h3M982 600h3M966 567h3M973 582h3M975 606h3M972 597h3M993 598h3M966 600h3M961 601h3M988 596h3M972 613h3M953 573h3M981 594h3M977 612h3M975 579h3M983 599h3M978 598h3M983 588h3M960 562h3M977 593h3M952 578h3M971 582h3M947 593h3M959 592h3M982 619h3M954 606h3M987 602h3M965 560h3M988 585h3M964 594h3M966 570h3M960 596h3M976 590h3M998 625h3M986 606h3M969 576h3M996 609h3M970 575h3M968 576h3M973 567h3M970 590h3M981 598h3M965 599h3M981 580h3M975 595h3M960 587h3M981 600h3M989 625h3M958 563h3M987 609h3M963 592h3M975 530h3M983 528h3M973 542h3M994 523h3M968 541h3M982 521h3M988 532h3M994 533h3M993 531h3M982 522h3M991 539h3M986 520h3M978 520h3M994 527h3M985 529h3M979 531h3M977 528h3M981 532h3M966 523h3M971 519h3M973 528h3M977 528h3M975 544h3M963 528h3M979 540h3M992 534h3M985 521h3M975 536h3M987 528h3M984 529h3M995 537h3M989 528h3M978 531h3M986 532h3M977 522h3M991 521h3M988 530h3M991 525h3M982 519h3M980 545h3M988 525h3M979 526h3M970 527h3M979 527h3M970 531h3M994 520h3M968 527h3M970 529h3M996 533h3M966 537h3M975 534h3M976 529h3M985 530h3M984 523h3M970 537h3M967 521h3M972 524h3M983 520h3M993 540h3M992 519h3M979 532h3M969 530h3M981 536h3M992 526h3M994 527h3M980 524h3M978 538h3M979 524h3M990 528h3M974 523h3M981 533h3M994 521h3M963 523h3M975 520h3M968 531h3M978 528h3M978 529h3M983 527h3M972 532h3M985 526h3M993 530h3M985 522h3M985 529h3M978 522h3M966 535h3M989 529h3M990 530h3M975 526h3M968 533h3M978 535h3M972 528h3M974 523h3M991 520h3M975 536h3M994 520h3M997 521h3M963 533h3M973 522h3M984 537h3M994 521h3M984 530h3M988 522h3M972 535h3M979 527h3M991 523h3M982 533h3M977 531h3M986 527h3M975 527h3M978 528h3M978 524h3M982 528h3M975 520h3M979 528h3M983 540h3M974 532h3M965 523h3M986 523h3M972 522h3M971 537h3M986 528h3M974 533h3M973 529h3M980 524h3M991 526h3M971 535h3M972 538h3M993 527h3M991 534h3M983 528h3M969 525h3M978 524h3M984 529h3M984 519h3M988 520h3M961 533h3M960 519h3M992 533h3M990 665h3M988 631h3M981 643h3M967 652h3M974 663h3M977 652h3M976 656h3M978 647h3M974 639h3M984 655h3M979 639h3M983 672h3M971 646h3M985 664h3M976 651h3M977 645h3M987 660h3M971 645h3M980 650h3M982 681h3M979 648h3M972 646h3M968 644h3M976 645h3M983 654h3M983 648h3M974 632h3M981 660h3M978 634h3M979 643h3M981 633h3M990 660h3M974 649h3M982 641h3M974 654h3M984 625h3M979 674h3M981 653h3M987 651h3M982 653h3M972 658h3M982 675h3M986 666h3M980 650h3M973 629h3M979 658h3M974 654h3M981 645h3M976 632h3M978 657h3M981 642h3M984 662h3M973 682h3M980 634h3M982 659h3M978 650h3M979 661h3M980 646h3M976 655h3M985 651h3M979 648h3M971 657h3M972 612h3M983 646h3M989 661h3M975 637h3M982 652h3M976 650h3M985 633h3M969 664h3M976 643h3M977 636h3M973 646h3M988 647h3M983 648h3M984 668h3M983 649h3M968 651h3M985 641h3M975 625h3M969 646h3M978 650h3M977 653h3M984 664h3M973 621h3M980 646h3M985 629h3M982 637h3M985 651h3M979 687h3M980 661h3M968 644h3M969 667h3M978 655h3M975 652h3M991 653h3M982 644h3M980 669h3M977 650h3M984 636h3M977 632h3M980 630h3M991 656h3M985 656h3M984 675h3M982 659h3M982 638h3M980 633h3M986 670h3M965 623h3M986 663h3M976 669h3M987 654h3M987 651h3M991 647h3M975 636h3M976 668h3M978 629h3M982 659h3M972 649h3M979 658h3M974 637h3M972 629h3M984 659h3M976 641h3M927 593h3M923 652h3M939 627h3M948 580h3M923 633h3M911 552h3M925 603h3M961 583h3M926 570h3M920 605h3M916 563h3M943 621h3M934 613h3M932 599h3M941 637h3M922 621h3M976 625h3M960 619h3M938 556h3M934 554h3M968 624h3M892 610h3M937 612h3M933 570h3M938 605h3M922 560h3M927 588h3M912 603h3M932 644h3M922 622h3M929 598h3M941 614h3M950 601h3M946 630h3M956 553h3M911 595h3M931 581h3M912 607h3M956 565h3M905 633h3M904 590h3M950 561h3M926 569h3M956 596h3M908 625h3M926 672h3M927 651h3M876 667h3M915 666h3M907 663h3M880 664h3M889 656h3M909 664h3M889 661h3M914 657h3M971 563h3M864 701h3" stroke="#000" stroke-width="3.2" stroke-opacity="0.6" fill="none"/>
<path transform="scale(0.5)" d="M984 625h3M1000 647h3M976 576h3M977 522h3M980 551h3M989 663h3M984 536h3M983 573h3M979 628h3M976 572h3M978 634h3M985 527h3M993 573h3M984 579h3M977 531h3M968 632h3M994 559h3M979 594h3M970 552h3M984 657h3M985 614h3M987 593h3M998 604h3M960 609h3M980 589h3M990 524h3M978 609h3M981 613h3M983 582h3M985 538h3M979 548h3M971 566h3M990 567h3M983 520h3M986 532h3M986 657h3M988 580h3M986 585h3M984 582h3M986 595h3M983 568h3M979 600h3M980 533h3M977 598h3M985 635h3M978 589h3M982 626h3M989 539h3M995 525h3M980 555h3M986 590h3M975 565h3M987 624h3M969 522h3M982 675h3M968 627h3M971 582h3M985 556h3M990 637h3M987 547h3M980 576h3M995 561h3M971 693h3M985 532h3M979 645h3M982 611h3M963 525h3M980 654h3M992 614h3M989 522h3M986 572h3M978 557h3M988 546h3M985 524h3M978 635h3M982 579h3M989 549h3M974 550h3M993 566h3M977 591h3M984 528h3M990 581h3M986 546h3M977 582h3M980 555h3M980 584h3M982 529h3M983 581h3M972 581h3M983 549h3M983 548h3M984 615h3M970 556h3M986 550h3M977 541h3M982 543h3M984 608h3M979 519h3M984 613h3M992 642h3M980 594h3M980 557h3M981 570h3M984 583h3M984 583h3M980 597h3M988 582h3M990 635h3M983 615h3M971 616h3M977 649h3M966 613h3M971 644h3M974 606h3M984 539h3M974 556h3M970 640h3M979 564h3M983 562h3M980 624h3M982 594h3M979 521h3M983 574h3M988 581h3M992 569h3M976 613h3M973 549h3M990 630h3M964 555h3M978 576h3M986 570h3M984 541h3M985 643h3M982 611h3M974 560h3M987 579h3M973 584h3M987 574h3M985 581h3M986 568h3M983 561h3M980 534h3M969 535h3M974 535h3M989 550h3M986 526h3M986 621h3M984 610h3M987 586h3M972 532h3M982 652h3M989 642h3M984 571h3M986 631h3M973 572h3M981 565h3M982 584h3M981 617h3M972 620h3M983 575h3M982 618h3M998 637h3M981 563h3M984 579h3M981 568h3M987 562h3M983 603h3M994 584h3M983 660h3M976 562h3M983 593h3M984 582h3M975 657h3M971 528h3M989 571h3M982 562h3M973 559h3M989 580h3M990 611h3M992 559h3M971 614h3M984 606h3M993 560h3M984 519h3M992 579h3M985 560h3M984 600h3M979 576h3M979 602h3M972 583h3M986 529h3M981 611h3M982 569h3M990 588h3M975 600h3M986 557h3M974 633h3M981 561h3M980 537h3M983 575h3M987 574h3M988 593h3M990 595h3M984 669h3M982 535h3M985 593h3M968 586h3M988 544h3M975 545h3M982 588h3M983 588h3M976 592h3M970 551h3M975 553h3M976 566h3M981 574h3M977 548h3M995 575h3M990 602h3M979 581h3M995 522h3M982 581h3M986 523h3M982 571h3M976 543h3M968 580h3M991 543h3M987 540h3M986 614h3M980 555h3M982 619h3M992 550h3M984 540h3M985 614h3M978 612h3M980 584h3M974 577h3M977 594h3M983 546h3M980 648h3M985 652h3M983 651h3M977 611h3M981 617h3M983 555h3M984 657h3M976 598h3M968 692h3M984 639h3M967 603h3M979 592h3M990 610h3M980 537h3M976 567h3M972 577h3M992 615h3M979 567h3M987 666h3M988 614h3M967 592h3M977 649h3M982 535h3M984 618h3M981 601h3M991 598h3M970 621h3M989 598h3M996 618h3M984 553h3M990 559h3M989 635h3M974 602h3M981 597h3M984 531h3M978 547h3M985 629h3M990 565h3M989 699h3M990 590h3M981 648h3M991 582h3M971 576h3M975 588h3M994 657h3M974 626h3M982 615h3M974 561h3M984 601h3M989 633h3M980 531h3M982 590h3M990 576h3M982 563h3M978 582h3M980 603h3M979 548h3M971 523h3M990 598h3M985 562h3M984 612h3M974 584h3M977 563h3M967 520h3M970 593h3M978 630h3M978 592h3M985 612h3M974 586h3M969 617h3M979 597h3M973 614h3M984 559h3M998 592h3M985 523h3M988 527h3M995 651h3M973 586h3M984 631h3M984 547h3M987 584h3M984 604h3M992 562h3M981 538h3M999 601h3M980 595h3M985 544h3M987 549h3M990 626h3M993 564h3M982 548h3M984 591h3M984 611h3M971 549h3M982 562h3M993 565h3M973 596h3M1006 598h3M993 563h3M982 546h3M977 615h3M986 604h3M986 555h3M987 572h3M982 615h3M983 597h3M969 630h3M980 605h3M971 589h3M976 567h3M991 554h3M974 525h3M976 615h3M987 527h3M994 553h3M978 610h3M992 541h3M979 528h3M977 563h3M990 566h3M981 542h3M987 574h3M973 603h3M980 620h3M983 581h3M981 637h3M981 571h3M989 620h3M981 554h3M986 554h3M974 579h3M978 549h3M971 571h3M982 613h3M984 532h3M993 609h3M995 521h3M987 559h3M958 597h3M971 594h3M972 567h3M968 595h3M975 596h3M955 593h3M983 585h3M974 593h3M973 612h3M961 568h3M972 594h3M959 571h3M954 590h3M962 602h3M974 615h3M977 592h3M962 591h3M977 584h3M973 607h3M972 579h3M976 584h3M964 599h3M984 623h3M961 588h3M967 577h3M974 600h3M973 597h3M975 582h3M991 604h3M959 588h3M961 606h3M971 607h3M983 606h3M981 606h3M985 591h3M971 599h3M966 569h3M993 610h3M976 583h3M988 636h3M973 588h3M977 573h3M969 612h3M977 586h3M980 580h3M987 589h3M979 611h3M969 597h3M973 589h3M981 573h3M955 587h3M988 601h3M982 576h3M974 598h3M969 572h3M956 573h3M988 582h3M964 578h3M981 600h3M967 590h3M974 599h3M975 565h3M980 588h3M966 603h3M986 616h3M972 568h3M949 578h3M992 588h3M961 582h3M977 589h3M980 589h3M966 565h3M985 610h3M987 564h3M965 593h3M976 575h3M973 604h3M972 600h3M963 583h3M974 591h3M987 610h3M974 589h3M958 579h3M972 578h3M965 590h3M973 599h3M992 600h3M977 595h3M967 585h3M964 583h3M977 607h3M977 608h3M959 577h3M983 600h3M957 571h3M954 589h3M965 581h3M960 577h3M965 588h3M981 572h3M985 592h3M959 597h3M968 551h3M968 562h3M978 605h3M964 577h3M966 561h3M972 600h3M961 594h3M951 578h3M977 597h3M978 595h3M958 586h3M972 568h3M991 604h3M982 605h3M957 596h3M977 570h3M985 605h3M963 574h3M980 606h3M967 555h3M986 587h3M970 601h3M957 557h3M979 602h3M979 607h3M973 579h3M976 582h3M972 605h3M974 583h3M987 583h3M992 597h3M984 582h3M974 595h3M960 577h3M985 630h3M986 601h3M986 597h3M991 598h3M945 564h3M966 590h3M976 599h3M955 573h3M956 601h3M969 589h3M980 612h3M975 622h3M960 592h3M966 594h3M988 602h3M967 566h3M953 593h3M966 595h3M986 589h3M968 583h3M967 586h3M970 584h3M978 586h3M995 584h3M989 569h3M981 601h3M963 591h3M982 591h3M969 571h3M973 570h3M977 600h3M978 579h3M977 590h3M959 568h3M969 587h3M967 588h3M955 596h3M971 599h3M965 588h3M959 586h3M986 608h3M978 604h3M967 591h3M984 599h3M975 604h3M972 609h3M964 575h3M967 573h3M988 599h3M965 585h3M977 586h3M957 600h3M972 577h3M972 610h3M991 588h3M970 600h3M982 596h3M943 572h3M969 604h3M971 581h3M976 581h3M961 577h3M962 609h3M1007 601h3M960 603h3M987 594h3M960 576h3M971 579h3M955 602h3M964 584h3M970 588h3M955 578h3M971 586h3M977 597h3M963 570h3M966 582h3M969 604h3M973 591h3M979 585h3M958 599h3M966 590h3M974 593h3M968 567h3M989 588h3M977 618h3M979 594h3M972 575h3M970 582h3M966 588h3M989 573h3M985 615h3M970 595h3M968 588h3M962 584h3M956 582h3M949 607h3M975 609h3M964 583h3M975 569h3M987 621h3M973 586h3M984 581h3M964 594h3M984 574h3M961 577h3M983 582h3M975 581h3M957 578h3M946 583h3M969 600h3M961 588h3M974 571h3M960 602h3M945 566h3M952 574h3M963 600h3M970 578h3M977 603h3M978 555h3M985 583h3M964 587h3M965 570h3M966 568h3M959 591h3M973 597h3M976 586h3M980 601h3M971 603h3M990 588h3M977 597h3M980 598h3M983 596h3M996 615h3M948 577h3M952 598h3M961 606h3M984 601h3M959 591h3M973 597h3M979 592h3M985 600h3M952 570h3M963 616h3M953 589h3M963 592h3M987 595h3M966 590h3M976 624h3M971 605h3M963 597h3M976 581h3M956 565h3M961 580h3M963 597h3M970 579h3M971 601h3M965 569h3M968 584h3M983 599h3M978 596h3M979 593h3M971 595h3M938 537h3M968 612h3M982 593h3M967 579h3M960 580h3M942 573h3M966 591h3M962 607h3M967 590h3M978 617h3M959 574h3M975 602h3M971 581h3M975 592h3M980 607h3M972 594h3M966 605h3M986 591h3M972 578h3M984 580h3M960 595h3M976 590h3M972 575h3M960 609h3M963 574h3M969 607h3M995 605h3M982 553h3M979 609h3M988 609h3M980 584h3M979 581h3M984 591h3M972 602h3M989 597h3M959 593h3M963 583h3M966 586h3M991 596h3M955 593h3M988 595h3M956 582h3M968 586h3M965 584h3M983 584h3M967 564h3M963 580h3M984 619h3M972 574h3M973 581h3M976 583h3M976 565h3M975 598h3M960 586h3M967 571h3M978 588h3M976 595h3M989 609h3M952 571h3M944 589h3M966 578h3M961 577h3M975 597h3M960 582h3M977 605h3M985 603h3M974 603h3M977 589h3M977 570h3M960 579h3M976 594h3M972 600h3M978 622h3M967 586h3M984 619h3M969 572h3M987 592h3M970 603h3M949 595h3M987 615h3M967 581h3M975 604h3M983 607h3M966 562h3M979 598h3M971 581h3M979 592h3M970 592h3M976 589h3M953 595h3M979 582h3M952 582h3M965 578h3M946 592h3M983 579h3M971 552h3M958 578h3M977 589h3M988 602h3M978 586h3M983 594h3M965 584h3M959 603h3M977 591h3M955 586h3M970 596h3M951 579h3M971 600h3M982 565h3M962 572h3M972 606h3M987 572h3M976 582h3M957 573h3M969 599h3M983 604h3M962 571h3M969 577h3M950 579h3M977 589h3M976 575h3M958 569h3M974 577h3M986 603h3M959 591h3M958 598h3M944 582h3M985 596h3M984 596h3M982 601h3M962 573h3M956 590h3M963 572h3M976 584h3M972 576h3M972 602h3M972 597h3M976 588h3M993 592h3M992 598h3M970 602h3M970 582h3M975 589h3M957 572h3M964 551h3M961 611h3M975 570h3M949 587h3M981 572h3M972 580h3M990 604h3M965 610h3M953 579h3M979 592h3M968 593h3M957 575h3M962 566h3M967 580h3M972 582h3M994 623h3M976 612h3M977 594h3M986 594h3M964 589h3M966 591h3M966 577h3M963 587h3M941 586h3M967 594h3M955 568h3M973 586h3M974 586h3M977 589h3M962 568h3M974 599h3M966 616h3M987 586h3M966 572h3M984 586h3M979 596h3M973 587h3M972 593h3M972 598h3M998 603h3M954 575h3M966 593h3M964 598h3M989 585h3M963 602h3M974 585h3M964 579h3M961 587h3M966 587h3M974 585h3M984 599h3M972 596h3M975 576h3M957 595h3M964 596h3M946 577h3M953 596h3M970 589h3M976 529h3M972 531h3M982 544h3M980 534h3M977 527h3M974 534h3M979 539h3M988 533h3M977 524h3M971 528h3M970 525h3M974 537h3M970 532h3M974 527h3M988 542h3M978 523h3M985 540h3M992 524h3M971 525h3M977 540h3M983 532h3M995 526h3M972 527h3M988 532h3M980 531h3M987 531h3M986 522h3M989 525h3M970 533h3M975 532h3M991 527h3M972 527h3M985 533h3M993 535h3M979 533h3M985 537h3M983 538h3M965 528h3M1001 534h3M984 521h3M971 529h3M980 521h3M977 526h3M984 535h3M979 532h3M972 528h3M985 525h3M982 539h3M996 524h3M976 545h3M980 538h3M983 528h3M971 542h3M982 522h3M978 522h3M978 533h3M972 532h3M977 526h3M973 535h3M975 526h3M980 529h3M976 528h3M987 538h3M977 541h3M989 520h3M984 519h3M987 529h3M981 524h3M977 536h3M975 527h3M983 521h3M972 527h3M986 530h3M973 534h3M992 532h3M978 526h3M979 535h3M974 537h3M970 533h3M978 529h3M968 524h3M972 522h3M982 526h3M982 532h3M978 521h3M969 526h3M982 531h3M980 523h3M991 531h3M974 534h3M964 526h3M987 525h3M962 524h3M990 537h3M967 521h3M984 525h3M981 527h3M984 526h3M976 531h3M981 534h3M989 524h3M980 545h3M980 520h3M979 529h3M975 520h3M961 521h3M980 547h3M986 536h3M995 520h3M982 523h3M998 526h3M991 532h3M974 529h3M983 534h3M988 525h3M997 529h3M977 533h3M993 533h3M969 520h3M983 538h3M975 531h3M970 533h3M987 536h3M977 538h3M984 522h3M984 530h3M989 524h3M979 533h3M982 530h3M972 525h3M991 521h3M984 529h3M990 522h3M970 633h3M980 654h3M977 635h3M989 628h3M977 672h3M976 672h3M988 666h3M975 637h3M980 659h3M984 641h3M961 648h3M986 649h3M981 636h3M985 664h3M979 656h3M980 648h3M968 655h3M980 645h3M972 658h3M981 648h3M974 663h3M979 631h3M985 655h3M967 643h3M978 661h3M978 664h3M981 640h3M983 659h3M983 649h3M971 653h3M985 642h3M979 626h3M983 659h3M972 633h3M980 630h3M981 641h3M984 679h3M969 649h3M980 635h3M981 649h3M985 630h3M978 627h3M984 643h3M984 658h3M990 631h3M977 634h3M977 642h3M977 652h3M974 654h3M986 662h3M980 646h3M980 660h3M985 648h3M969 645h3M977 655h3M978 646h3M980 638h3M972 636h3M980 646h3M973 629h3M991 648h3M973 657h3M989 659h3M979 647h3M970 642h3M972 665h3M979 647h3M985 633h3M979 630h3M985 607h3M985 658h3M977 639h3M974 654h3M989 640h3M982 658h3M978 650h3M983 643h3M973 659h3M986 627h3M983 647h3M973 660h3M979 656h3M974 651h3M981 631h3M975 646h3M973 653h3M985 647h3M978 639h3M968 646h3M989 641h3M984 645h3M976 660h3M985 658h3M981 650h3M965 628h3M981 640h3M986 655h3M970 653h3M982 674h3M980 662h3M983 642h3M978 632h3M979 631h3M981 669h3M982 658h3M994 634h3M983 633h3M977 644h3M969 663h3M975 626h3M978 645h3M975 639h3M977 650h3M972 644h3M985 646h3M975 644h3M975 661h3M991 660h3M984 636h3M980 646h3M973 648h3M983 670h3M978 645h3M980 629h3M989 639h3M926 564h3M964 623h3M931 601h3M922 596h3M974 540h3M943 610h3M920 613h3M926 605h3M944 669h3M961 604h3M945 633h3M911 532h3M946 623h3M880 565h3M933 643h3M924 573h3M950 622h3M926 594h3M932 591h3M959 615h3M930 635h3M948 556h3M934 603h3M929 582h3M945 594h3M961 621h3M907 615h3M947 582h3M928 582h3M930 599h3M936 625h3M883 608h3M965 641h3M966 639h3M911 588h3M928 620h3M926 593h3M941 568h3M932 595h3M933 575h3M943 598h3M928 527h3M969 619h3M937 616h3M919 640h3M889 667h3M910 668h3M915 659h3M889 658h3M923 670h3M920 667h3M901 659h3M889 648h3M916 641h3M915 665h3M830 553h3M959 522h3" stroke="#000" stroke-width="3.2" stroke-opacity="0.6" fill="none"/>
<path transform="scale(0.5)" d="M985 577h3M982 639h3M994 577h3M982 577h3M986 576h3M975 562h3M986 549h3M988 560h3M978 597h3M987 580h3M982 522h3M984 575h3M982 525h3M981 600h3M971 570h3M982 603h3M984 590h3M984 625h3M981 582h3M973 588h3M975 557h3M993 598h3M999 588h3M986 530h3M970 563h3M978 520h3M965 565h3M976 580h3M981 564h3M965 546h3M982 624h3M984 579h3M970 616h3M979 546h3M986 551h3M995 539h3M982 593h3M969 556h3M973 600h3M991 634h3M991 561h3M973 622h3M983 625h3M980 532h3M981 615h3M983 539h3M989 623h3M983 592h3M994 623h3M982 608h3M973 598h3M984 554h3M982 549h3M989 633h3M987 665h3M995 531h3M987 583h3M979 541h3M988 532h3M981 550h3M988 577h3M985 666h3M977 534h3M980 658h3M985 621h3M986 537h3M977 625h3M981 567h3M985 619h3M973 571h3M987 659h3M985 542h3M993 598h3M974 578h3M986 590h3M984 615h3M979 584h3M979 628h3M983 539h3M970 629h3M982 578h3M978 567h3M985 627h3M984 564h3M968 521h3M981 524h3M979 597h3M978 519h3M994 527h3M975 527h3M984 560h3M986 552h3M992 625h3M984 550h3M982 575h3M986 615h3M977 577h3M980 587h3M984 648h3M993 519h3M992 569h3M984 578h3M980 594h3M983 567h3M987 596h3M978 606h3M993 547h3M973 564h3M994 537h3M985 615h3M981 576h3M975 562h3M976 563h3M982 539h3M987 569h3M984 574h3M976 534h3M989 592h3M982 561h3M979 573h3M986 542h3M981 574h3M981 606h3M990 591h3M979 591h3M971 575h3M972 551h3M982 544h3M975 597h3M972 531h3M988 603h3M965 546h3M979 537h3M980 554h3M989 653h3M977 644h3M990 581h3M971 636h3M969 586h3M986 628h3M979 606h3M968 547h3M982 551h3M978 616h3M977 532h3M986 573h3M980 658h3M988 648h3M976 554h3M968 582h3M995 601h3M983 611h3M987 639h3M985 611h3M998 626h3M987 611h3M973 599h3M976 564h3M971 555h3M989 574h3M973 575h3M989 565h3M985 594h3M983 618h3M970 641h3M989 564h3M984 641h3M988 583h3M982 560h3M993 523h3M986 551h3M975 549h3M974 591h3M975 568h3M983 583h3M993 601h3M995 604h3M978 576h3M985 579h3M988 671h3M972 553h3M978 570h3M989 592h3M976 519h3M992 570h3M990 603h3M985 648h3M983 604h3M975 577h3M979 632h3M985 538h3M979 568h3M991 609h3M989 590h3M983 544h3M978 691h3M986 579h3M977 554h3M976 581h3M977 547h3M985 608h3M973 630h3M983 601h3M984 644h3M993 621h3M980 624h3M981 588h3M967 617h3M982 541h3M982 563h3M981 627h3M984 675h3M998 566h3M975 555h3M984 584h3M984 578h3M981 562h3M994 553h3M987 568h3M977 552h3M988 524h3M979 634h3M979 598h3M992 562h3M985 593h3M991 632h3M979 600h3M986 639h3M975 574h3M974 584h3M974 552h3M985 604h3M979 571h3M986 630h3M980 597h3M983 599h3M977 525h3M978 526h3M988 556h3M978 561h3M988 585h3M972 582h3M986 567h3M973 570h3M982 603h3M984 542h3M981 549h3M974 652h3M996 621h3M983 630h3M993 596h3M978 536h3M980 595h3M982 586h3M982 640h3M983 611h3M983 555h3M990 542h3M981 547h3M986 625h3M976 577h3M981 620h3M982 577h3M984 623h3M997 546h3M988 669h3M970 618h3M993 561h3M984 571h3M990 579h3M982 562h3M978 603h3M974 573h3M973 557h3M984 570h3M984 522h3M975 600h3M976 595h3M996 588h3M970 611h3M986 597h3M983 610h3M973 541h3M993 566h3M996 542h3M977 646h3M987 526h3M986 545h3M975 628h3M974 572h3M975 567h3M987 567h3M990 621h3M983 615h3M977 647h3M994 590h3M973 603h3M996 555h3M967 614h3M985 663h3M984 545h3M984 661h3M983 571h3M993 603h3M989 640h3M984 607h3M975 562h3M967 538h3M984 606h3M978 536h3M992 579h3M971 522h3M981 575h3M995 555h3M980 617h3M984 590h3M984 565h3M973 570h3M994 547h3M996 579h3M983 655h3M983 568h3M972 550h3M976 626h3M984 562h3M970 607h3M986 546h3M984 555h3M985 652h3M981 555h3M991 544h3M986 578h3M985 529h3M987 603h3M983 558h3M976 661h3M985 545h3M982 561h3M987 578h3M988 603h3M976 535h3M979 546h3M975 559h3M982 631h3M980 552h3M981 564h3M975 526h3M981 631h3M994 571h3M987 546h3M987 641h3M985 571h3M982 601h3M978 605h3M979 520h3M967 601h3M991 549h3M965 642h3M983 610h3M985 560h3M981 545h3M988 545h3M980 547h3M977 541h3M990 536h3M980 527h3M968 533h3M981 592h3M961 526h3M991 585h3M977 568h3M986 587h3M983 602h3M983 655h3M959 590h3M987 611h3M963 587h3M975 586h3M989 597h3M962 596h3M966 582h3M978 575h3M979 610h3M971 615h3M976 573h3M972 604h3M952 568h3M981 588h3M965 596h3M971 568h3M978 586h3M964 571h3M959 604h3M975 573h3M963 589h3M972 577h3M982 599h3M995 577h3M971 605h3M984 583h3M966 577h3M980 592h3M972 593h3M966 588h3M964 573h3M975 592h3M969 576h3M965 578h3M962 574h3M966 574h3M974 605h3M978 607h3M971 592h3M979 606h3M958 565h3M983 624h3M972 597h3M964 567h3M988 608h3M979 578h3M952 564h3M953 571h3M971 594h3M953 576h3M951 585h3M980 585h3M961 596h3M964 560h3M980 603h3M970 596h3M984 600h3M974 602h3M990 607h3M971 574h3M972 589h3M984 591h3M956 578h3M972 597h3M974 597h3M972 590h3M977 590h3M967 584h3M975 596h3M969 612h3M970 590h3M955 554h3M977 586h3M970 554h3M977 583h3M976 587h3M970 592h3M970 594h3M985 603h3M971 588h3M954 557h3M953 578h3M978 581h3M970 579h3M978 609h3M986 590h3M969 602h3M976 613h3M976 582h3M971 579h3M981 583h3M964 597h3M980 570h3M948 580h3M956 603h3M980 617h3M968 576h3M961 592h3M985 585h3M975 579h3M966 577h3M966 602h3M991 594h3M969 590h3M970 591h3M977 603h3M953 591h3M982 579h3M973 591h3M972 588h3M979 605h3M976 587h3M971 580h3M970 596h3M956 596h3M955 575h3M962 575h3M951 590h3M977 600h3M973 590h3M972 605h3M963 584h3M972 608h3M959 599h3M953 585h3M965 584h3M983 586h3M947 571h3M966 586h3M970 578h3M980 618h3M959 578h3M975 575h3M989 607h3M968 614h3M988 605h3M961 596h3M966 590h3M965 584h3M970 594h3M953 610h3M963 592h3M967 573h3M967 574h3M977 594h3M982 598h3M955 595h3M973 598h3M957 596h3M970 571h3M980 596h3M985 604h3M977 601h3M972 590h3M985 618h3M962 586h3M974 579h3M978 596h3M952 585h3M979 594h3M974 612h3M963 579h3M982 586h3M992 619h3M973 605h3M961 569h3M944 606h3M963 577h3M960 604h3M963 598h3M967 602h3M984 582h3M961 583h3M969 580h3M973 605h3M973 591h3M964 578h3M952 605h3M972 569h3M972 577h3M989 617h3M988 592h3M969 582h3M959 611h3M974 595h3M982 581h3M970 604h3M977 603h3M964 617h3M982 583h3M956 575h3M971 611h3M976 551h3M977 620h3M958 586h3M957 575h3M958 594h3M976 622h3M971 608h3M966 590h3M956 578h3M962 597h3M970 591h3M966 592h3M972 586h3M972 592h3M969 584h3M969 596h3M975 587h3M993 608h3M957 581h3M981 591h3M969 593h3M983 595h3M953 594h3M977 580h3M981 596h3M964 571h3M971 601h3M962 578h3M973 586h3M979 592h3M956 586h3M978 573h3M954 583h3M973 609h3M944 556h3M992 604h3M973 593h3M985 597h3M964 597h3M955 581h3M934 561h3M964 581h3M980 613h3M968 596h3M981 596h3M957 561h3M950 574h3M990 590h3M966 585h3M959 593h3M948 569h3M966 568h3M978 597h3M968 593h3M976 581h3M976 605h3M956 585h3M976 575h3M956 588h3M979 604h3M950 581h3M981 589h3M970 574h3M971 594h3M975 572h3M969 591h3M972 602h3M990 608h3M953 573h3M965 585h3M966 593h3M974 620h3M979 599h3M950 570h3M970 585h3M990 597h3M965 571h3M944 573h3M964 564h3M968 627h3M965 602h3M976 582h3M986 600h3M970 584h3M968 559h3M962 570h3M979 583h3M960 590h3M977 604h3M965 592h3M975 594h3M964 588h3M967 558h3M992 601h3M970 597h3M980 593h3M970 572h3M952 570h3M958 574h3M982 575h3M973 587h3M980 582h3M985 608h3M974 588h3M962 594h3M960 570h3M963 594h3M976 598h3M969 564h3M976 578h3M962 574h3M958 592h3M986 617h3M981 612h3M965 597h3M978 587h3M961 602h3M982 601h3M983 590h3M963 593h3M983 568h3M970 608h3M968 581h3M955 592h3M971 591h3M984 592h3M979 591h3M979 604h3M983 575h3M982 590h3M957 581h3M963 583h3M978 596h3M975 593h3M948 581h3M983 614h3M971 613h3M960 574h3M945 602h3M990 598h3M970 598h3M960 603h3M970 589h3M974 599h3M970 583h3M964 576h3M974 602h3M964 573h3M975 593h3M958 597h3M954 577h3M956 584h3M971 571h3M977 588h3M971 602h3M987 606h3M990 583h3M1000 573h3M961 581h3M969 568h3M986 596h3M969 592h3M964 583h3M979 586h3M989 575h3M999 610h3M981 587h3M977 572h3M968 582h3M960 590h3M982 585h3M952 577h3M957 574h3M972 590h3M968 598h3M965 577h3M965 579h3M972 591h3M957 602h3M967 609h3M974 590h3M959 593h3M974 591h3M980 596h3M977 606h3M977 567h3M969 602h3M988 578h3M971 600h3M964 596h3M966 599h3M992 603h3M976 601h3M984 585h3M968 597h3M964 597h3M972 597h3M982 570h3M989 574h3M969 574h3M963 574h3M962 581h3M970 585h3M958 596h3M983 584h3M962 617h3M985 586h3M952 584h3M960 580h3M963 580h3M992 612h3M965 587h3M971 596h3M968 595h3M968 606h3M971 583h3M996 580h3M959 598h3M980 594h3M981 593h3M985 594h3M957 583h3M955 586h3M959 596h3M971 584h3M953 584h3M992 598h3M981 580h3M986 597h3M969 590h3M991 581h3M964 607h3M974 576h3M976 588h3M962 590h3M963 595h3M962 580h3M969 601h3M966 588h3M976 596h3M951 604h3M969 602h3M955 580h3M968 586h3M983 592h3M976 594h3M986 589h3M977 584h3M975 564h3M973 573h3M997 616h3M971 592h3M958 586h3M997 598h3M973 591h3M983 604h3M978 597h3M959 561h3M975 574h3M965 596h3M971 591h3M969 594h3M972 586h3M972 583h3M964 595h3M960 579h3M945 587h3M952 582h3M958 599h3M994 591h3M967 564h3M972 611h3M971 574h3M979 567h3M959 573h3M972 591h3M959 565h3M954 576h3M959 588h3M958 598h3M971 579h3M982 560h3M961 580h3M982 602h3M968 595h3M978 591h3M977 591h3M981 588h3M962 588h3M995 620h3M966 573h3M982 598h3M969 587h3M984 596h3M962 581h3M960 581h3M958 562h3M953 602h3M963 603h3M946 551h3M977 596h3M968 584h3M949 580h3M981 600h3M984 619h3M973 609h3M979 597h3M996 608h3M994 534h3M982 522h3M982 537h3M995 531h3M988 527h3M976 532h3M981 527h3M975 528h3M975 526h3M968 521h3M983 524h3M983 550h3M991 523h3M985 521h3M979 526h3M997 532h3M986 527h3M987 525h3M987 520h3M972 525h3M985 526h3M982 537h3M988 532h3M988 545h3M977 524h3M977 530h3M984 543h3M993 533h3M977 527h3M996 524h3M972 547h3M986 538h3M986 522h3M982 536h3M978 533h3M974 538h3M989 519h3M974 534h3M1002 534h3M991 531h3M967 521h3M989 523h3M980 522h3M976 537h3M987 536h3M990 520h3M978 542h3M981 528h3M975 531h3M977 526h3M979 536h3M991 527h3M971 532h3M980 520h3M992 530h3M972 532h3M984 535h3M985 529h3M971 528h3M979 536h3M972 537h3M975 527h3M976 537h3M974 524h3M983 544h3M983 521h3M984 524h3M990 532h3M986 529h3M966 528h3M992 525h3M981 526h3M981 521h3M960 519h3M977 525h3M983 532h3M984 524h3M977 540h3M969 526h3M980 528h3M977 525h3M981 527h3M959 531h3M955 527h3M987 538h3M986 524h3M987 520h3M976 530h3M990 532h3M995 534h3M985 537h3M988 525h3M979 521h3M978 520h3M988 526h3M975 534h3M977 519h3M982 526h3M979 525h3M977 522h3M969 529h3M975 531h3M984 535h3M976 523h3M982 523h3M979 534h3M970 522h3M977 532h3M976 520h3M983 529h3M979 528h3M970 524h3M976 528h3M977 521h3M975 533h3M983 532h3M989 544h3M971 525h3M979 529h3M980 542h3M974 521h3M972 535h3M973 535h3M972 543h3M973 530h3M989 525h3M986 520h3M976 526h3M968 521h3M984 530h3M987 531h3M974 527h3M983 539h3M979 543h3M989 540h3M992 538h3M980 533h3M989 526h3M970 656h3M978 625h3M988 647h3M969 656h3M991 635h3M982 652h3M980 627h3M980 640h3M980 630h3M975 655h3M979 666h3M976 621h3M976 660h3M982 639h3M978 652h3M966 661h3M985 663h3M981 659h3M977 647h3M972 657h3M973 636h3M981 640h3M976 629h3M977 642h3M980 633h3M971 651h3M980 635h3M971 665h3M982 647h3M981 644h3M985 656h3M977 658h3M974 656h3M983 645h3M983 676h3M978 656h3M978 659h3M970 652h3M976 640h3M976 640h3M993 653h3M974 642h3M979 647h3M980 649h3M980 663h3M979 650h3M975 646h3M971 675h3M988 668h3M990 652h3M985 650h3M980 627h3M981 636h3M981 624h3M979 667h3M978 659h3M971 647h3M984 641h3M983 654h3M974 652h3M973 649h3M983 659h3M974 636h3M981 669h3M976 636h3M986 653h3M979 633h3M972 684h3M985 650h3M978 656h3M990 649h3M980 651h3M986 653h3M972 652h3M968 637h3M979 674h3M969 643h3M984 661h3M988 639h3M978 644h3M979 640h3M982 666h3M980 625h3M978 639h3M981 651h3M978 651h3M973 658h3M986 661h3M978 668h3M985 649h3M983 635h3M974 625h3M980 639h3M965 664h3M982 640h3M967 632h3M976 659h3M987 659h3M977 640h3M980 661h3M975 667h3M987 649h3M981 663h3M975 623h3M986 638h3M980 667h3M971 667h3M977 661h3M977 644h3M972 662h3M975 646h3M985 678h3M982 630h3M979 656h3M989 665h3M972 625h3M980 643h3M983 652h3M980 670h3M984 643h3M990 627h3M976 652h3M976 669h3M964 665h3M974 652h3M958 651h3M933 598h3M926 601h3M947 593h3M933 595h3M901 612h3M923 599h3M920 592h3M939 601h3M948 561h3M905 633h3M966 658h3M942 617h3M937 630h3M904 585h3M959 616h3M956 620h3M962 587h3M939 608h3M929 672h3M949 620h3M901 661h3M934 556h3M967 643h3M963 608h3M919 599h3M919 629h3M935 609h3M945 639h3M919 620h3M936 574h3M942 564h3M924 612h3M946 563h3M939 558h3M925 606h3M960 628h3M941 614h3M905 589h3M946 590h3M898 643h3M929 586h3M914 607h3M960 584h3M942 617h3M887 673h3M924 649h3M905 660h3M908 647h3M906 651h3M908 651h3M928 671h3M940 662h3M894 645h3M911 653h3M986 664h3M858 689h3M846 678h3" stroke="#000" stroke-width="3.2" stroke-opacity="0.6" fill="none"/>
<path transform="scale(0.5)" d="M989 605h3M979 556h3M983 589h3M965 572h3M995 672h3M975 644h3M986 600h3M988 612h3M972 521h3M977 615h3M993 543h3M983 551h3M983 586h3M981 615h3M985 537h3M982 557h3M986 543h3M980 603h3M987 591h3M978 642h3M988 533h3M975 605h3M987 650h3M984 580h3M983 615h3M984 596h3M988 529h3M986 606h3M994 608h3M986 563h3M977 555h3M978 650h3M989 649h3M991 558h3M987 582h3M976 622h3M969 563h3M978 575h3M983 649h3M990 609h3M986 572h3M983 670h3M979 605h3M987 575h3M966 552h3M986 659h3M973 557h3M985 521h3M991 601h3M985 577h3M984 526h3M983 542h3M972 577h3M985 617h3M983 574h3M991 603h3M978 628h3M976 577h3M978 602h3M976 586h3M981 563h3M986 564h3M980 612h3M982 609h3M987 689h3M987 629h3M977 522h3M978 625h3M981 616h3M983 624h3M976 566h3M990 648h3M988 603h3M991 673h3M980 524h3M986 631h3M988 573h3M975 523h3M988 564h3M975 543h3M975 599h3M989 574h3M981 548h3M976 588h3M979 604h3M980 580h3M977 562h3M981 548h3M997 559h3M978 541h3M990 642h3M988 574h3M982 602h3M980 561h3M984 555h3M982 530h3M984 556h3M993 575h3M980 613h3M980 567h3M987 646h3M987 577h3M973 601h3M976 577h3M977 583h3M995 579h3M978 610h3M980 604h3M982 601h3M986 542h3M980 617h3M976 626h3M982 580h3M988 529h3M987 545h3M982 587h3M979 605h3M971 546h3M978 583h3M992 551h3M989 533h3M974 581h3M977 654h3M977 620h3M987 590h3M973 571h3M977 565h3M973 616h3M983 584h3M981 595h3M983 572h3M980 607h3M985 585h3M978 589h3M999 561h3M992 550h3M983 537h3M981 547h3M986 666h3M980 588h3M981 627h3M994 608h3M983 565h3M965 583h3M982 579h3M986 642h3M981 634h3M976 596h3M990 603h3M989 536h3M976 646h3M982 535h3M985 623h3M971 649h3M986 552h3M979 610h3M991 589h3M993 562h3M984 565h3M976 624h3M989 597h3M985 580h3M999 592h3M973 670h3M972 650h3M985 578h3M994 533h3M995 598h3M992 537h3M978 569h3M978 607h3M989 631h3M992 555h3M974 560h3M981 585h3M972 538h3M985 565h3M985 591h3M984 634h3M974 576h3M988 528h3M992 600h3M993 563h3M970 540h3M976 612h3M975 560h3M995 566h3M985 539h3M976 600h3M979 645h3M986 570h3M982 564h3M982 539h3M970 594h3M982 556h3M988 557h3M981 554h3M977 538h3M971 595h3M979 542h3M984 555h3M977 638h3M979 617h3M990 534h3M984 548h3M990 596h3M995 574h3M982 597h3M978 603h3M987 583h3M989 604h3M974 588h3M975 546h3M975 567h3M971 539h3M972 592h3M980 587h3M981 629h3M985 545h3M977 536h3M978 578h3M976 566h3M994 597h3M979 532h3M981 525h3M965 550h3M982 619h3M982 562h3M969 586h3M980 615h3M975 616h3M988 641h3M974 525h3M982 529h3M960 562h3M991 610h3M986 633h3M972 590h3M984 589h3M985 557h3M969 560h3M983 617h3M973 582h3M985 552h3M982 624h3M991 560h3M984 586h3M978 539h3M988 666h3M989 579h3M980 597h3M992 615h3M982 519h3M986 649h3M980 548h3M975 557h3M978 561h3M987 538h3M985 567h3M986 577h3M987 632h3M981 615h3M982 556h3M970 589h3M985 611h3M978 553h3M988 561h3M974 623h3M981 540h3M986 550h3M987 546h3M980 670h3M986 549h3M977 526h3M970 584h3M978 584h3M984 548h3M990 577h3M983 562h3M983 568h3M987 591h3M976 549h3M991 551h3M976 654h3M971 548h3M984 574h3M982 556h3M982 608h3M998 579h3M978 585h3M982 568h3M980 652h3M987 616h3M994 637h3M980 610h3M968 581h3M982 683h3M980 596h3M979 546h3M991 585h3M976 560h3M979 573h3M989 650h3M983 592h3M992 629h3M975 558h3M978 665h3M994 555h3M991 565h3M985 646h3M977 540h3M984 604h3M986 606h3M1005 617h3M990 597h3M981 592h3M982 591h3M984 588h3M983 551h3M981 565h3M980 642h3M979 610h3M987 588h3M986 580h3M981 572h3M979 606h3M985 558h3M987 551h3M990 526h3M988 544h3M987 605h3M983 646h3M978 572h3M995 555h3M981 556h3M986 587h3M974 601h3M974 633h3M986 634h3M980 586h3M979 666h3M981 553h3M979 565h3M986 656h3M991 563h3M978 573h3M982 587h3M977 543h3M984 657h3M984 578h3M990 613h3M976 592h3M975 558h3M993 527h3M980 586h3M982 569h3M989 545h3M981 560h3M985 528h3M989 541h3M969 562h3M1000 589h3M976 593h3M994 539h3M991 585h3M989 550h3M982 673h3M976 655h3M984 549h3M978 561h3M987 661h3M984 557h3M984 602h3M981 547h3M982 586h3M984 534h3M976 603h3M988 534h3M982 612h3M981 553h3M975 584h3M986 574h3M982 576h3M985 562h3M977 540h3M988 570h3M950 571h3M977 580h3M967 567h3M979 602h3M978 591h3M952 571h3M969 586h3M961 568h3M972 618h3M962 589h3M958 587h3M979 583h3M947 610h3M972 609h3M974 594h3M955 570h3M976 614h3M978 605h3M966 570h3M964 599h3M960 620h3M958 573h3M976 601h3M969 591h3M967 587h3M960 604h3M964 585h3M979 624h3M953 589h3M960 565h3M972 580h3M975 596h3M991 602h3M968 605h3M964 581h3M959 578h3M976 586h3M971 585h3M962 572h3M965 572h3M973 567h3M975 604h3M959 575h3M952 568h3M967 571h3M981 599h3M971 583h3M969 586h3M960 580h3M968 572h3M987 602h3M978 611h3M943 545h3M955 606h3M977 600h3M978 593h3M987 586h3M981 585h3M962 587h3M987 588h3M952 570h3M988 614h3M967 580h3M965 560h3M965 599h3M989 592h3M980 595h3M973 566h3M980 583h3M974 593h3M964 603h3M977 609h3M973 605h3M977 576h3M974 589h3M975 594h3M975 598h3M957 580h3M981 583h3M976 609h3M982 588h3M953 591h3M971 612h3M952 572h3M977 604h3M980 591h3M969 592h3M982 586h3M963 589h3M968 609h3M974 614h3M969 602h3M983 603h3M964 586h3M970 582h3M978 567h3M965 610h3M971 591h3M971 590h3M976 579h3M987 606h3M961 598h3M972 581h3M971 583h3M969 588h3M966 587h3M960 582h3M969 588h3M968 594h3M971 597h3M972 567h3M980 601h3M975 615h3M972 573h3M959 591h3M965 595h3M972 615h3M956 574h3M976 597h3M968 581h3M958 586h3M958 596h3M970 591h3M979 596h3M966 581h3M981 594h3M985 617h3M982 628h3M973 586h3M985 588h3M979 589h3M981 584h3M957 567h3M967 617h3M984 567h3M1007 608h3M977 570h3M970 580h3M963 570h3M978 610h3M959 570h3M979 586h3M981 581h3M984 570h3M961 600h3M965 592h3M975 592h3M975 594h3M990 606h3M961 579h3M976 604h3M970 590h3M966 614h3M959 586h3M982 599h3M976 580h3M978 588h3M969 608h3M976 568h3M971 596h3M976 598h3M979 609h3M977 606h3M980 578h3M973 596h3M947 587h3M971 603h3M971 590h3M971 573h3M973 612h3M974 565h3M966 604h3M977 576h3M977 589h3M969 572h3M968 585h3M1004 595h3M978 605h3M971 600h3M973 590h3M969 581h3M970 588h3M977 570h3M977 581h3M970 591h3M968 593h3M973 591h3M964 611h3M964 572h3M986 579h3M982 596h3M982 573h3M956 589h3M953 578h3M977 587h3M971 596h3M959 587h3M960 593h3M968 601h3M981 601h3M963 595h3M966 609h3M985 613h3M975 582h3M970 553h3M977 616h3M975 614h3M964 586h3M991 610h3M973 589h3M969 592h3M963 584h3M963 591h3M975 571h3M962 601h3M963 595h3M980 585h3M973 598h3M981 592h3M970 580h3M964 595h3M951 552h3M956 595h3M961 592h3M965 586h3M972 594h3M965 573h3M976 595h3M977 601h3M976 588h3M949 605h3M972 571h3M983 594h3M971 589h3M978 580h3M993 601h3M980 601h3M973 586h3M981 597h3M976 570h3M974 574h3M974 578h3M959 599h3M988 598h3M975 592h3M971 600h3M966 578h3M994 604h3M967 593h3M954 565h3M970 607h3M975 584h3M962 595h3M971 581h3M984 596h3M970 574h3M971 593h3M951 599h3M980 576h3M952 584h3M967 583h3M962 574h3M970 604h3M966 563h3M968 574h3M978 587h3M964 585h3M967 589h3M957 597h3M975 581h3M987 571h3M975 594h3M980 574h3M982 554h3M988 595h3M978 580h3M964 592h3M985 601h3M973 583h3M971 592h3M973 605h3M998 588h3M966 584h3M983 577h3M955 579h3M967 568h3M991 616h3M971 590h3M971 580h3M971 603h3M956 589h3M954 557h3M973 577h3M972 595h3M962 590h3M961 582h3M964 581h3M956 600h3M976 603h3M972 588h3M965 573h3M958 576h3M988 591h3M964 576h3M976 587h3M976 572h3M976 579h3M963 572h3M965 605h3M955 604h3M975 586h3M966 612h3M984 592h3M984 612h3M994 607h3M972 579h3M963 576h3M988 602h3M961 602h3M969 595h3M984 605h3M969 609h3M974 591h3M974 591h3M965 588h3M963 595h3M973 608h3M982 607h3M965 569h3M983 588h3M964 596h3M969 578h3M955 562h3M976 572h3M952 576h3M979 588h3M973 598h3M974 584h3M985 588h3M963 601h3M943 590h3M981 596h3M959 581h3M941 588h3M965 589h3M970 622h3M966 590h3M992 586h3M953 576h3M976 580h3M995 599h3M974 602h3M979 615h3M992 619h3M985 619h3M974 593h3M973 602h3M973 573h3M976 613h3M940 564h3M973 599h3M965 593h3M961 589h3M961 593h3M983 583h3M958 594h3M975 597h3M972 600h3M984 595h3M964 589h3M993 587h3M971 616h3M982 594h3M967 586h3M968 606h3M969 582h3M971 594h3M977 606h3M974 597h3M977 597h3M1004 618h3M962 596h3M974 587h3M973 603h3M971 598h3M972 588h3M958 572h3M962 587h3M965 576h3M984 581h3M978 596h3M965 570h3M969 583h3M975 603h3M986 577h3M984 572h3M977 607h3M963 593h3M970 614h3M974 594h3M978 594h3M980 578h3M974 600h3M969 618h3M990 596h3M965 581h3M972 594h3M963 576h3M955 591h3M966 578h3M976 597h3M971 606h3M960 556h3M954 576h3M974 568h3M946 544h3M946 559h3M967 588h3M985 567h3M971 580h3M965 569h3M967 595h3M979 576h3M977 605h3M998 568h3M965 573h3M977 599h3M952 579h3M986 599h3M975 577h3M986 613h3M974 624h3M966 597h3M978 585h3M970 583h3M973 591h3M969 589h3M961 583h3M983 594h3M963 599h3M971 603h3M983 574h3M968 583h3M962 580h3M981 584h3M970 579h3M971 606h3M973 589h3M970 590h3M952 579h3M985 617h3M970 587h3M963 605h3M992 606h3M979 582h3M979 600h3M971 573h3M980 591h3M997 628h3M958 583h3M988 589h3M976 594h3M974 602h3M981 589h3M965 580h3M1005 600h3M981 597h3M995 590h3M974 599h3M961 595h3M967 592h3M980 593h3M978 558h3M970 598h3M964 591h3M983 607h3M964 572h3M955 564h3M970 607h3M964 593h3M956 610h3M964 584h3M966 609h3M964 583h3M999 590h3M954 604h3M974 596h3M973 573h3M990 620h3M979 594h3M974 595h3M980 600h3M950 595h3M984 613h3M967 579h3M956 565h3M957 604h3M978 586h3M966 599h3M971 531h3M985 520h3M973 520h3M968 525h3M983 527h3M985 527h3M972 522h3M949 549h3M974 535h3M969 523h3M973 530h3M982 522h3M1000 521h3M993 538h3M979 520h3M976 527h3M985 542h3M982 523h3M963 533h3M975 533h3M989 527h3M969 520h3M972 530h3M985 526h3M984 524h3M980 525h3M979 521h3M975 522h3M976 522h3M979 527h3M971 527h3M978 530h3M968 520h3M986 532h3M999 543h3M983 520h3M971 520h3M977 525h3M994 529h3M977 521h3M976 537h3M972 531h3M984 525h3M977 522h3M976 544h3M990 525h3M971 524h3M981 534h3M974 523h3M984 529h3M989 534h3M985 522h3M967 531h3M984 526h3M973 520h3M976 523h3M976 528h3M988 536h3M984 540h3M989 530h3M983 532h3M971 530h3M983 533h3M995 523h3M976 521h3M975 534h3M976 527h3M965 530h3M968 531h3M993 520h3M990 536h3M983 523h3M999 519h3M983 531h3M984 538h3M993 529h3M976 522h3M966 530h3M974 524h3M970 527h3M974 526h3M981 526h3M977 535h3M988 531h3M985 525h3M966 529h3M971 530h3M972 524h3M991 525h3M973 533h3M971 535h3M980 526h3M980 526h3M971 533h3M974 529h3M975 525h3M971 539h3M993 529h3M995 536h3M978 534h3M966 521h3M976 528h3M969 525h3M978 524h3M992 533h3M988 525h3M989 525h3M979 531h3M975 523h3M970 523h3M969 519h3M984 543h3M978 525h3M973 528h3M979 519h3M989 537h3M986 524h3M980 530h3M988 525h3M984 532h3M983 540h3M982 525h3M976 523h3M984 527h3M992 523h3M978 523h3M978 525h3M978 529h3M980 521h3M968 530h3M991 523h3M977 661h3M983 645h3M977 650h3M980 636h3M986 640h3M986 664h3M987 646h3M976 636h3M977 628h3M978 652h3M979 632h3M977 649h3M974 639h3M975 617h3M977 653h3M969 666h3M966 652h3M980 641h3M977 665h3M969 661h3M972 638h3M983 652h3M984 631h3M979 672h3M984 649h3M970 649h3M976 631h3M984 655h3M986 669h3M981 636h3M988 667h3M971 648h3M982 647h3M978 629h3M979 622h3M980 638h3M978 670h3M982 656h3M979 646h3M981 636h3M981 652h3M990 649h3M980 624h3M973 651h3M978 663h3M979 650h3M992 640h3M978 651h3M985 642h3M977 644h3M979 683h3M977 671h3M978 677h3M976 656h3M985 643h3M977 659h3M974 624h3M981 629h3M970 639h3M985 631h3M981 623h3M992 650h3M972 642h3M984 629h3M984 638h3M982 639h3M977 649h3M980 638h3M981 616h3M991 640h3M987 634h3M982 653h3M975 634h3M982 636h3M975 656h3M986 648h3M978 659h3M982 642h3M985 646h3M985 631h3M972 646h3M980 658h3M989 655h3M974 656h3M984 633h3M973 649h3M974 632h3M982 664h3M980 661h3M985 638h3M981 646h3M988 661h3M976 652h3M984 645h3M972 663h3M980 662h3M984 642h3M984 675h3M977 654h3M976 640h3M981 650h3M971 640h3M987 630h3M990 633h3M974 620h3M974 631h3M988 644h3M993 636h3M986 635h3M976 620h3M984 647h3M964 646h3M978 651h3M971 658h3M980 642h3M978 649h3M980 652h3M978 665h3M977 634h3M980 649h3M979 641h3M978 621h3M972 648h3M989 648h3M974 656h3M929 591h3M907 624h3M950 594h3M948 548h3M948 598h3M912 598h3M950 552h3M936 617h3M920 616h3M916 642h3M942 581h3M918 675h3M942 627h3M941 622h3M937 622h3M927 576h3M947 575h3M919 617h3M936 602h3M917 618h3M919 610h3M912 644h3M925 625h3M916 572h3M912 573h3M931 596h3M958 553h3M911 559h3M969 623h3M953 583h3M896 584h3M917 672h3M938 592h3M931 613h3M951 613h3M934 605h3M937 609h3M931 622h3M914 609h3M929 627h3M980 647h3M908 582h3M884 648h3M903 606h3M955 620h3M896 648h3M908 662h3M907 652h3M924 655h3M915 654h3M909 662h3M895 646h3M939 666h3M884 656h3M898 658h3M927 685h3M1014 569h3M996 595h3" stroke="#000" stroke-width="3.2" stroke-opacity="0.6" fill="none"/>
</svg>
</body></html>
